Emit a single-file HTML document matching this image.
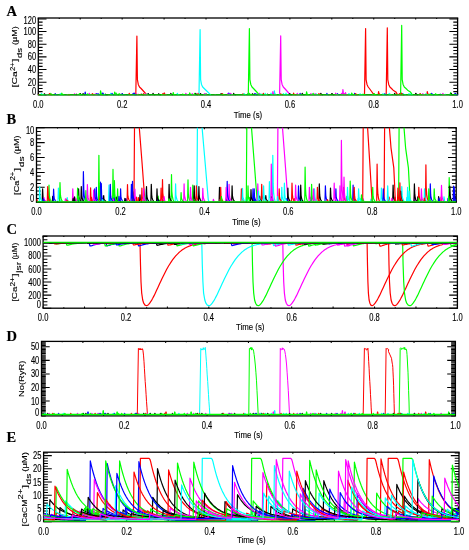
<!DOCTYPE html><html><head><meta charset="utf-8"><style>html,body{margin:0;padding:0;background:#fff;}svg{display:block;filter:blur(0.4px);}text{font-family:"Liberation Sans", sans-serif;fill:#000;stroke:#000;stroke-width:0.15px;}</style></head><body>
<svg width="469" height="550" viewBox="0 0 469 550">
<rect width="469" height="550" fill="#fff"/>
<rect x="38.30" y="18.00" width="419.30" height="76.80" fill="none" stroke="#000" stroke-width="1.3"/>
<path d="M38.30 94.80h8.2M457.60 94.80h-8.2M38.30 91.64h4.3M457.60 91.64h-4.3M38.30 88.48h4.3M457.60 88.48h-4.3M38.30 85.32h4.3M457.60 85.32h-4.3M38.30 82.16h8.2M457.60 82.16h-8.2M38.30 79.00h4.3M457.60 79.00h-4.3M38.30 75.84h4.3M457.60 75.84h-4.3M38.30 72.68h4.3M457.60 72.68h-4.3M38.30 69.52h8.2M457.60 69.52h-8.2M38.30 66.36h4.3M457.60 66.36h-4.3M38.30 63.20h4.3M457.60 63.20h-4.3M38.30 60.03h4.3M457.60 60.03h-4.3M38.30 56.87h8.2M457.60 56.87h-8.2M38.30 53.71h4.3M457.60 53.71h-4.3M38.30 50.55h4.3M457.60 50.55h-4.3M38.30 47.39h4.3M457.60 47.39h-4.3M38.30 44.23h8.2M457.60 44.23h-8.2M38.30 41.07h4.3M457.60 41.07h-4.3M38.30 37.91h4.3M457.60 37.91h-4.3M38.30 34.75h4.3M457.60 34.75h-4.3M38.30 31.59h8.2M457.60 31.59h-8.2M38.30 28.43h4.3M457.60 28.43h-4.3M38.30 25.27h4.3M457.60 25.27h-4.3M38.30 22.11h4.3M457.60 22.11h-4.3M38.30 18.95h8.2M457.60 18.95h-8.2M38.30 94.80v-1.6M38.30 18.00v1.6M59.27 94.80v-0.9M59.27 18.00v0.9M80.23 94.80v-1.6M80.23 18.00v1.6M101.20 94.80v-0.9M101.20 18.00v0.9M122.16 94.80v-1.6M122.16 18.00v1.6M143.12 94.80v-0.9M143.12 18.00v0.9M164.09 94.80v-1.6M164.09 18.00v1.6M185.06 94.80v-0.9M185.06 18.00v0.9M206.02 94.80v-1.6M206.02 18.00v1.6M226.99 94.80v-0.9M226.99 18.00v0.9M247.95 94.80v-1.6M247.95 18.00v1.6M268.92 94.80v-0.9M268.92 18.00v0.9M289.88 94.80v-1.6M289.88 18.00v1.6M310.85 94.80v-0.9M310.85 18.00v0.9M331.81 94.80v-1.6M331.81 18.00v1.6M352.78 94.80v-0.9M352.78 18.00v0.9M373.74 94.80v-1.6M373.74 18.00v1.6M394.71 94.80v-0.9M394.71 18.00v0.9M415.67 94.80v-1.6M415.67 18.00v1.6M436.64 94.80v-0.9M436.64 18.00v0.9M457.60 94.80v-1.6M457.60 18.00v1.6" stroke="#000" stroke-width="1.05" fill="none"/>
<text transform="translate(36.10,94.90) scale(0.72,1)" text-anchor="end" font-size="10.5" >0</text>
<text transform="translate(36.10,85.66) scale(0.72,1)" text-anchor="end" font-size="10.5" >20</text>
<text transform="translate(36.10,73.02) scale(0.72,1)" text-anchor="end" font-size="10.5" >40</text>
<text transform="translate(36.10,60.37) scale(0.72,1)" text-anchor="end" font-size="10.5" >60</text>
<text transform="translate(36.10,47.73) scale(0.72,1)" text-anchor="end" font-size="10.5" >80</text>
<text transform="translate(36.10,35.09) scale(0.72,1)" text-anchor="end" font-size="10.5" >100</text>
<text transform="translate(36.10,24.00) scale(0.72,1)" text-anchor="end" font-size="10.5" >120</text>
<text transform="translate(38.30,107.70) scale(0.72,1)" text-anchor="middle" font-size="10.5" >0.0</text>
<text transform="translate(122.16,107.70) scale(0.72,1)" text-anchor="middle" font-size="10.5" >0.2</text>
<text transform="translate(206.02,107.70) scale(0.72,1)" text-anchor="middle" font-size="10.5" >0.4</text>
<text transform="translate(289.88,107.70) scale(0.72,1)" text-anchor="middle" font-size="10.5" >0.6</text>
<text transform="translate(373.74,107.70) scale(0.72,1)" text-anchor="middle" font-size="10.5" >0.8</text>
<text transform="translate(457.60,107.70) scale(0.72,1)" text-anchor="middle" font-size="10.5" >1.0</text>
<rect x="36.50" y="127.70" width="419.70" height="74.50" fill="none" stroke="#000" stroke-width="1.3"/>
<path d="M36.50 202.20h8.2M456.20 202.20h-8.2M36.50 198.47h4.3M456.20 198.47h-4.3M36.50 194.75h4.3M456.20 194.75h-4.3M36.50 191.02h4.3M456.20 191.02h-4.3M36.50 187.30h8.2M456.20 187.30h-8.2M36.50 183.57h4.3M456.20 183.57h-4.3M36.50 179.85h4.3M456.20 179.85h-4.3M36.50 176.12h4.3M456.20 176.12h-4.3M36.50 172.40h8.2M456.20 172.40h-8.2M36.50 168.68h4.3M456.20 168.68h-4.3M36.50 164.95h4.3M456.20 164.95h-4.3M36.50 161.22h4.3M456.20 161.22h-4.3M36.50 157.50h8.2M456.20 157.50h-8.2M36.50 153.78h4.3M456.20 153.78h-4.3M36.50 150.05h4.3M456.20 150.05h-4.3M36.50 146.32h4.3M456.20 146.32h-4.3M36.50 142.60h8.2M456.20 142.60h-8.2M36.50 138.88h4.3M456.20 138.88h-4.3M36.50 135.15h4.3M456.20 135.15h-4.3M36.50 131.43h4.3M456.20 131.43h-4.3M36.50 127.70h8.2M456.20 127.70h-8.2M36.50 202.20v-1.6M36.50 127.70v1.6M57.48 202.20v-0.9M57.48 127.70v0.9M78.47 202.20v-1.6M78.47 127.70v1.6M99.46 202.20v-0.9M99.46 127.70v0.9M120.44 202.20v-1.6M120.44 127.70v1.6M141.43 202.20v-0.9M141.43 127.70v0.9M162.41 202.20v-1.6M162.41 127.70v1.6M183.40 202.20v-0.9M183.40 127.70v0.9M204.38 202.20v-1.6M204.38 127.70v1.6M225.37 202.20v-0.9M225.37 127.70v0.9M246.35 202.20v-1.6M246.35 127.70v1.6M267.34 202.20v-0.9M267.34 127.70v0.9M288.32 202.20v-1.6M288.32 127.70v1.6M309.31 202.20v-0.9M309.31 127.70v0.9M330.29 202.20v-1.6M330.29 127.70v1.6M351.27 202.20v-0.9M351.27 127.70v0.9M372.26 202.20v-1.6M372.26 127.70v1.6M393.25 202.20v-0.9M393.25 127.70v0.9M414.23 202.20v-1.6M414.23 127.70v1.6M435.22 202.20v-0.9M435.22 127.70v0.9M456.20 202.20v-1.6M456.20 127.70v1.6" stroke="#000" stroke-width="1.05" fill="none"/>
<text transform="translate(34.30,202.30) scale(0.72,1)" text-anchor="end" font-size="10.5" >0</text>
<text transform="translate(34.30,190.80) scale(0.72,1)" text-anchor="end" font-size="10.5" >2</text>
<text transform="translate(34.30,175.90) scale(0.72,1)" text-anchor="end" font-size="10.5" >4</text>
<text transform="translate(34.30,161.00) scale(0.72,1)" text-anchor="end" font-size="10.5" >6</text>
<text transform="translate(34.30,146.10) scale(0.72,1)" text-anchor="end" font-size="10.5" >8</text>
<text transform="translate(34.30,133.70) scale(0.72,1)" text-anchor="end" font-size="10.5" >10</text>
<text transform="translate(36.50,215.10) scale(0.72,1)" text-anchor="middle" font-size="10.5" >0.0</text>
<text transform="translate(120.44,215.10) scale(0.72,1)" text-anchor="middle" font-size="10.5" >0.2</text>
<text transform="translate(204.38,215.10) scale(0.72,1)" text-anchor="middle" font-size="10.5" >0.4</text>
<text transform="translate(288.32,215.10) scale(0.72,1)" text-anchor="middle" font-size="10.5" >0.6</text>
<text transform="translate(372.26,215.10) scale(0.72,1)" text-anchor="middle" font-size="10.5" >0.8</text>
<text transform="translate(456.20,215.10) scale(0.72,1)" text-anchor="middle" font-size="10.5" >1.0</text>
<rect x="43.10" y="236.00" width="414.30" height="72.20" fill="none" stroke="#000" stroke-width="1.3"/>
<path d="M43.10 308.20h8.2M457.40 308.20h-8.2M43.10 304.94h4.3M457.40 304.94h-4.3M43.10 301.67h4.3M457.40 301.67h-4.3M43.10 298.41h4.3M457.40 298.41h-4.3M43.10 295.14h8.2M457.40 295.14h-8.2M43.10 291.88h4.3M457.40 291.88h-4.3M43.10 288.62h4.3M457.40 288.62h-4.3M43.10 285.35h4.3M457.40 285.35h-4.3M43.10 282.09h8.2M457.40 282.09h-8.2M43.10 278.82h4.3M457.40 278.82h-4.3M43.10 275.56h4.3M457.40 275.56h-4.3M43.10 272.30h4.3M457.40 272.30h-4.3M43.10 269.03h8.2M457.40 269.03h-8.2M43.10 265.77h4.3M457.40 265.77h-4.3M43.10 262.50h4.3M457.40 262.50h-4.3M43.10 259.24h4.3M457.40 259.24h-4.3M43.10 255.98h8.2M457.40 255.98h-8.2M43.10 252.71h4.3M457.40 252.71h-4.3M43.10 249.45h4.3M457.40 249.45h-4.3M43.10 246.18h4.3M457.40 246.18h-4.3M43.10 242.92h8.2M457.40 242.92h-8.2M43.10 239.66h4.3M457.40 239.66h-4.3M43.10 236.39h4.3M457.40 236.39h-4.3M43.10 308.20v-1.6M43.10 236.00v1.6M63.81 308.20v-0.9M63.81 236.00v0.9M84.53 308.20v-1.6M84.53 236.00v1.6M105.25 308.20v-0.9M105.25 236.00v0.9M125.96 308.20v-1.6M125.96 236.00v1.6M146.67 308.20v-0.9M146.67 236.00v0.9M167.39 308.20v-1.6M167.39 236.00v1.6M188.10 308.20v-0.9M188.10 236.00v0.9M208.82 308.20v-1.6M208.82 236.00v1.6M229.53 308.20v-0.9M229.53 236.00v0.9M250.25 308.20v-1.6M250.25 236.00v1.6M270.96 308.20v-0.9M270.96 236.00v0.9M291.68 308.20v-1.6M291.68 236.00v1.6M312.39 308.20v-0.9M312.39 236.00v0.9M333.11 308.20v-1.6M333.11 236.00v1.6M353.82 308.20v-0.9M353.82 236.00v0.9M374.54 308.20v-1.6M374.54 236.00v1.6M395.25 308.20v-0.9M395.25 236.00v0.9M415.97 308.20v-1.6M415.97 236.00v1.6M436.69 308.20v-0.9M436.69 236.00v0.9M457.40 308.20v-1.6M457.40 236.00v1.6" stroke="#000" stroke-width="1.05" fill="none"/>
<text transform="translate(40.90,308.30) scale(0.72,1)" text-anchor="end" font-size="10.5" >0</text>
<text transform="translate(40.90,298.64) scale(0.72,1)" text-anchor="end" font-size="10.5" >200</text>
<text transform="translate(40.90,285.59) scale(0.72,1)" text-anchor="end" font-size="10.5" >400</text>
<text transform="translate(40.90,272.53) scale(0.72,1)" text-anchor="end" font-size="10.5" >600</text>
<text transform="translate(40.90,259.48) scale(0.72,1)" text-anchor="end" font-size="10.5" >800</text>
<text transform="translate(40.90,246.42) scale(0.72,1)" text-anchor="end" font-size="10.5" >1000</text>
<text transform="translate(43.10,321.10) scale(0.72,1)" text-anchor="middle" font-size="10.5" >0.0</text>
<text transform="translate(125.96,321.10) scale(0.72,1)" text-anchor="middle" font-size="10.5" >0.2</text>
<text transform="translate(208.82,321.10) scale(0.72,1)" text-anchor="middle" font-size="10.5" >0.4</text>
<text transform="translate(291.68,321.10) scale(0.72,1)" text-anchor="middle" font-size="10.5" >0.6</text>
<text transform="translate(374.54,321.10) scale(0.72,1)" text-anchor="middle" font-size="10.5" >0.8</text>
<text transform="translate(457.40,321.10) scale(0.72,1)" text-anchor="middle" font-size="10.5" >1.0</text>
<rect x="41.50" y="341.40" width="413.90" height="74.50" fill="none" stroke="#000" stroke-width="1.3"/>
<path d="M41.50 415.90h4.3M455.40 415.90h-4.3M41.50 414.55h8.2M455.40 414.55h-8.2M41.50 413.19h4.3M455.40 413.19h-4.3M41.50 411.84h4.3M455.40 411.84h-4.3M41.50 410.48h4.3M455.40 410.48h-4.3M41.50 409.13h4.3M455.40 409.13h-4.3M41.50 407.77h4.3M455.40 407.77h-4.3M41.50 406.42h4.3M455.40 406.42h-4.3M41.50 405.06h4.3M455.40 405.06h-4.3M41.50 403.71h4.3M455.40 403.71h-4.3M41.50 402.35h4.3M455.40 402.35h-4.3M41.50 401.00h8.2M455.40 401.00h-8.2M41.50 399.65h4.3M455.40 399.65h-4.3M41.50 398.29h4.3M455.40 398.29h-4.3M41.50 396.94h4.3M455.40 396.94h-4.3M41.50 395.58h4.3M455.40 395.58h-4.3M41.50 394.23h4.3M455.40 394.23h-4.3M41.50 392.87h4.3M455.40 392.87h-4.3M41.50 391.52h4.3M455.40 391.52h-4.3M41.50 390.16h4.3M455.40 390.16h-4.3M41.50 388.81h4.3M455.40 388.81h-4.3M41.50 387.45h8.2M455.40 387.45h-8.2M41.50 386.10h4.3M455.40 386.10h-4.3M41.50 384.75h4.3M455.40 384.75h-4.3M41.50 383.39h4.3M455.40 383.39h-4.3M41.50 382.04h4.3M455.40 382.04h-4.3M41.50 380.68h4.3M455.40 380.68h-4.3M41.50 379.33h4.3M455.40 379.33h-4.3M41.50 377.97h4.3M455.40 377.97h-4.3M41.50 376.62h4.3M455.40 376.62h-4.3M41.50 375.26h4.3M455.40 375.26h-4.3M41.50 373.91h8.2M455.40 373.91h-8.2M41.50 372.55h4.3M455.40 372.55h-4.3M41.50 371.20h4.3M455.40 371.20h-4.3M41.50 369.85h4.3M455.40 369.85h-4.3M41.50 368.49h4.3M455.40 368.49h-4.3M41.50 367.14h4.3M455.40 367.14h-4.3M41.50 365.78h4.3M455.40 365.78h-4.3M41.50 364.43h4.3M455.40 364.43h-4.3M41.50 363.07h4.3M455.40 363.07h-4.3M41.50 361.72h4.3M455.40 361.72h-4.3M41.50 360.36h8.2M455.40 360.36h-8.2M41.50 359.01h4.3M455.40 359.01h-4.3M41.50 357.65h4.3M455.40 357.65h-4.3M41.50 356.30h4.3M455.40 356.30h-4.3M41.50 354.95h4.3M455.40 354.95h-4.3M41.50 353.59h4.3M455.40 353.59h-4.3M41.50 352.24h4.3M455.40 352.24h-4.3M41.50 350.88h4.3M455.40 350.88h-4.3M41.50 349.53h4.3M455.40 349.53h-4.3M41.50 348.17h4.3M455.40 348.17h-4.3M41.50 346.82h8.2M455.40 346.82h-8.2M41.50 345.46h4.3M455.40 345.46h-4.3M41.50 344.11h4.3M455.40 344.11h-4.3M41.50 342.75h4.3M455.40 342.75h-4.3M41.50 341.40h4.3M455.40 341.40h-4.3M41.50 415.90v-1.6M41.50 341.40v1.6M62.20 415.90v-0.9M62.20 341.40v0.9M82.89 415.90v-1.6M82.89 341.40v1.6M103.59 415.90v-0.9M103.59 341.40v0.9M124.28 415.90v-1.6M124.28 341.40v1.6M144.97 415.90v-0.9M144.97 341.40v0.9M165.67 415.90v-1.6M165.67 341.40v1.6M186.37 415.90v-0.9M186.37 341.40v0.9M207.06 415.90v-1.6M207.06 341.40v1.6M227.75 415.90v-0.9M227.75 341.40v0.9M248.45 415.90v-1.6M248.45 341.40v1.6M269.14 415.90v-0.9M269.14 341.40v0.9M289.84 415.90v-1.6M289.84 341.40v1.6M310.53 415.90v-0.9M310.53 341.40v0.9M331.23 415.90v-1.6M331.23 341.40v1.6M351.92 415.90v-0.9M351.92 341.40v0.9M372.62 415.90v-1.6M372.62 341.40v1.6M393.31 415.90v-0.9M393.31 341.40v0.9M414.01 415.90v-1.6M414.01 341.40v1.6M434.70 415.90v-0.9M434.70 341.40v0.9M455.40 415.90v-1.6M455.40 341.40v1.6" stroke="#000" stroke-width="1.05" fill="none"/>
<text transform="translate(39.30,416.00) scale(0.72,1)" text-anchor="end" font-size="10.5" >0</text>
<text transform="translate(39.30,404.50) scale(0.72,1)" text-anchor="end" font-size="10.5" >10</text>
<text transform="translate(39.30,390.95) scale(0.72,1)" text-anchor="end" font-size="10.5" >20</text>
<text transform="translate(39.30,377.41) scale(0.72,1)" text-anchor="end" font-size="10.5" >30</text>
<text transform="translate(39.30,363.86) scale(0.72,1)" text-anchor="end" font-size="10.5" >40</text>
<text transform="translate(39.30,350.32) scale(0.72,1)" text-anchor="end" font-size="10.5" >50</text>
<text transform="translate(41.50,428.80) scale(0.72,1)" text-anchor="middle" font-size="10.5" >0.0</text>
<text transform="translate(124.28,428.80) scale(0.72,1)" text-anchor="middle" font-size="10.5" >0.2</text>
<text transform="translate(207.06,428.80) scale(0.72,1)" text-anchor="middle" font-size="10.5" >0.4</text>
<text transform="translate(289.84,428.80) scale(0.72,1)" text-anchor="middle" font-size="10.5" >0.6</text>
<text transform="translate(372.62,428.80) scale(0.72,1)" text-anchor="middle" font-size="10.5" >0.8</text>
<text transform="translate(455.40,428.80) scale(0.72,1)" text-anchor="middle" font-size="10.5" >1.0</text>
<rect x="43.60" y="452.20" width="415.40" height="69.40" fill="none" stroke="#000" stroke-width="1.3"/>
<path d="M43.60 521.60h8.2M459.00 521.60h-8.2M43.60 518.96h4.3M459.00 518.96h-4.3M43.60 516.32h4.3M459.00 516.32h-4.3M43.60 513.68h4.3M459.00 513.68h-4.3M43.60 511.04h4.3M459.00 511.04h-4.3M43.60 508.41h8.2M459.00 508.41h-8.2M43.60 505.77h4.3M459.00 505.77h-4.3M43.60 503.13h4.3M459.00 503.13h-4.3M43.60 500.49h4.3M459.00 500.49h-4.3M43.60 497.85h4.3M459.00 497.85h-4.3M43.60 495.21h8.2M459.00 495.21h-8.2M43.60 492.57h4.3M459.00 492.57h-4.3M43.60 489.93h4.3M459.00 489.93h-4.3M43.60 487.30h4.3M459.00 487.30h-4.3M43.60 484.66h4.3M459.00 484.66h-4.3M43.60 482.02h8.2M459.00 482.02h-8.2M43.60 479.38h4.3M459.00 479.38h-4.3M43.60 476.74h4.3M459.00 476.74h-4.3M43.60 474.10h4.3M459.00 474.10h-4.3M43.60 471.46h4.3M459.00 471.46h-4.3M43.60 468.82h8.2M459.00 468.82h-8.2M43.60 466.19h4.3M459.00 466.19h-4.3M43.60 463.55h4.3M459.00 463.55h-4.3M43.60 460.91h4.3M459.00 460.91h-4.3M43.60 458.27h4.3M459.00 458.27h-4.3M43.60 455.63h8.2M459.00 455.63h-8.2M43.60 452.99h4.3M459.00 452.99h-4.3M43.60 521.60v-1.6M43.60 452.20v1.6M64.37 521.60v-0.9M64.37 452.20v0.9M85.14 521.60v-1.6M85.14 452.20v1.6M105.91 521.60v-0.9M105.91 452.20v0.9M126.68 521.60v-1.6M126.68 452.20v1.6M147.45 521.60v-0.9M147.45 452.20v0.9M168.22 521.60v-1.6M168.22 452.20v1.6M188.99 521.60v-0.9M188.99 452.20v0.9M209.76 521.60v-1.6M209.76 452.20v1.6M230.53 521.60v-0.9M230.53 452.20v0.9M251.30 521.60v-1.6M251.30 452.20v1.6M272.07 521.60v-0.9M272.07 452.20v0.9M292.84 521.60v-1.6M292.84 452.20v1.6M313.61 521.60v-0.9M313.61 452.20v0.9M334.38 521.60v-1.6M334.38 452.20v1.6M355.15 521.60v-0.9M355.15 452.20v0.9M375.92 521.60v-1.6M375.92 452.20v1.6M396.69 521.60v-0.9M396.69 452.20v0.9M417.46 521.60v-1.6M417.46 452.20v1.6M438.23 521.60v-0.9M438.23 452.20v0.9M459.00 521.60v-1.6M459.00 452.20v1.6" stroke="#000" stroke-width="1.05" fill="none"/>
<text transform="translate(41.40,521.70) scale(0.72,1)" text-anchor="end" font-size="10.5" >0</text>
<text transform="translate(41.40,511.91) scale(0.72,1)" text-anchor="end" font-size="10.5" >5</text>
<text transform="translate(41.40,498.71) scale(0.72,1)" text-anchor="end" font-size="10.5" >10</text>
<text transform="translate(41.40,485.52) scale(0.72,1)" text-anchor="end" font-size="10.5" >15</text>
<text transform="translate(41.40,472.32) scale(0.72,1)" text-anchor="end" font-size="10.5" >20</text>
<text transform="translate(41.40,459.13) scale(0.72,1)" text-anchor="end" font-size="10.5" >25</text>
<text transform="translate(43.60,534.50) scale(0.72,1)" text-anchor="middle" font-size="10.5" >0.0</text>
<text transform="translate(126.68,534.50) scale(0.72,1)" text-anchor="middle" font-size="10.5" >0.2</text>
<text transform="translate(209.76,534.50) scale(0.72,1)" text-anchor="middle" font-size="10.5" >0.4</text>
<text transform="translate(292.84,534.50) scale(0.72,1)" text-anchor="middle" font-size="10.5" >0.6</text>
<text transform="translate(375.92,534.50) scale(0.72,1)" text-anchor="middle" font-size="10.5" >0.8</text>
<text transform="translate(459.00,534.50) scale(0.72,1)" text-anchor="middle" font-size="10.5" >1.0</text>
<defs>
<clipPath id="cpA"><rect x="38.30" y="18.00" width="419.30" height="77.70"/></clipPath>
<clipPath id="cpB"><rect x="36.50" y="127.70" width="419.70" height="75.40"/></clipPath>
<clipPath id="cpC"><rect x="43.10" y="236.00" width="414.30" height="73.10"/></clipPath>
<clipPath id="cpD"><rect x="41.50" y="341.40" width="413.90" height="75.40"/></clipPath>
<clipPath id="cpE"><rect x="43.60" y="452.20" width="415.40" height="70.30"/></clipPath>
</defs>
<g clip-path="url(#cpA)" fill="none" stroke-width="1.2" stroke-linejoin="round">
<path d="M54.2 94.7L54.5 94.3L55.1 94.7M80.0 94.7L80.4 93.7L80.7 94.3L81.2 94.5L81.9 94.6L82.7 94.7M118.0 94.7L118.3 94.4L118.9 94.7M152.6 94.7L153.0 93.3L153.3 94.2L153.8 94.4L154.5 94.6L155.3 94.7M220.7 94.7L221.1 93.5L221.5 94.3L221.9 94.5L222.6 94.6L223.4 94.7M267.0 94.7L267.4 94.2L267.7 94.6L268.2 94.6L268.9 94.7L269.7 94.7M320.4 94.7L320.8 93.3L321.2 94.2L321.6 94.4L322.3 94.6L323.1 94.7M418.9 94.7L419.2 94.3L419.8 94.7M456.3 94.7L456.6 94.3L457.2 94.7" stroke="#000000"/>
<path d="M38.2 94.7L38.5 94.5L39.1 94.7M91.9 94.7L92.3 93.6L92.7 94.3L93.1 94.5L93.8 94.6L94.6 94.7M135.8 94.7L136.9 36.0L137.4 79.6L138.3 84.4L139.5 87.0L141.1 88.5L143.8 91.5L146.6 94.6L147.2 94.7M242.6 94.7L243.0 93.7L243.4 94.3L243.8 94.5L244.5 94.6L245.3 94.7M295.6 94.7L295.9 94.5L296.5 94.7M344.7 94.7L345.1 93.5L345.5 94.3L345.9 94.5L346.6 94.6L347.4 94.7M386.2 94.7L387.3 27.8L387.8 79.6L388.7 84.4L389.9 87.0L391.5 88.5L393.1 90.2L395.9 91.9L397.4 94.6L398.0 94.7M426.9 94.7L427.3 91.6L427.7 93.5L428.1 94.1L428.8 94.5L429.6 94.7" stroke="#ff0000"/>
<path d="M80.1 94.7L80.4 94.3L81.0 94.7M118.9 94.7L119.3 93.7L119.7 94.3L120.1 94.5L120.8 94.6L121.6 94.7M159.5 94.7L159.9 94.3L160.2 94.6L160.7 94.6L161.4 94.7L162.2 94.7M182.4 94.7L182.8 94.0L183.1 94.5L183.6 94.6L184.3 94.7L185.1 94.7M194.1 94.7L194.5 93.3L194.8 94.2L195.3 94.4L196.0 94.6L196.8 94.7M249.2 94.7L249.6 93.4L249.9 94.2L250.4 94.5L251.1 94.6L251.9 94.7M348.0 94.7L348.3 94.3L348.9 94.7M400.6 94.7L401.7 25.4L402.2 79.6L403.1 84.4L404.3 87.0L406.0 88.5L407.6 90.2L410.4 91.9L412.1 94.6L412.7 94.7M450.2 94.7L450.6 92.7L451.0 94.0L451.4 94.3L452.1 94.6L452.9 94.7" stroke="#00ff00"/>
<path d="M80.4 94.7L80.7 94.6L81.3 94.7M101.8 94.7L102.2 93.1L102.6 94.1L103.0 94.4L103.7 94.6L104.5 94.7M127.3 94.7L127.6 94.5L128.2 94.7M132.7 94.7L133.1 93.3L133.5 94.2L133.9 94.4L134.6 94.6L135.4 94.7M254.2 94.7L254.6 93.7L254.9 94.3L255.4 94.5L256.1 94.6L256.9 94.7M312.2 94.7L312.5 94.4L313.1 94.7M354.2 94.7L354.6 93.3L354.9 94.2L355.4 94.4L356.1 94.6L356.9 94.7M449.1 94.7L449.4 94.5L450.0 94.7" stroke="#0000ff"/>
<path d="M68.6 94.7L68.9 94.4L69.5 94.7M147.6 94.7L148.0 93.7L148.3 94.3L148.8 94.5L149.5 94.6L150.3 94.7M247.6 94.7L247.9 94.4L248.5 94.7M274.0 94.7L274.4 90.8L274.7 93.2L275.2 94.0L275.9 94.5L276.7 94.7M302.1 94.7L302.4 94.4L303.0 94.7M359.3 94.7L359.6 94.5L360.2 94.7M372.2 94.7L372.5 94.5L373.1 94.7M407.9 94.7L408.2 94.4L408.8 94.7M425.5 94.7L425.9 93.7L426.3 94.3L426.7 94.5L427.4 94.6L428.2 94.7" stroke="#00ffff"/>
<path d="M74.2 94.7L74.6 93.7L74.9 94.3L75.4 94.5L76.1 94.6L76.9 94.7M136.2 94.7L136.6 93.7L137.0 94.4L137.4 94.5L138.1 94.6L138.9 94.7M185.4 94.7L185.8 93.3L186.1 94.2L186.6 94.4L187.3 94.6L188.1 94.7M229.8 94.7L230.1 94.5L230.7 94.7M259.6 94.7L259.9 94.6L260.5 94.7M279.6 94.7L280.7 35.9L281.2 79.6L282.1 84.4L283.3 87.0L284.7 88.5L287.4 91.5L290.1 94.6L290.7 94.7M341.1 94.7L341.5 93.4L341.9 94.2L342.3 94.5L343.0 94.6L343.8 94.7M364.4 94.7L364.7 94.5L365.3 94.7M415.6 94.7L416.0 94.2L416.4 94.5L416.8 94.6L417.5 94.7L418.3 94.7" stroke="#ff00ff"/>
<path d="M44.0 94.7L44.4 93.7L44.7 94.3L45.2 94.5L45.9 94.6L46.7 94.7M76.0 94.7L76.3 94.3L76.9 94.7M117.8 94.7L118.1 94.5L118.7 94.7M147.8 94.7L148.2 93.5L148.5 94.3L149.0 94.5L149.7 94.6L150.5 94.7M195.4 94.7L195.8 93.4L196.2 94.2L196.6 94.5L197.3 94.6L198.1 94.7M233.3 94.7L233.7 93.4L234.1 94.2L234.5 94.5L235.2 94.6L236.0 94.7M289.1 94.7L289.5 93.6L289.8 94.3L290.3 94.5L291.0 94.6L291.8 94.7M394.2 94.7L394.6 93.3L394.9 94.2L395.4 94.4L396.1 94.6L396.9 94.7M439.7 94.7L440.0 94.3L440.6 94.7" stroke="#000000"/>
<path d="M50.6 94.7L50.9 94.5L51.5 94.7M92.9 94.7L93.2 94.4L93.8 94.7M134.3 94.7L134.7 93.9L135.1 94.4L135.5 94.5L136.2 94.7L137.0 94.7M139.9 94.7L140.2 94.4L140.8 94.7M163.8 94.7L164.2 92.9L164.5 94.0L165.0 94.4L165.7 94.6L166.5 94.7M262.9 94.7L263.3 93.3L263.6 94.2L264.1 94.4L264.8 94.6L265.6 94.7M318.5 94.7L318.9 93.5L319.3 94.3L319.7 94.5L320.4 94.6L321.2 94.7M378.2 94.7L378.6 91.6L378.9 93.5L379.4 94.1L380.1 94.5L380.9 94.7M419.8 94.7L420.2 93.5L420.6 94.3L421.0 94.5L421.7 94.6L422.5 94.7M442.2 94.7L442.5 94.4L443.1 94.7" stroke="#ff0000"/>
<path d="M79.0 94.7L79.4 93.6L79.7 94.3L80.2 94.5L80.9 94.6L81.7 94.7M87.3 94.7L87.7 93.8L88.0 94.4L88.5 94.5L89.2 94.6L90.0 94.7M114.3 94.7L114.7 92.0L115.1 93.7L115.5 94.2L116.2 94.5L117.0 94.7M172.8 94.7L173.2 92.5L173.5 93.9L174.0 94.3L174.7 94.6L175.5 94.7M248.3 94.7L249.4 28.6L249.9 79.6L250.8 84.4L252.0 87.0L253.5 88.5L256.3 91.5L259.1 94.6L259.7 94.7M351.3 94.7L351.7 93.0L352.1 94.1L352.5 94.4L353.2 94.6L354.0 94.7M422.6 94.7L422.9 94.5L423.5 94.7M435.2 94.7L435.6 93.7L436.0 94.3L436.4 94.5L437.1 94.6L437.9 94.7" stroke="#00ff00"/>
<path d="M84.8 94.7L85.2 92.2L85.5 93.8L86.0 94.2L86.7 94.5L87.5 94.7M120.4 94.7L120.7 94.3L121.3 94.7M127.4 94.7L127.7 94.5L128.3 94.7M133.8 94.7L134.2 93.0L134.6 94.1L135.0 94.4L135.7 94.6L136.5 94.7M255.7 94.7L256.0 94.4L256.6 94.7M326.5 94.7L326.9 93.4L327.3 94.2L327.7 94.5L328.4 94.6L329.2 94.7M431.3 94.7L431.7 93.3L432.1 94.2L432.5 94.4L433.2 94.6L434.0 94.7" stroke="#0000ff"/>
<path d="M59.8 94.7L60.2 93.6L60.5 94.3L61.0 94.5L61.7 94.6L62.5 94.7M111.6 94.7L111.9 94.4L112.5 94.7M199.0 94.7L200.1 29.7L200.6 79.6L201.5 84.4L202.7 87.0L204.2 88.5L207.3 91.5L210.4 94.6L211.0 94.7M264.8 94.7L265.2 93.4L265.5 94.2L266.0 94.5L266.7 94.6L267.5 94.7M283.0 94.7L283.4 93.5L283.7 94.3L284.2 94.5L284.9 94.6L285.7 94.7M315.6 94.7L316.0 93.7L316.4 94.3L316.8 94.5L317.5 94.6L318.3 94.7M362.0 94.7L362.3 94.5L362.9 94.7M382.5 94.7L382.9 93.6L383.2 94.3L383.7 94.5L384.4 94.6L385.2 94.7M408.6 94.7L409.0 93.5L409.4 94.3L409.8 94.5L410.5 94.6L411.3 94.7" stroke="#00ffff"/>
<path d="M45.4 94.7L45.8 94.4L46.1 94.6L46.6 94.6L47.3 94.7L48.1 94.7M88.8 94.7L89.2 93.3L89.5 94.2L90.0 94.4L90.7 94.6L91.5 94.7M165.5 94.7L165.8 94.3L166.4 94.7M214.7 94.7L215.0 94.6L215.6 94.7M259.0 94.7L259.4 93.3L259.7 94.2L260.2 94.4L260.9 94.6L261.7 94.7M310.5 94.7L310.9 93.5L311.3 94.3L311.7 94.5L312.4 94.6L313.2 94.7M342.5 94.7L342.9 89.6L343.3 92.7L343.7 93.8L344.4 94.4L345.2 94.7M422.4 94.7L422.8 93.7L423.2 94.3L423.6 94.5L424.3 94.6L425.1 94.7" stroke="#ff00ff"/>
<path d="M74.5 94.7L74.8 94.5L75.4 94.7M82.7 94.7L83.1 93.5L83.4 94.3L83.9 94.5L84.6 94.6L85.4 94.7M141.3 94.7L141.7 94.2L142.1 94.5L142.5 94.6L143.2 94.7L144.0 94.7M170.4 94.7L170.8 93.3L171.1 94.2L171.6 94.4L172.3 94.6L173.1 94.7M227.7 94.7L228.0 94.4L228.6 94.7M260.9 94.7L261.3 94.3L261.6 94.6L262.1 94.6L262.8 94.7L263.6 94.7M272.5 94.7L272.8 94.3L273.4 94.7M331.6 94.7L332.0 93.6L332.4 94.3L332.8 94.5L333.5 94.6L334.3 94.7M415.4 94.7L415.8 93.3L416.2 94.2L416.6 94.4L417.3 94.6L418.1 94.7" stroke="#000000"/>
<path d="M67.4 94.7L67.8 94.5L68.1 94.7L68.6 94.7L69.3 94.7L70.1 94.7M128.8 94.7L129.2 93.3L129.6 94.2L130.0 94.4L130.7 94.6L131.5 94.7M197.6 94.7L198.0 93.4L198.4 94.2L198.8 94.5L199.5 94.6L200.3 94.7M280.4 94.7L280.8 93.7L281.1 94.3L281.6 94.5L282.3 94.6L283.1 94.7M328.8 94.7L329.1 94.6L329.7 94.7M364.5 94.7L365.6 28.6L366.1 79.6L367.0 84.4L368.2 87.0L369.4 88.5L371.6 91.5L373.8 94.6L374.4 94.7M399.0 94.7L399.4 93.6L399.7 94.3L400.2 94.5L400.9 94.6L401.7 94.7M425.5 94.7L425.8 94.5L426.4 94.7" stroke="#ff0000"/>
<path d="M50.4 94.7L50.8 93.3L51.1 94.2L51.6 94.4L52.3 94.6L53.1 94.7M86.9 94.7L87.2 94.5L87.8 94.7M115.7 94.7L116.1 93.0L116.5 94.1L116.9 94.4L117.6 94.6L118.4 94.7M145.8 94.7L146.1 94.3L146.7 94.7M189.3 94.7L189.7 92.9L190.0 94.0L190.5 94.4L191.2 94.6L192.0 94.7M250.9 94.7L251.2 94.4L251.8 94.7M312.7 94.7L313.1 93.3L313.5 94.2L313.9 94.4L314.6 94.6L315.4 94.7M373.8 94.7L374.2 93.5L374.5 94.3L375.0 94.5L375.7 94.6L376.5 94.7M429.8 94.7L430.2 93.7L430.6 94.3L431.0 94.5L431.7 94.6L432.5 94.7" stroke="#00ff00"/>
<path d="M55.0 94.7L55.4 93.7L55.7 94.4L56.2 94.5L56.9 94.6L57.7 94.7M97.6 94.7L98.0 93.5L98.4 94.3L98.8 94.5L99.5 94.6L100.3 94.7M115.4 94.7L115.7 94.4L116.3 94.7M121.9 94.7L122.3 93.7L122.7 94.3L123.1 94.5L123.8 94.6L124.6 94.7M159.2 94.7L159.5 94.6L160.1 94.7M255.4 94.7L255.8 93.7L256.1 94.3L256.6 94.5L257.3 94.6L258.1 94.7M299.7 94.7L300.1 93.4L300.4 94.2L300.9 94.5L301.6 94.6L302.4 94.7M384.4 94.7L384.8 93.7L385.1 94.3L385.6 94.5L386.3 94.6L387.1 94.7M454.6 94.7L455.0 93.4L455.4 94.3L455.8 94.5L456.5 94.6L457.3 94.7" stroke="#0000ff"/>
<path d="M41.1 94.7L41.5 93.5L41.8 94.3L42.3 94.5L43.0 94.6L43.8 94.7M110.3 94.7L110.7 93.3L111.1 94.2L111.5 94.4L112.2 94.6L113.0 94.7M243.7 94.7L244.1 93.6L244.5 94.3L244.9 94.5L245.6 94.6L246.4 94.7M270.6 94.7L271.0 93.1L271.3 94.1L271.8 94.4L272.5 94.6L273.3 94.7M348.6 94.7L349.0 93.5L349.4 94.3L349.8 94.5L350.5 94.6L351.3 94.7M402.9 94.7L403.3 93.5L403.6 94.3L404.1 94.5L404.8 94.6L405.6 94.7M445.1 94.7L445.4 94.3L446.0 94.7" stroke="#00ffff"/>
<path d="M77.5 94.7L77.8 94.5L78.4 94.7M114.7 94.7L115.0 94.5L115.6 94.7M162.2 94.7L162.5 94.6L163.1 94.7M204.0 94.7L204.4 93.6L204.8 94.3L205.2 94.5L205.9 94.6L206.7 94.7M230.3 94.7L230.7 93.3L231.1 94.2L231.5 94.4L232.2 94.6L233.0 94.7M272.5 94.7L272.9 91.6L273.2 93.5L273.7 94.1L274.4 94.5L275.2 94.7M314.6 94.7L315.0 93.7L315.4 94.3L315.8 94.5L316.5 94.6L317.3 94.7M345.1 94.7L345.5 92.7L345.9 94.0L346.3 94.3L347.0 94.6L347.8 94.7M442.5 94.7L442.9 93.4L443.3 94.2L443.7 94.4L444.4 94.6L445.2 94.7" stroke="#ff00ff"/>
<path d="M75.8 94.7L76.1 94.4L76.7 94.7M105.0 94.7L105.4 94.2L105.8 94.6L106.2 94.6L106.9 94.7L107.7 94.7M126.4 94.7L126.7 94.5L127.3 94.7M158.3 94.7L158.7 93.7L159.0 94.3L159.5 94.5L160.2 94.6L161.0 94.7M200.1 94.7L200.5 93.5L200.9 94.3L201.3 94.5L202.0 94.6L202.8 94.7M252.2 94.7L252.6 93.7L252.9 94.4L253.4 94.5L254.1 94.6L254.9 94.7M301.8 94.7L302.2 93.3L302.6 94.2L303.0 94.4L303.7 94.6L304.5 94.7M401.7 94.7L402.1 93.9L402.4 94.4L402.9 94.5L403.6 94.6L404.4 94.7M450.8 94.7L451.2 93.4L451.6 94.3L452.0 94.5L452.7 94.6L453.5 94.7" stroke="#000000"/>
<path d="M49.1 94.7L49.5 93.5L49.8 94.3L50.3 94.5L51.0 94.6L51.8 94.7M100.4 94.7L100.8 94.0L101.2 94.5L101.6 94.6L102.3 94.7L103.1 94.7M138.0 94.7L138.3 94.4L138.9 94.7M142.6 94.7L142.9 94.5L143.5 94.7M143.2 94.7L143.6 93.6L143.9 94.3L144.4 94.5L145.1 94.6L145.9 94.7M162.4 94.7L162.8 93.6L163.1 94.3L163.6 94.5L164.3 94.6L165.1 94.7M221.9 94.7L222.3 93.5L222.7 94.3L223.1 94.5L223.8 94.6L224.6 94.7M293.2 94.7L293.6 93.2L293.9 94.2L294.4 94.4L295.1 94.6L295.9 94.7M355.3 94.7L355.7 93.5L356.0 94.3L356.5 94.5L357.2 94.6L358.0 94.7M390.3 94.7L390.6 94.4L391.2 94.7M396.2 94.7L396.5 94.4L397.1 94.7M401.0 94.7L401.4 93.2L401.7 94.1L402.2 94.4L402.9 94.6L403.7 94.7" stroke="#ff0000"/>
<path d="M61.4 94.7L61.8 93.1L62.1 94.1L62.6 94.4L63.3 94.6L64.1 94.7M87.5 94.7L87.8 94.5L88.4 94.7M100.2 94.7L100.6 90.8L101.0 93.2L101.4 94.0L102.1 94.5L102.9 94.7M170.2 94.7L170.5 94.5L171.1 94.7M193.9 94.7L194.2 94.5L194.8 94.7M222.7 94.7L223.0 94.3L223.6 94.7M306.2 94.7L306.6 91.8L307.0 93.6L307.4 94.2L308.1 94.5L308.9 94.7M362.6 94.7L363.0 94.2L363.3 94.5L363.8 94.6L364.5 94.7L365.3 94.7M419.7 94.7L420.0 94.4L420.6 94.7M449.8 94.7L450.1 94.3L450.7 94.7" stroke="#00ff00"/>
<path d="M44.9 94.7L45.2 94.5L45.8 94.7M96.0 94.7L96.4 93.7L96.8 94.3L97.2 94.5L97.9 94.6L98.7 94.7M102.6 94.7L103.0 93.2L103.4 94.2L103.8 94.4L104.5 94.6L105.3 94.7M111.6 94.7L112.0 93.3L112.4 94.2L112.8 94.4L113.5 94.6L114.3 94.7M228.4 94.7L228.8 93.0L229.2 94.1L229.6 94.4L230.3 94.6L231.1 94.7M288.1 94.7L288.4 94.5L289.0 94.7M337.0 94.7L337.4 93.7L337.8 94.3L338.2 94.5L338.9 94.6L339.7 94.7M440.2 94.7L440.5 94.4L441.1 94.7M455.2 94.7L455.6 93.5L456.0 94.3L456.4 94.5L457.1 94.6L457.9 94.7" stroke="#0000ff"/>
<path d="M104.0 94.7L104.3 94.6L104.9 94.7M176.9 94.7L177.3 93.3L177.6 94.2L178.1 94.4L178.8 94.6L179.6 94.7M259.7 94.7L260.1 93.9L260.4 94.4L260.9 94.5L261.6 94.6L262.4 94.7M278.9 94.7L279.2 94.3L279.8 94.7M285.6 94.7L286.0 93.2L286.3 94.2L286.8 94.4L287.5 94.6L288.3 94.7M359.7 94.7L360.1 93.7L360.4 94.3L360.9 94.5L361.6 94.6L362.4 94.7M388.8 94.7L389.2 93.4L389.5 94.2L390.0 94.5L390.7 94.6L391.5 94.7M410.1 94.7L410.5 93.9L410.9 94.4L411.3 94.5L412.0 94.6L412.8 94.7" stroke="#00ffff"/>
<path d="M66.8 94.7L67.1 94.5L67.7 94.7M94.9 94.7L95.3 93.8L95.7 94.4L96.1 94.5L96.8 94.6L97.6 94.7M144.9 94.7L145.3 93.7L145.6 94.3L146.1 94.5L146.8 94.6L147.6 94.7M191.8 94.7L192.2 93.5L192.5 94.3L193.0 94.5L193.7 94.6L194.5 94.7M227.4 94.7L227.8 93.5L228.2 94.3L228.6 94.5L229.3 94.6L230.1 94.7M272.5 94.7L272.8 94.5L273.4 94.7M296.8 94.7L297.2 93.3L297.5 94.2L298.0 94.4L298.7 94.6L299.5 94.7M335.3 94.7L335.7 93.2L336.1 94.2L336.5 94.4L337.2 94.6L338.0 94.7M393.0 94.7L393.3 94.5L393.9 94.7" stroke="#ff00ff"/>
<path d="M38.30 94.80H457.60" stroke="#00e000" stroke-width="1.3"/>
</g>
<g clip-path="url(#cpB)" fill="none" stroke-width="1.2" stroke-linejoin="round">
<path d="M52.4 201.1L52.7 196.3L53.3 201.1M78.2 201.1L78.6 188.8L78.9 196.8L79.4 198.7L80.1 200.3L80.9 201.1M116.2 201.1L116.5 197.1L117.1 201.1M150.9 201.1L151.3 184.3L151.7 195.0L152.1 197.9L152.8 200.0L153.6 201.1M219.1 201.1L219.5 187.3L219.8 196.2L220.3 198.4L221.0 200.2L221.8 201.1M265.4 201.1L265.8 195.5L266.2 199.5L266.6 199.9L267.3 200.7L268.1 201.1M318.9 201.1L319.3 183.9L319.7 194.9L320.1 197.8L320.8 200.0L321.6 201.1M417.5 201.1L417.8 196.8L418.4 201.1M454.9 201.1L455.2 196.2L455.8 201.1" stroke="#000000"/>
<path d="M36.4 201.1L36.7 199.0L37.3 201.1M90.2 201.1L90.6 187.8L90.9 196.4L91.4 198.5L92.1 200.2L92.9 201.1M134.0 201.1L134.7 97.9L138.7 97.9L139.3 127.7L142.1 163.5L144.8 200.0L145.4 201.1M241.0 201.1L241.4 188.8L241.8 196.8L242.2 198.7L242.9 200.3L243.7 201.1M294.0 201.1L294.3 198.7L294.9 201.1M343.2 201.1L343.6 187.3L344.0 196.2L344.4 198.4L345.1 200.2L345.9 201.1M384.1 201.1L384.8 97.9L388.8 97.9L389.4 127.7L391.0 147.8L393.8 167.9L395.3 200.0L395.9 201.1M425.5 201.1L425.9 164.9L426.2 187.3L426.7 194.4L427.4 198.8L428.2 201.1" stroke="#ff0000"/>
<path d="M78.3 201.1L78.6 196.2L79.2 201.1M117.2 201.1L117.6 188.8L117.9 196.8L118.4 198.7L119.1 200.3L119.9 201.1M157.8 201.1L158.2 196.2L158.5 199.8L159.0 200.0L159.7 200.7L160.5 201.1M180.7 201.1L181.1 192.5L181.4 198.3L181.9 199.3L182.6 200.5L183.4 201.1M192.4 201.1L192.8 185.1L193.2 195.3L193.6 198.0L194.3 200.1L195.1 201.1M247.6 201.1L248.0 185.8L248.3 195.6L248.8 198.1L249.5 200.1L250.3 201.1M346.5 201.1L346.8 196.4L347.4 201.1M398.6 201.1L399.3 97.9L403.4 97.9L404.0 127.7L405.6 147.8L408.4 167.9L410.1 200.0L410.7 201.1M448.8 201.1L449.2 177.6L449.6 192.4L450.0 196.7L450.7 199.6L451.5 201.1" stroke="#00ff00"/>
<path d="M78.6 201.1L78.9 199.5L79.5 201.1M100.1 201.1L100.5 182.1L100.8 194.2L101.3 197.5L102.0 199.9L102.8 201.1M125.5 201.1L125.8 198.8L126.4 201.1M131.0 201.1L131.4 184.3L131.8 195.0L132.2 197.9L132.9 200.0L133.7 201.1M252.6 201.1L253.0 188.8L253.4 196.8L253.8 198.7L254.5 200.3L255.3 201.1M310.7 201.1L311.0 197.5L311.6 201.1M352.7 201.1L353.1 185.1L353.5 195.3L353.9 198.0L354.6 200.1L355.4 201.1M447.7 201.1L448.0 198.3L448.6 201.1" stroke="#0000ff"/>
<path d="M66.9 201.1L67.2 197.5L67.8 201.1M145.9 201.1L146.3 188.8L146.7 196.8L147.1 198.7L147.8 200.3L148.6 201.1M246.0 201.1L246.3 197.4L246.9 201.1M272.4 201.1L272.8 155.3L273.2 183.4L273.6 192.6L274.3 198.3L275.1 201.1M300.6 201.1L300.9 196.9L301.5 201.1M357.8 201.1L358.1 198.3L358.7 201.1M370.7 201.1L371.0 199.1L371.6 201.1M406.5 201.1L406.8 197.6L407.4 201.1M424.1 201.1L424.5 188.8L424.9 196.8L425.3 198.7L426.0 200.3L426.8 201.1" stroke="#00ffff"/>
<path d="M72.4 201.1L72.8 188.8L73.1 196.8L73.6 198.7L74.3 200.3L75.1 201.1M134.5 201.1L134.9 189.0L135.2 196.9L135.7 198.7L136.4 200.3L137.2 201.1M183.7 201.1L184.1 183.9L184.4 194.9L184.9 197.8L185.6 200.0L186.4 201.1M228.1 201.1L228.4 198.7L229.0 201.1M258.0 201.1L258.3 199.5L258.9 201.1M277.4 201.1L278.1 97.9L281.9 97.9L282.5 127.7L285.2 163.5L287.9 200.0L288.5 201.1M339.6 201.1L340.0 185.8L340.4 195.6L340.8 198.1L341.5 200.1L342.3 201.1M362.9 201.1L363.2 198.8L363.8 201.1M414.2 201.1L414.6 194.8L415.0 199.2L415.4 199.7L416.1 200.6L416.9 201.1" stroke="#ff00ff"/>
<path d="M42.2 201.1L42.6 188.8L43.0 196.8L43.4 198.7L44.1 200.3L44.9 201.1M74.3 201.1L74.6 196.8L75.2 201.1M116.0 201.1L116.3 198.9L116.9 201.1M146.1 201.1L146.5 186.6L146.8 195.9L147.3 198.3L148.0 200.1L148.8 201.1M193.8 201.1L194.2 185.8L194.5 195.6L195.0 198.1L195.7 200.1L196.5 201.1M231.7 201.1L232.1 185.8L232.4 195.6L232.9 198.1L233.6 200.1L234.4 201.1M287.5 201.1L287.9 188.0L288.2 196.5L288.7 198.5L289.4 200.2L290.2 201.1M392.7 201.1L393.1 185.1L393.5 195.3L393.9 198.0L394.6 200.1L395.4 201.1M438.3 201.1L438.6 196.7L439.2 201.1" stroke="#000000"/>
<path d="M48.8 201.1L49.1 198.1L49.7 201.1M91.2 201.1L91.5 197.4L92.1 201.1M132.6 201.1L133.0 191.8L133.3 198.0L133.8 199.2L134.5 200.5L135.3 201.1M138.2 201.1L138.5 197.6L139.1 201.1M162.1 201.1L162.5 179.5L162.8 193.1L163.3 197.0L164.0 199.7L164.8 201.1M261.3 201.1L261.7 184.3L262.1 195.0L262.5 197.9L263.2 200.0L264.0 201.1M317.0 201.1L317.4 187.3L317.8 196.2L318.2 198.4L318.9 200.2L319.7 201.1M376.7 201.1L377.1 164.2L377.5 187.0L377.9 194.2L378.6 198.8L379.4 201.1M418.4 201.1L418.8 187.3L419.2 196.2L419.6 198.4L420.3 200.2L421.1 201.1M440.8 201.1L441.1 197.0L441.7 201.1" stroke="#ff0000"/>
<path d="M77.2 201.1L77.6 188.0L77.9 196.5L78.4 198.5L79.1 200.2L79.9 201.1M85.5 201.1L85.9 190.5L86.2 197.5L86.7 199.0L87.4 200.4L88.2 201.1M112.6 201.1L113.0 169.4L113.3 189.1L113.8 195.2L114.5 199.1L115.3 201.1M171.1 201.1L171.5 174.6L171.8 191.2L172.3 196.1L173.0 199.4L173.8 201.1M246.3 201.1L247.0 97.9L250.9 97.9L251.5 127.7L254.3 163.5L257.1 200.0L257.7 201.1M349.8 201.1L350.2 181.0L350.6 193.7L351.0 197.3L351.7 199.8L352.5 201.1M421.2 201.1L421.5 199.0L422.1 201.1M433.8 201.1L434.2 188.8L434.6 196.8L435.0 198.7L435.7 200.3L436.5 201.1" stroke="#00ff00"/>
<path d="M83.0 201.1L83.4 171.7L83.8 190.0L84.2 195.6L84.9 199.2L85.7 201.1M118.7 201.1L119.0 196.3L119.6 201.1M125.7 201.1L126.0 198.8L126.6 201.1M132.1 201.1L132.5 181.3L132.8 193.9L133.3 197.3L134.0 199.8L134.8 201.1M254.1 201.1L254.4 197.5L255.0 201.1M325.0 201.1L325.4 185.8L325.8 195.6L326.2 198.1L326.9 200.1L327.7 201.1M429.9 201.1L430.3 183.9L430.7 194.9L431.1 197.8L431.8 200.0L432.6 201.1" stroke="#0000ff"/>
<path d="M58.0 201.1L58.4 188.0L58.8 196.5L59.2 198.5L59.9 200.2L60.7 201.1M109.8 201.1L110.1 197.2L110.7 201.1M196.9 201.1L197.6 97.9L201.5 97.9L202.1 127.7L205.2 163.5L208.3 200.0L208.9 201.1M263.2 201.1L263.6 185.8L264.0 195.6L264.4 198.1L265.1 200.1L265.9 201.1M281.4 201.1L281.8 187.3L282.1 196.2L282.6 198.4L283.3 200.2L284.1 201.1M314.1 201.1L314.5 188.8L314.9 196.8L315.3 198.7L316.0 200.3L316.8 201.1M360.5 201.1L360.8 198.6L361.4 201.1M381.0 201.1L381.4 188.0L381.8 196.5L382.2 198.5L382.9 200.2L383.7 201.1M407.2 201.1L407.6 187.3L408.0 196.2L408.4 198.4L409.1 200.2L409.9 201.1" stroke="#00ffff"/>
<path d="M43.6 201.1L44.0 197.7L44.4 200.4L44.8 200.3L45.5 200.8L46.3 201.1M87.0 201.1L87.4 184.6L87.8 195.2L88.2 197.9L88.9 200.0L89.7 201.1M163.8 201.1L164.1 196.6L164.7 201.1M213.1 201.1L213.4 199.4L214.0 201.1M257.4 201.1L257.8 183.9L258.2 194.9L258.6 197.8L259.3 200.0L260.1 201.1M309.0 201.1L309.4 187.3L309.8 196.2L310.2 198.4L310.9 200.2L311.7 201.1M341.0 201.1L341.4 140.4L341.8 177.5L342.2 190.0L342.9 197.4L343.7 201.1M421.0 201.1L421.4 188.8L421.8 196.8L422.2 198.7L422.9 200.3L423.7 201.1" stroke="#ff00ff"/>
<path d="M72.8 201.1L73.1 198.6L73.7 201.1M80.9 201.1L81.3 186.6L81.6 195.9L82.1 198.3L82.8 200.1L83.6 201.1M139.6 201.1L140.0 194.8L140.3 199.2L140.8 199.7L141.5 200.6L142.3 201.1M168.7 201.1L169.1 184.3L169.4 195.0L169.9 197.9L170.6 200.0L171.4 201.1M226.1 201.1L226.4 197.7L227.0 201.1M259.3 201.1L259.7 196.2L260.1 199.8L260.5 200.0L261.2 200.7L262.0 201.1M271.0 201.1L271.3 196.7L271.9 201.1M330.1 201.1L330.5 188.0L330.9 196.5L331.3 198.5L332.0 200.2L332.8 201.1M414.0 201.1L414.4 183.9L414.8 194.9L415.2 197.8L415.9 200.0L416.7 201.1" stroke="#000000"/>
<path d="M65.6 201.1L66.0 199.2L66.3 201.0L66.8 200.5L67.5 200.9L68.3 201.1M127.1 201.1L127.5 184.6L127.8 195.2L128.3 197.9L129.0 200.0L129.8 201.1M196.0 201.1L196.4 185.8L196.8 195.6L197.2 198.1L197.9 200.1L198.7 201.1M278.8 201.1L279.2 188.8L279.5 196.8L280.0 198.7L280.7 200.3L281.5 201.1M327.2 201.1L327.5 199.6L328.1 201.1M362.7 201.1L363.4 97.9L367.0 97.9L367.6 127.7L369.8 163.5L372.0 200.0L372.6 201.1M397.5 201.1L397.9 188.0L398.2 196.5L398.7 198.5L399.4 200.2L400.2 201.1M424.1 201.1L424.4 198.1L425.0 201.1" stroke="#ff0000"/>
<path d="M48.6 201.1L49.0 185.1L49.4 195.3L49.8 198.0L50.5 200.1L51.3 201.1M85.1 201.1L85.4 198.2L86.0 201.1M114.0 201.1L114.4 180.6L114.8 193.6L115.2 197.2L115.9 199.8L116.7 201.1M144.1 201.1L144.4 196.8L145.0 201.1M187.6 201.1L188.0 179.8L188.3 193.3L188.8 197.1L189.5 199.7L190.3 201.1M249.3 201.1L249.6 197.6L250.2 201.1M311.2 201.1L311.6 184.3L312.0 195.0L312.4 197.9L313.1 200.0L313.9 201.1M372.3 201.1L372.7 187.3L373.1 196.2L373.5 198.4L374.2 200.2L375.0 201.1M428.4 201.1L428.8 188.8L429.2 196.8L429.6 198.7L430.3 200.3L431.1 201.1" stroke="#00ff00"/>
<path d="M53.2 201.1L53.6 189.2L54.0 197.0L54.4 198.7L55.1 200.3L55.9 201.1M95.9 201.1L96.3 187.3L96.6 196.2L97.1 198.4L97.8 200.2L98.6 201.1M113.7 201.1L114.0 197.9L114.6 201.1M120.2 201.1L120.6 188.8L120.9 196.8L121.4 198.7L122.1 200.3L122.9 201.1M157.5 201.1L157.8 199.5L158.4 201.1M253.8 201.1L254.2 188.8L254.5 196.8L255.0 198.7L255.7 200.3L256.5 201.1M298.1 201.1L298.5 185.8L298.9 195.6L299.3 198.1L300.0 200.1L300.8 201.1M382.9 201.1L383.3 188.8L383.7 196.8L384.1 198.7L384.8 200.3L385.6 201.1M453.2 201.1L453.6 186.2L454.0 195.8L454.4 198.2L455.1 200.1L455.9 201.1" stroke="#0000ff"/>
<path d="M39.3 201.1L39.7 186.8L40.1 196.0L40.5 198.3L41.2 200.2L42.0 201.1M108.6 201.1L109.0 185.1L109.3 195.3L109.8 198.0L110.5 200.1L111.3 201.1M242.1 201.1L242.5 188.4L242.8 196.7L243.3 198.6L244.0 200.3L244.8 201.1M269.0 201.1L269.4 181.7L269.8 194.0L270.2 197.4L270.9 199.9L271.7 201.1M347.1 201.1L347.5 187.3L347.9 196.2L348.3 198.4L349.0 200.2L349.8 201.1M401.4 201.1L401.8 186.6L402.2 195.9L402.6 198.3L403.3 200.1L404.1 201.1M443.7 201.1L444.0 196.9L444.6 201.1" stroke="#00ffff"/>
<path d="M75.7 201.1L76.0 198.7L76.6 201.1M112.9 201.1L113.2 199.2L113.8 201.1M160.6 201.1L160.9 199.5L161.5 201.1M202.4 201.1L202.8 188.4L203.2 196.7L203.6 198.6L204.3 200.3L205.1 201.1M228.7 201.1L229.1 184.3L229.4 195.0L229.9 197.9L230.6 200.0L231.4 201.1M270.9 201.1L271.3 164.2L271.7 187.0L272.1 194.2L272.8 198.8L273.6 201.1M313.1 201.1L313.5 188.8L313.9 196.8L314.3 198.7L315.0 200.3L315.8 201.1M343.6 201.1L344.0 177.2L344.4 192.2L344.8 196.6L345.5 199.6L346.3 201.1M441.1 201.1L441.5 185.4L441.9 195.5L442.3 198.1L443.0 200.1L443.8 201.1" stroke="#ff00ff"/>
<path d="M74.0 201.1L74.3 197.7L74.9 201.1M103.3 201.1L103.7 195.5L104.0 199.5L104.5 199.9L105.2 200.7L106.0 201.1M124.6 201.1L124.9 198.3L125.5 201.1M156.6 201.1L157.0 188.8L157.3 196.8L157.8 198.7L158.5 200.3L159.3 201.1M198.5 201.1L198.9 186.6L199.2 195.9L199.7 198.3L200.4 200.1L201.2 201.1M250.6 201.1L251.0 189.5L251.3 197.1L251.8 198.8L252.5 200.3L253.3 201.1M300.3 201.1L300.7 185.1L301.1 195.3L301.5 198.0L302.2 200.1L303.0 201.1M400.2 201.1L400.6 191.0L401.0 197.7L401.4 199.1L402.1 200.4L402.9 201.1M449.4 201.1L449.8 186.2L450.2 195.8L450.6 198.2L451.3 200.1L452.1 201.1" stroke="#000000"/>
<path d="M47.3 201.1L47.7 186.6L48.1 195.9L48.5 198.3L49.2 200.1L50.0 201.1M98.7 201.1L99.1 193.3L99.4 198.6L99.9 199.5L100.6 200.5L101.4 201.1M136.3 201.1L136.6 197.2L137.2 201.1M140.9 201.1L141.2 199.1L141.8 201.1M141.5 201.1L141.9 188.0L142.2 196.5L142.7 198.5L143.4 200.2L144.2 201.1M160.7 201.1L161.1 188.0L161.4 196.5L161.9 198.5L162.6 200.2L163.4 201.1M220.3 201.1L220.7 187.3L221.0 196.2L221.5 198.4L222.2 200.2L223.0 201.1M291.6 201.1L292.0 183.2L292.4 194.6L292.8 197.7L293.5 199.9L294.3 201.1M353.8 201.1L354.2 187.3L354.6 196.2L355.0 198.4L355.7 200.2L356.5 201.1M388.8 201.1L389.1 197.2L389.7 201.1M394.8 201.1L395.1 197.4L395.7 201.1M399.5 201.1L399.9 182.8L400.2 194.5L400.7 197.6L401.4 199.9L402.2 201.1" stroke="#ff0000"/>
<path d="M59.6 201.1L60.0 182.5L60.4 194.3L60.8 197.5L61.5 199.9L62.3 201.1M85.7 201.1L86.0 198.9L86.6 201.1M98.5 201.1L98.9 155.3L99.2 183.4L99.7 192.6L100.4 198.3L101.2 201.1M168.5 201.1L168.8 198.9L169.4 201.1M192.2 201.1L192.5 198.1L193.1 201.1M221.1 201.1L221.4 196.7L222.0 201.1M304.7 201.1L305.1 167.2L305.5 188.2L305.9 194.8L306.6 199.0L307.4 201.1M361.1 201.1L361.5 194.8L361.9 199.2L362.3 199.7L363.0 200.6L363.8 201.1M418.2 201.1L418.5 198.1L419.1 201.1M448.4 201.1L448.7 196.3L449.3 201.1" stroke="#00ff00"/>
<path d="M43.2 201.1L43.5 198.8L44.1 201.1M94.3 201.1L94.7 188.9L95.1 196.9L95.5 198.7L96.2 200.3L97.0 201.1M100.9 201.1L101.3 183.6L101.6 194.8L102.1 197.7L102.8 200.0L103.6 201.1M109.9 201.1L110.3 184.3L110.6 195.0L111.1 197.9L111.8 200.0L112.6 201.1M226.8 201.1L227.2 181.3L227.5 193.9L228.0 197.3L228.7 199.8L229.5 201.1M286.5 201.1L286.8 198.7L287.4 201.1M335.5 201.1L335.9 188.8L336.2 196.8L336.7 198.7L337.4 200.3L338.2 201.1M438.7 201.1L439.0 198.0L439.6 201.1M453.8 201.1L454.2 187.3L454.6 196.2L455.0 198.4L455.7 200.2L456.5 201.1" stroke="#0000ff"/>
<path d="M102.3 201.1L102.6 199.7L103.2 201.1M175.2 201.1L175.6 183.9L175.9 194.9L176.4 197.8L177.1 200.0L177.9 201.1M258.1 201.1L258.5 191.0L258.9 197.7L259.3 199.1L260.0 200.4L260.8 201.1M277.3 201.1L277.6 196.6L278.2 201.1M284.0 201.1L284.4 183.2L284.8 194.6L285.2 197.7L285.9 199.9L286.7 201.1M358.2 201.1L358.6 188.8L359.0 196.8L359.4 198.7L360.1 200.3L360.9 201.1M387.3 201.1L387.7 185.8L388.1 195.6L388.5 198.1L389.2 200.1L390.0 201.1M408.7 201.1L409.1 191.0L409.5 197.7L409.9 199.1L410.6 200.4L411.4 201.1" stroke="#00ffff"/>
<path d="M65.1 201.1L65.4 198.9L66.0 201.1M93.2 201.1L93.6 190.0L93.9 197.3L94.4 198.9L95.1 200.3L95.9 201.1M143.2 201.1L143.6 188.8L143.9 196.8L144.4 198.7L145.1 200.3L145.9 201.1M190.1 201.1L190.5 187.3L190.8 196.2L191.3 198.4L192.0 200.2L192.8 201.1M225.8 201.1L226.2 187.3L226.5 196.2L227.0 198.4L227.7 200.2L228.5 201.1M270.9 201.1L271.2 198.1L271.8 201.1M295.2 201.1L295.6 185.1L296.0 195.3L296.4 198.0L297.1 200.1L297.9 201.1M333.8 201.1L334.2 183.2L334.6 194.6L335.0 197.7L335.7 199.9L336.5 201.1M391.5 201.1L391.8 198.4L392.4 201.1" stroke="#ff00ff"/>
<path d="M36.50 201.90H456.20" stroke="#00e000" stroke-width="1.3"/>
</g>
<g clip-path="url(#cpC)" fill="none" stroke-width="1.2" stroke-linejoin="round">
<path d="M156.1 242.9L157.0 245.3L158.0 245.2L159.0 244.9L160.0 244.7L161.0 244.5L162.0 244.3L163.0 244.1L164.0 243.9L165.0 243.7L166.0 243.6L167.0 243.5L168.0 243.3L169.0 243.3L170.0 243.2L171.0 243.1L172.0 243.1L173.0 243.1L174.0 243.0L175.0 243.0L176.0 243.0M223.4 242.9L224.3 243.3L225.3 243.2L226.3 243.2L227.3 243.2L228.3 243.1L229.3 243.1L230.3 243.1L231.3 243.1L232.3 243.0L233.3 243.0L234.3 243.0L235.3 243.0L236.3 243.0L237.3 243.0L238.3 243.0L239.3 242.9L240.3 242.9L241.3 242.9L242.3 242.9L243.3 242.9M322.0 242.9L322.9 244.3L323.9 244.2L324.9 244.1L325.9 244.0L326.9 243.9L327.9 243.7L328.9 243.6L329.9 243.5L330.9 243.4L331.9 243.3L332.9 243.2L333.9 243.2L334.9 243.1L335.9 243.1L336.9 243.0L337.9 243.0L338.9 243.0L339.9 243.0L340.9 243.0L341.9 243.0" stroke="#000000"/>
<path d="M96.2 242.9L97.1 243.6L98.1 243.6L99.1 243.5L100.1 243.5L101.1 243.4L102.1 243.3L103.1 243.3L104.1 243.2L105.1 243.2L106.1 243.1L107.1 243.1L108.1 243.0L109.1 243.0L110.1 243.0L111.1 243.0L112.1 243.0L113.1 243.0L114.1 243.0L115.1 242.9L116.1 242.9M139.6 242.6L140.0 242.6L140.5 264.7L141.0 281.7L141.7 293.1L142.7 300.0L143.7 303.2L145.0 305.1L146.7 305.7L147.7 305.3L148.7 304.4L149.7 303.2L150.7 301.7L151.7 300.1L152.7 298.3L153.7 296.4L154.7 294.4L155.7 292.3L156.7 290.1L157.7 288.0L158.7 285.8L159.7 283.6L160.7 281.5L161.7 279.3L162.7 277.2L163.7 275.2L164.7 273.2L165.7 271.2L166.7 269.3L167.7 267.5L168.7 265.8L169.7 264.2L170.7 262.6L171.7 261.1L172.7 259.7L173.7 258.4L174.7 257.1L175.7 255.9L176.7 254.8L177.7 253.8L178.7 252.8L179.7 251.9L180.7 251.1L181.7 250.3L182.7 249.6L183.7 248.9L184.7 248.3L185.7 247.8L186.7 247.3L187.7 246.8L188.7 246.4L189.7 246.0L190.7 245.6L191.7 245.3L192.7 245.0L193.7 244.8L194.7 244.5L195.7 244.3L196.7 244.1L197.7 244.0L198.7 243.8L199.7 243.7L200.7 243.5L201.7 243.4L202.7 243.3L203.7 243.2L204.7 243.2L205.7 243.1L206.7 243.0L207.7 243.0L208.7 242.9L209.7 242.9L210.7 242.8L211.7 242.8L212.7 242.8L213.7 242.8L214.7 242.7M345.9 242.9L346.8 244.4L347.8 244.3L348.8 244.2L349.8 244.0L350.8 243.9L351.8 243.7L352.8 243.6L353.8 243.5L354.8 243.4L355.8 243.3L356.8 243.2L357.8 243.2L358.8 243.1L359.8 243.1L360.8 243.1L361.8 243.0L362.8 243.0L363.8 243.0L364.8 243.0L365.8 243.0M388.2 242.6L388.6 242.6L389.0 264.7L389.5 281.7L390.2 293.1L391.1 300.0L392.1 303.2L393.3 305.1L394.9 305.7L395.9 305.3L396.9 304.4L397.9 303.2L398.9 301.7L399.9 300.1L400.9 298.3L401.9 296.4L402.9 294.4L403.9 292.3L404.9 290.1L405.9 288.0L406.9 285.8L407.9 283.6L408.9 281.5L409.9 279.3L410.9 277.2L411.9 275.2L412.9 273.2L413.9 271.2L414.9 269.3L415.9 267.5L416.9 265.8L417.9 264.2L418.9 262.6L419.9 261.1L420.9 259.7L421.9 258.4L422.9 257.1L423.9 255.9L424.9 254.8L425.9 253.8L426.9 252.8L427.9 251.9L428.9 251.1L429.9 250.3L430.9 249.6L431.9 248.9L432.9 248.3L433.9 247.8L434.9 247.3L435.9 246.8L436.9 246.4L437.9 246.0L438.9 245.6L439.9 245.3L440.9 245.0L441.9 244.8L442.9 244.5L443.9 244.3L444.9 244.1L445.9 244.0L446.9 243.8L447.9 243.7L448.9 243.5L449.9 243.4L450.9 243.3L451.9 243.2L452.9 243.2L453.9 243.1L454.9 243.0L455.9 243.0L456.9 242.9M427.2 242.9L428.1 246.2L429.1 246.0L430.1 245.7L431.1 245.4L432.1 245.1L433.1 244.8L434.1 244.5L435.1 244.2L436.1 244.0L437.1 243.8L438.1 243.6L439.1 243.5L440.1 243.4L441.1 243.3L442.1 243.2L443.1 243.2L444.1 243.1L445.1 243.1L446.1 243.0L447.1 243.0" stroke="#ff0000"/>
<path d="M197.1 242.9L198.0 243.3L199.0 243.3L200.0 243.2L201.0 243.2L202.0 243.2L203.0 243.1L204.0 243.1L205.0 243.1L206.0 243.0L207.0 243.0L208.0 243.0L209.0 243.0L210.0 243.0L211.0 243.0L212.0 243.0L213.0 242.9L214.0 242.9L215.0 242.9L216.0 242.9L217.0 242.9M251.6 242.9L252.5 243.3L253.5 243.3L254.5 243.2L255.5 243.2L256.5 243.2L257.5 243.1L258.5 243.1L259.5 243.1L260.5 243.0L261.5 243.0L262.5 243.0L263.5 243.0L264.5 243.0L265.5 243.0L266.5 243.0L267.5 242.9L268.5 242.9L269.5 242.9L270.5 242.9L271.5 242.9M402.2 242.6L402.6 242.6L403.1 264.7L403.7 281.7L404.5 293.1L405.6 300.0L406.7 303.2L408.2 305.1L410.1 305.7L411.1 305.3L412.1 304.4L413.1 303.2L414.1 301.7L415.1 300.1L416.1 298.3L417.1 296.4L418.1 294.4L419.1 292.3L420.1 290.1L421.1 288.0L422.1 285.8L423.1 283.6L424.1 281.5L425.1 279.3L426.1 277.2L427.1 275.2L428.1 273.2L429.1 271.2L430.1 269.3L431.1 267.5L432.1 265.8L433.1 264.2L434.1 262.6L435.1 261.1L436.1 259.7L437.1 258.4L438.1 257.1L439.1 255.9L440.1 254.8L441.1 253.8L442.1 252.8L443.1 251.9L444.1 251.1L445.1 250.3L446.1 249.6L447.1 248.9L448.1 248.3L449.1 247.8L450.1 247.3L451.1 246.8L452.1 246.4L453.1 246.0L454.1 245.6L455.1 245.3L456.1 245.0L457.1 244.8M450.2 242.9L451.1 245.6L452.1 245.5L453.1 245.2L454.1 245.0L455.1 244.7L456.1 244.4L457.1 244.2L458.1 244.0L459.1 243.8L460.1 243.7L461.1 243.5L462.1 243.4L463.1 243.3L464.1 243.2L465.1 243.2L466.1 243.1L467.1 243.1L468.1 243.0L469.1 243.0L470.1 243.0" stroke="#00ff00"/>
<path d="M106.0 242.9L106.9 245.8L107.9 245.6L108.9 245.3L109.9 245.1L110.9 244.8L111.9 244.5L112.9 244.3L113.9 244.1L114.9 243.9L115.9 243.7L116.9 243.6L117.9 243.4L118.9 243.3L119.9 243.2L120.9 243.2L121.9 243.1L122.9 243.1L123.9 243.0L124.9 243.0L125.9 243.0M355.3 242.9L356.2 243.6L357.2 243.5L358.2 243.5L359.2 243.4L360.2 243.3L361.2 243.3L362.2 243.2L363.2 243.2L364.2 243.1L365.2 243.1L366.2 243.1L367.2 243.0L368.2 243.0L369.2 243.0L370.2 243.0L371.2 243.0L372.2 243.0L373.2 242.9L374.2 242.9L375.2 242.9" stroke="#0000ff"/>
<path d="M151.2 242.9L152.1 243.4L153.1 243.4L154.1 243.3L155.1 243.3L156.1 243.2L157.1 243.2L158.1 243.1L159.1 243.1L160.1 243.1L161.1 243.1L162.1 243.0L163.1 243.0L164.1 243.0L165.1 243.0L166.1 243.0L167.1 243.0L168.1 242.9L169.1 242.9L170.1 242.9L171.1 242.9M276.1 242.9L277.0 243.3L278.0 243.3L279.0 243.2L280.0 243.2L281.0 243.2L282.0 243.1L283.0 243.1L284.0 243.1L285.0 243.0L286.0 243.0L287.0 243.0L288.0 243.0L289.0 243.0L290.0 243.0L291.0 243.0L292.0 242.9L293.0 242.9L294.0 242.9L295.0 242.9L296.0 242.9" stroke="#00ffff"/>
<path d="M188.5 242.9L189.4 244.5L190.4 244.4L191.4 244.3L192.4 244.1L193.4 244.0L194.4 243.8L195.4 243.7L196.4 243.6L197.4 243.5L198.4 243.4L199.4 243.3L200.4 243.2L201.4 243.2L202.4 243.1L203.4 243.1L204.4 243.0L205.4 243.0L206.4 243.0L207.4 243.0L208.4 243.0M282.4 242.6L282.8 242.6L283.2 264.7L283.7 281.7L284.4 293.1L285.3 300.0L286.3 303.2L287.5 305.1L289.1 305.7L290.1 305.3L291.1 304.4L292.1 303.2L293.1 301.7L294.1 300.1L295.1 298.3L296.1 296.4L297.1 294.4L298.1 292.3L299.1 290.1L300.1 288.0L301.1 285.8L302.1 283.6L303.1 281.5L304.1 279.3L305.1 277.2L306.1 275.2L307.1 273.2L308.1 271.2L309.1 269.3L310.1 267.5L311.1 265.8L312.1 264.2L313.1 262.6L314.1 261.1L315.1 259.7L316.1 258.4L317.1 257.1L318.1 255.9L319.1 254.8L320.1 253.8L321.1 252.8L322.1 251.9L323.1 251.1L324.1 250.3L325.1 249.6L326.1 248.9L327.1 248.3L328.1 247.8L329.1 247.3L330.1 246.8L331.1 246.4L332.1 246.0L333.1 245.6L334.1 245.3L335.1 245.0L336.1 244.8L337.1 244.5L338.1 244.3L339.1 244.1L340.1 244.0L341.1 243.8L342.1 243.7L343.1 243.5L344.1 243.4L345.1 243.3L346.1 243.2L347.1 243.2L348.1 243.1L349.1 243.0L350.1 243.0L351.1 242.9L352.1 242.9L353.1 242.8L354.1 242.8L355.1 242.8L356.1 242.8L357.1 242.7M342.4 242.9L343.3 243.3L344.3 243.3L345.3 243.2L346.3 243.2L347.3 243.2L348.3 243.1L349.3 243.1L350.3 243.1L351.3 243.0L352.3 243.0L353.3 243.0L354.3 243.0L355.3 243.0L356.3 243.0L357.3 243.0L358.3 242.9L359.3 242.9L360.3 242.9L361.3 242.9L362.3 242.9M416.0 242.9L416.9 243.4L417.9 243.3L418.9 243.3L419.9 243.3L420.9 243.2L421.9 243.2L422.9 243.1L423.9 243.1L424.9 243.1L425.9 243.0L426.9 243.0L427.9 243.0L428.9 243.0L429.9 243.0L430.9 243.0L431.9 243.0L432.9 242.9L433.9 242.9L434.9 242.9L435.9 242.9" stroke="#ff00ff"/>
<path d="M48.8 242.9L49.7 243.3L50.7 243.3L51.7 243.3L52.7 243.2L53.7 243.2L54.7 243.1L55.7 243.1L56.7 243.1L57.7 243.1L58.7 243.0L59.7 243.0L60.7 243.0L61.7 243.0L62.7 243.0L63.7 243.0L64.7 242.9L65.7 242.9L66.7 242.9L67.7 242.9L68.7 242.9M151.4 242.9L152.3 243.4L153.3 243.4L154.3 243.3L155.3 243.3L156.3 243.2L157.3 243.2L158.3 243.2L159.3 243.1L160.3 243.1L161.3 243.1L162.3 243.0L163.3 243.0L164.3 243.0L165.3 243.0L166.3 243.0L167.3 243.0L168.3 242.9L169.3 242.9L170.3 242.9L171.3 242.9M235.9 242.9L236.8 243.5L237.8 243.5L238.8 243.4L239.8 243.4L240.8 243.3L241.8 243.3L242.8 243.2L243.8 243.2L244.8 243.1L245.8 243.1L246.8 243.1L247.8 243.0L248.8 243.0L249.8 243.0L250.8 243.0L251.8 243.0L252.8 243.0L253.8 242.9L254.8 242.9L255.8 242.9M394.8 242.9L395.7 244.1L396.7 244.0L397.7 243.9L398.7 243.8L399.7 243.7L400.7 243.6L401.7 243.5L402.7 243.4L403.7 243.3L404.7 243.2L405.7 243.2L406.7 243.1L407.7 243.1L408.7 243.1L409.7 243.0L410.7 243.0L411.7 243.0L412.7 243.0L413.7 243.0L414.7 242.9" stroke="#000000"/>
<path d="M167.2 242.9L168.1 245.2L169.1 245.0L170.1 244.8L171.1 244.6L172.1 244.4L173.1 244.2L174.1 244.0L175.1 243.8L176.1 243.7L177.1 243.5L178.1 243.4L179.1 243.3L180.1 243.2L181.1 243.2L182.1 243.1L183.1 243.1L184.1 243.0L185.1 243.0L186.1 243.0L187.1 243.0M265.1 242.9L266.0 244.2L267.0 244.1L268.0 244.0L269.0 243.9L270.0 243.8L271.0 243.6L272.0 243.5L273.0 243.4L274.0 243.3L275.0 243.3L276.0 243.2L277.0 243.1L278.0 243.1L279.0 243.1L280.0 243.0L281.0 243.0L282.0 243.0L283.0 243.0L284.0 243.0L285.0 243.0M379.0 242.9L379.9 246.2L380.9 246.1L381.9 245.8L382.9 245.4L383.9 245.1L384.9 244.8L385.9 244.5L386.9 244.3L387.9 244.0L388.9 243.8L389.9 243.7L390.9 243.5L391.9 243.4L392.9 243.3L393.9 243.2L394.9 243.2L395.9 243.1L396.9 243.1L397.9 243.0L398.9 243.0" stroke="#ff0000"/>
<path d="M118.3 242.9L119.2 246.0L120.2 245.8L121.2 245.6L122.2 245.3L123.2 245.0L124.2 244.7L125.2 244.4L126.2 244.2L127.2 244.0L128.2 243.8L129.2 243.6L130.2 243.5L131.2 243.4L132.2 243.3L133.2 243.2L134.2 243.1L135.2 243.1L136.2 243.1L137.2 243.0L138.2 243.0M176.1 242.9L177.0 245.8L178.0 245.6L179.0 245.4L180.0 245.1L181.0 244.8L182.0 244.6L183.0 244.3L184.0 244.1L185.0 243.9L186.0 243.7L187.0 243.6L188.0 243.4L189.0 243.3L190.0 243.3L191.0 243.2L192.0 243.1L193.0 243.1L194.0 243.0L195.0 243.0L196.0 243.0M251.7 242.6L252.1 242.6L252.5 264.7L253.0 281.7L253.7 293.1L254.6 300.0L255.6 303.2L256.8 305.1L258.4 305.7L259.4 305.3L260.4 304.4L261.4 303.2L262.4 301.7L263.4 300.1L264.4 298.3L265.4 296.4L266.4 294.4L267.4 292.3L268.4 290.1L269.4 288.0L270.4 285.8L271.4 283.6L272.4 281.5L273.4 279.3L274.4 277.2L275.4 275.2L276.4 273.2L277.4 271.2L278.4 269.3L279.4 267.5L280.4 265.8L281.4 264.2L282.4 262.6L283.4 261.1L284.4 259.7L285.4 258.4L286.4 257.1L287.4 255.9L288.4 254.8L289.4 253.8L290.4 252.8L291.4 251.9L292.4 251.1L293.4 250.3L294.4 249.6L295.4 248.9L296.4 248.3L297.4 247.8L298.4 247.3L299.4 246.8L300.4 246.4L301.4 246.0L302.4 245.6L303.4 245.3L304.4 245.0L305.4 244.8L306.4 244.5L307.4 244.3L308.4 244.1L309.4 244.0L310.4 243.8L311.4 243.7L312.4 243.5L313.4 243.4L314.4 243.3L315.4 243.2L316.4 243.2L317.4 243.1L318.4 243.0L319.4 243.0L320.4 242.9L321.4 242.9L322.4 242.8L323.4 242.8L324.4 242.8L325.4 242.8L326.4 242.7M352.5 242.9L353.4 245.9L354.4 245.7L355.4 245.5L356.4 245.2L357.4 244.9L358.4 244.6L359.4 244.4L360.4 244.1L361.4 243.9L362.4 243.7L363.4 243.6L364.4 243.5L365.4 243.4L366.4 243.3L367.4 243.2L368.4 243.1L369.4 243.1L370.4 243.0L371.4 243.0L372.4 243.0" stroke="#00ff00"/>
<path d="M89.1 242.9L90.0 246.0L91.0 245.8L92.0 245.6L93.0 245.3L94.0 245.0L95.0 244.7L96.0 244.4L97.0 244.2L98.0 244.0L99.0 243.8L100.0 243.6L101.0 243.5L102.0 243.4L103.0 243.3L104.0 243.2L105.0 243.1L106.0 243.1L107.0 243.1L108.0 243.0L109.0 243.0M137.6 242.9L138.5 245.9L139.5 245.8L140.5 245.5L141.5 245.2L142.5 244.9L143.5 244.6L144.5 244.4L145.5 244.1L146.5 243.9L147.5 243.8L148.5 243.6L149.5 243.5L150.5 243.4L151.5 243.3L152.5 243.2L153.5 243.1L154.5 243.1L155.5 243.1L156.5 243.0L157.5 243.0M328.0 242.9L328.9 243.8L329.9 243.8L330.9 243.7L331.9 243.6L332.9 243.5L333.9 243.4L334.9 243.3L335.9 243.3L336.9 243.2L337.9 243.2L338.9 243.1L339.9 243.1L340.9 243.0L341.9 243.0L342.9 243.0L343.9 243.0L344.9 243.0L345.9 243.0L346.9 242.9L347.9 242.9M431.5 242.9L432.4 244.7L433.4 244.6L434.4 244.4L435.4 244.3L436.4 244.1L437.4 243.9L438.4 243.8L439.4 243.6L440.4 243.5L441.4 243.4L442.4 243.3L443.4 243.2L444.4 243.2L445.4 243.1L446.4 243.1L447.4 243.0L448.4 243.0L449.4 243.0L450.4 243.0L451.4 243.0" stroke="#0000ff"/>
<path d="M64.4 242.9L65.3 243.3L66.3 243.3L67.3 243.2L68.3 243.2L69.3 243.2L70.3 243.1L71.3 243.1L72.3 243.1L73.3 243.0L74.3 243.0L75.3 243.0L76.3 243.0L77.3 243.0L78.3 243.0L79.3 243.0L80.3 242.9L81.3 242.9L82.3 242.9L83.3 242.9L84.3 242.9M201.4 242.6L201.8 242.6L202.3 264.7L202.9 281.7L203.6 293.1L204.8 300.0L205.9 303.2L207.3 305.1L209.2 305.7L210.2 305.3L211.2 304.4L212.2 303.2L213.2 301.7L214.2 300.1L215.2 298.3L216.2 296.4L217.2 294.4L218.2 292.3L219.2 290.1L220.2 288.0L221.2 285.8L222.2 283.6L223.2 281.5L224.2 279.3L225.2 277.2L226.2 275.2L227.2 273.2L228.2 271.2L229.2 269.3L230.2 267.5L231.2 265.8L232.2 264.2L233.2 262.6L234.2 261.1L235.2 259.7L236.2 258.4L237.2 257.1L238.2 255.9L239.2 254.8L240.2 253.8L241.2 252.8L242.2 251.9L243.2 251.1L244.2 250.3L245.2 249.6L246.2 248.9L247.2 248.3L248.2 247.8L249.2 247.3L250.2 246.8L251.2 246.4L252.2 246.0L253.2 245.6L254.2 245.3L255.2 245.0L256.2 244.8L257.2 244.5L258.2 244.3L259.2 244.1L260.2 244.0L261.2 243.8L262.2 243.7L263.2 243.5L264.2 243.4L265.2 243.3L266.2 243.2L267.2 243.2L268.2 243.1L269.2 243.0L270.2 243.0L271.2 242.9L272.2 242.9L273.2 242.8L274.2 242.8L275.2 242.8L276.2 242.8L277.2 242.7M267.0 242.9L267.9 243.5L268.9 243.4L269.9 243.4L270.9 243.3L271.9 243.3L272.9 243.2L273.9 243.2L274.9 243.1L275.9 243.1L276.9 243.1L277.9 243.0L278.9 243.0L279.9 243.0L280.9 243.0L281.9 243.0L282.9 243.0L283.9 243.0L284.9 242.9L285.9 242.9L286.9 242.9M317.2 242.9L318.1 243.6L319.1 243.6L320.1 243.5L321.1 243.4L322.1 243.4L323.1 243.3L324.1 243.2L325.1 243.2L326.1 243.1L327.1 243.1L328.1 243.1L329.1 243.0L330.1 243.0L331.1 243.0L332.1 243.0L333.1 243.0L334.1 243.0L335.1 242.9L336.1 242.9L337.1 242.9M383.3 242.9L384.2 243.4L385.2 243.4L386.2 243.3L387.2 243.3L388.2 243.2L389.2 243.2L390.2 243.1L391.2 243.1L392.2 243.1L393.2 243.1L394.2 243.0L395.2 243.0L396.2 243.0L397.2 243.0L398.2 243.0L399.2 243.0L400.2 242.9L401.2 242.9L402.2 242.9L403.2 242.9" stroke="#00ffff"/>
<path d="M93.0 242.9L93.9 244.4L94.9 244.3L95.9 244.2L96.9 244.1L97.9 243.9L98.9 243.8L99.9 243.6L100.9 243.5L101.9 243.4L102.9 243.3L103.9 243.3L104.9 243.2L105.9 243.1L106.9 243.1L107.9 243.1L108.9 243.0L109.9 243.0L110.9 243.0L111.9 243.0L112.9 243.0M261.3 242.9L262.2 245.0L263.2 244.8L264.2 244.7L265.2 244.5L266.2 244.3L267.2 244.1L268.2 243.9L269.2 243.7L270.2 243.6L271.2 243.5L272.2 243.4L273.2 243.3L274.2 243.2L275.2 243.2L276.2 243.1L277.2 243.1L278.2 243.0L279.2 243.0L280.2 243.0L281.2 243.0M343.8 242.9L344.7 246.2L345.7 246.0L346.7 245.7L347.7 245.4L348.7 245.1L349.7 244.8L350.7 244.5L351.7 244.2L352.7 244.0L353.7 243.8L354.7 243.6L355.7 243.5L356.7 243.4L357.7 243.3L358.7 243.2L359.7 243.2L360.7 243.1L361.7 243.1L362.7 243.0L363.7 243.0" stroke="#ff00ff"/>
<path d="M87.0 242.9L87.9 243.4L88.9 243.4L89.9 243.3L90.9 243.3L91.9 243.2L92.9 243.2L93.9 243.2L94.9 243.1L95.9 243.1L96.9 243.1L97.9 243.0L98.9 243.0L99.9 243.0L100.9 243.0L101.9 243.0L102.9 243.0L103.9 242.9L104.9 242.9L105.9 242.9L106.9 242.9M173.7 242.9L174.6 244.4L175.6 244.3L176.6 244.2L177.6 244.0L178.6 243.9L179.6 243.7L180.6 243.6L181.6 243.5L182.6 243.4L183.6 243.3L184.6 243.2L185.6 243.2L186.6 243.1L187.6 243.1L188.6 243.1L189.6 243.0L190.6 243.0L191.6 243.0L192.6 243.0L193.6 243.0M415.8 242.9L416.7 244.4L417.7 244.3L418.7 244.2L419.7 244.1L420.7 243.9L421.7 243.8L422.7 243.6L423.7 243.5L424.7 243.4L425.7 243.3L426.7 243.3L427.7 243.2L428.7 243.1L429.7 243.1L430.7 243.1L431.7 243.0L432.7 243.0L433.7 243.0L434.7 243.0L435.7 243.0" stroke="#000000"/>
<path d="M132.6 242.9L133.5 245.0L134.5 244.9L135.5 244.7L136.5 244.5L137.5 244.3L138.5 244.1L139.5 243.9L140.5 243.8L141.5 243.6L142.5 243.5L143.5 243.4L144.5 243.3L145.5 243.2L146.5 243.2L147.5 243.1L148.5 243.1L149.5 243.0L150.5 243.0L151.5 243.0L152.5 243.0M200.6 242.9L201.5 243.3L202.5 243.3L203.5 243.3L204.5 243.2L205.5 243.2L206.5 243.1L207.5 243.1L208.5 243.1L209.5 243.1L210.5 243.0L211.5 243.0L212.5 243.0L213.5 243.0L214.5 243.0L215.5 243.0L216.5 242.9L217.5 242.9L218.5 242.9L219.5 242.9L220.5 242.9M366.7 242.6L367.1 242.6L367.5 264.7L367.9 281.7L368.4 293.1L369.1 300.0L369.9 303.2L370.9 305.1L372.1 305.7L373.1 305.3L374.1 304.4L375.1 303.2L376.1 301.7L377.1 300.1L378.1 298.3L379.1 296.4L380.1 294.4L381.1 292.3L382.1 290.1L383.1 288.0L384.1 285.8L385.1 283.6L386.1 281.5L387.1 279.3L388.1 277.2L389.1 275.2L390.1 273.2L391.1 271.2L392.1 269.3L393.1 267.5L394.1 265.8L395.1 264.2L396.1 262.6L397.1 261.1L398.1 259.7L399.1 258.4L400.1 257.1L401.1 255.9L402.1 254.8L403.1 253.8L404.1 252.8L405.1 251.9L406.1 251.1L407.1 250.3L408.1 249.6L409.1 248.9L410.1 248.3L411.1 247.8L412.1 247.3L413.1 246.8L414.1 246.4L415.1 246.0L416.1 245.6L417.1 245.3L418.1 245.0L419.1 244.8L420.1 244.5L421.1 244.3L422.1 244.1L423.1 244.0L424.1 243.8L425.1 243.7L426.1 243.5L427.1 243.4L428.1 243.3L429.1 243.2L430.1 243.2L431.1 243.1L432.1 243.0L433.1 243.0L434.1 242.9L435.1 242.9L436.1 242.8L437.1 242.8L438.1 242.8L439.1 242.8L440.1 242.7" stroke="#ff0000"/>
<path d="M55.1 242.9L56.0 243.9L57.0 243.9L58.0 243.8L59.0 243.7L60.0 243.6L61.0 243.5L62.0 243.4L63.0 243.3L64.0 243.3L65.0 243.2L66.0 243.1L67.0 243.1L68.0 243.1L69.0 243.0L70.0 243.0L71.0 243.0L72.0 243.0L73.0 243.0L74.0 243.0L75.0 242.9M192.4 242.9L193.3 245.9L194.3 245.7L195.3 245.5L196.3 245.2L197.3 244.9L198.3 244.6L199.3 244.4L200.3 244.1L201.3 243.9L202.3 243.7L203.3 243.6L204.3 243.5L205.3 243.4L206.3 243.3L207.3 243.2L208.3 243.1L209.3 243.1L210.3 243.0L211.3 243.0L212.3 243.0M314.4 242.9L315.3 245.2L316.3 245.0L317.3 244.8L318.3 244.6L319.3 244.4L320.3 244.2L321.3 244.0L322.3 243.8L323.3 243.7L324.3 243.5L325.3 243.4L326.3 243.3L327.3 243.2L328.3 243.2L329.3 243.1L330.3 243.1L331.3 243.0L332.3 243.0L333.3 243.0L334.3 243.0M374.7 242.9L375.6 243.6L376.6 243.6L377.6 243.5L378.6 243.4L379.6 243.4L380.6 243.3L381.6 243.2L382.6 243.2L383.6 243.1L384.6 243.1L385.6 243.1L386.6 243.0L387.6 243.0L388.6 243.0L389.6 243.0L390.6 243.0L391.6 243.0L392.6 242.9L393.6 242.9L394.6 242.9M430.1 242.9L431.0 243.5L432.0 243.4L433.0 243.4L434.0 243.3L435.0 243.3L436.0 243.2L437.0 243.2L438.0 243.1L439.0 243.1L440.0 243.1L441.0 243.0L442.0 243.0L443.0 243.0L444.0 243.0L445.0 243.0L446.0 243.0L447.0 243.0L448.0 242.9L449.0 242.9L450.0 242.9" stroke="#00ff00"/>
<path d="M301.4 242.9L302.3 243.9L303.3 243.8L304.3 243.7L305.3 243.6L306.3 243.5L307.3 243.4L308.3 243.4L309.3 243.3L310.3 243.2L311.3 243.2L312.3 243.1L313.3 243.1L314.3 243.1L315.3 243.0L316.3 243.0L317.3 243.0L318.3 243.0L319.3 243.0L320.3 243.0L321.3 242.9" stroke="#0000ff"/>
<path d="M114.4 242.9L115.3 244.0L116.3 243.9L117.3 243.8L118.3 243.7L119.3 243.6L120.3 243.5L121.3 243.4L122.3 243.4L123.3 243.3L124.3 243.2L125.3 243.2L126.3 243.1L127.3 243.1L128.3 243.0L129.3 243.0L130.3 243.0L131.3 243.0L132.3 243.0L133.3 243.0L134.3 242.9M272.7 242.9L273.6 245.6L274.6 245.4L275.6 245.2L276.6 244.9L277.6 244.7L278.6 244.4L279.6 244.2L280.6 244.0L281.6 243.8L282.6 243.6L283.6 243.5L284.6 243.4L285.6 243.3L286.6 243.2L287.6 243.2L288.6 243.1L289.6 243.1L290.6 243.0L291.6 243.0L292.6 243.0M349.8 242.9L350.7 243.9L351.7 243.9L352.7 243.8L353.7 243.7L354.7 243.6L355.7 243.5L356.7 243.4L357.7 243.3L358.7 243.3L359.7 243.2L360.7 243.1L361.7 243.1L362.7 243.1L363.7 243.0L364.7 243.0L365.7 243.0L366.7 243.0L367.7 243.0L368.7 243.0L369.7 242.9" stroke="#00ffff"/>
<path d="M232.9 242.9L233.8 244.2L234.8 244.1L235.8 244.0L236.8 243.9L237.8 243.8L238.8 243.7L239.8 243.5L240.8 243.4L241.8 243.4L242.8 243.3L243.8 243.2L244.8 243.2L245.8 243.1L246.8 243.1L247.8 243.0L248.8 243.0L249.8 243.0L250.8 243.0L251.8 243.0L252.8 243.0M274.6 242.9L275.5 246.2L276.5 246.0L277.5 245.7L278.5 245.4L279.5 245.1L280.5 244.8L281.5 244.5L282.5 244.2L283.5 244.0L284.5 243.8L285.5 243.6L286.5 243.5L287.5 243.4L288.5 243.3L289.5 243.2L290.5 243.2L291.5 243.1L292.5 243.1L293.5 243.0L294.5 243.0M346.3 242.9L347.2 246.0L348.2 245.8L349.2 245.6L350.2 245.3L351.2 245.0L352.2 244.7L353.2 244.4L354.2 244.2L355.2 244.0L356.2 243.8L357.2 243.6L358.2 243.5L359.2 243.4L360.2 243.3L361.2 243.2L362.2 243.1L363.2 243.1L364.2 243.1L365.2 243.0L366.2 243.0M442.6 242.9L443.5 244.5L444.5 244.4L445.5 244.3L446.5 244.1L447.5 244.0L448.5 243.8L449.5 243.7L450.5 243.6L451.5 243.5L452.5 243.4L453.5 243.3L454.5 243.2L455.5 243.2L456.5 243.1L457.5 243.1L458.5 243.0L459.5 243.0L460.5 243.0L461.5 243.0L462.5 243.0" stroke="#ff00ff"/>
<path d="M203.1 242.9L204.0 243.6L205.0 243.6L206.0 243.5L207.0 243.4L208.0 243.4L209.0 243.3L210.0 243.2L211.0 243.2L212.0 243.1L213.0 243.1L214.0 243.1L215.0 243.0L216.0 243.0L217.0 243.0L218.0 243.0L219.0 243.0L220.0 243.0L221.0 242.9L222.0 242.9L223.0 242.9M303.6 242.9L304.5 244.3L305.5 244.2L306.5 244.1L307.5 244.0L308.5 243.9L309.5 243.7L310.5 243.6L311.5 243.5L312.5 243.4L313.5 243.3L314.5 243.2L315.5 243.2L316.5 243.1L317.5 243.1L318.5 243.0L319.5 243.0L320.5 243.0L321.5 243.0L322.5 243.0L323.5 243.0M402.2 242.9L403.1 243.5L404.1 243.4L405.1 243.4L406.1 243.3L407.1 243.3L408.1 243.2L409.1 243.2L410.1 243.1L411.1 243.1L412.1 243.1L413.1 243.0L414.1 243.0L415.1 243.0L416.1 243.0L417.1 243.0L418.1 243.0L419.1 243.0L420.1 242.9L421.1 242.9L422.1 242.9" stroke="#000000"/>
<path d="M53.9 242.9L54.8 244.0L55.8 243.9L56.8 243.8L57.8 243.7L58.8 243.6L59.8 243.5L60.8 243.4L61.8 243.3L62.8 243.3L63.8 243.2L64.8 243.2L65.8 243.1L66.8 243.1L67.8 243.0L68.8 243.0L69.8 243.0L70.8 243.0L71.8 243.0L72.8 243.0L73.8 242.9M104.6 242.9L105.5 243.3L106.5 243.3L107.5 243.3L108.5 243.2L109.5 243.2L110.5 243.2L111.5 243.1L112.5 243.1L113.5 243.1L114.5 243.0L115.5 243.0L116.5 243.0L117.5 243.0L118.5 243.0L119.5 243.0L120.5 242.9L121.5 242.9L122.5 242.9L123.5 242.9L124.5 242.9M224.6 242.9L225.5 243.3L226.5 243.2L227.5 243.2L228.5 243.2L229.5 243.1L230.5 243.1L231.5 243.1L232.5 243.1L233.5 243.0L234.5 243.0L235.5 243.0L236.5 243.0L237.5 243.0L238.5 243.0L239.5 243.0L240.5 242.9L241.5 242.9L242.5 242.9L243.5 242.9L244.5 242.9M295.0 242.9L295.9 245.1L296.9 244.9L297.9 244.8L298.9 244.5L299.9 244.3L300.9 244.1L301.9 244.0L302.9 243.8L303.9 243.6L304.9 243.5L305.9 243.4L306.9 243.3L307.9 243.2L308.9 243.2L309.9 243.1L310.9 243.1L311.9 243.0L312.9 243.0L313.9 243.0L314.9 243.0M356.4 242.9L357.3 243.2L358.3 243.2L359.3 243.2L360.3 243.1L361.3 243.1L362.3 243.1L363.3 243.1L364.3 243.0L365.3 243.0L366.3 243.0L367.3 243.0L368.3 243.0L369.3 243.0L370.3 243.0L371.3 242.9L372.3 242.9L373.3 242.9L374.3 242.9L375.3 242.9L376.3 242.9M401.5 242.9L402.4 245.0L403.4 244.9L404.4 244.7L405.4 244.5L406.4 244.3L407.4 244.1L408.4 243.9L409.4 243.8L410.4 243.6L411.4 243.5L412.4 243.4L413.4 243.3L414.4 243.2L415.4 243.2L416.4 243.1L417.4 243.1L418.4 243.0L419.4 243.0L420.4 243.0L421.4 243.0" stroke="#ff0000"/>
<path d="M66.0 242.9L66.9 245.2L67.9 245.1L68.9 244.9L69.9 244.7L70.9 244.4L71.9 244.2L72.9 244.0L73.9 243.8L74.9 243.7L75.9 243.6L76.9 243.4L77.9 243.3L78.9 243.3L79.9 243.2L80.9 243.1L81.9 243.1L82.9 243.0L83.9 243.0L84.9 243.0L85.9 243.0M104.4 242.9L105.3 246.0L106.3 245.8L107.3 245.6L108.3 245.3L109.3 245.0L110.3 244.7L111.3 244.4L112.3 244.2L113.3 244.0L114.3 243.8L115.3 243.6L116.3 243.5L117.3 243.4L118.3 243.3L119.3 243.2L120.3 243.1L121.3 243.1L122.3 243.1L123.3 243.0L124.3 243.0M307.9 242.9L308.8 246.1L309.8 245.9L310.8 245.6L311.8 245.3L312.8 245.0L313.8 244.7L314.8 244.4L315.8 244.2L316.8 244.0L317.8 243.8L318.8 243.6L319.8 243.5L320.8 243.4L321.8 243.3L322.8 243.2L323.8 243.1L324.8 243.1L325.8 243.1L326.8 243.0L327.8 243.0" stroke="#00ff00"/>
<path d="M115.7 242.9L116.6 244.9L117.6 244.8L118.6 244.6L119.6 244.4L120.6 244.2L121.6 244.0L122.6 243.9L123.6 243.7L124.6 243.6L125.6 243.5L126.6 243.4L127.6 243.3L128.6 243.2L129.6 243.1L130.6 243.1L131.6 243.1L132.6 243.0L133.6 243.0L134.6 243.0L135.6 243.0M231.0 242.9L231.9 245.6L232.9 245.4L233.9 245.2L234.9 244.9L235.9 244.7L236.9 244.4L237.9 244.2L238.9 244.0L239.9 243.8L240.9 243.6L241.9 243.5L242.9 243.4L243.9 243.3L244.9 243.2L245.9 243.2L246.9 243.1L247.9 243.1L248.9 243.0L249.9 243.0L250.9 243.0M338.3 242.9L339.2 243.6L340.2 243.6L341.2 243.5L342.2 243.5L343.2 243.4L344.2 243.3L345.2 243.3L346.2 243.2L347.2 243.2L348.2 243.1L349.2 243.1L350.2 243.0L351.2 243.0L352.2 243.0L353.2 243.0L354.2 243.0L355.2 243.0L356.2 243.0L357.2 242.9L358.2 242.9" stroke="#0000ff"/>
<path d="M180.1 242.9L181.0 244.1L182.0 244.0L183.0 243.9L184.0 243.8L185.0 243.7L186.0 243.6L187.0 243.5L188.0 243.4L189.0 243.3L190.0 243.2L191.0 243.2L192.0 243.1L193.0 243.1L194.0 243.1L195.0 243.0L196.0 243.0L197.0 243.0L198.0 243.0L199.0 243.0L200.0 242.9M261.9 242.9L262.8 243.6L263.8 243.6L264.8 243.5L265.8 243.4L266.8 243.4L267.8 243.3L268.8 243.2L269.8 243.2L270.8 243.1L271.8 243.1L272.8 243.1L273.8 243.0L274.8 243.0L275.8 243.0L276.8 243.0L277.8 243.0L278.8 243.0L279.8 242.9L280.8 242.9L281.8 242.9M287.5 242.9L288.4 245.1L289.4 244.9L290.4 244.8L291.4 244.5L292.4 244.3L293.4 244.1L294.4 244.0L295.4 243.8L296.4 243.6L297.4 243.5L298.4 243.4L299.4 243.3L300.4 243.2L301.4 243.2L302.4 243.1L303.4 243.1L304.4 243.0L305.4 243.0L306.4 243.0L307.4 243.0M389.5 242.9L390.4 243.5L391.4 243.5L392.4 243.4L393.4 243.4L394.4 243.3L395.4 243.3L396.4 243.2L397.4 243.2L398.4 243.1L399.4 243.1L400.4 243.1L401.4 243.0L402.4 243.0L403.4 243.0L404.4 243.0L405.4 243.0L406.4 243.0L407.4 242.9L408.4 242.9L409.4 242.9M410.6 242.9L411.5 246.2L412.5 246.0L413.5 245.7L414.5 245.4L415.5 245.1L416.5 244.8L417.5 244.5L418.5 244.2L419.5 244.0L420.5 243.8L421.5 243.6L422.5 243.5L423.5 243.4L424.5 243.3L425.5 243.2L426.5 243.2L427.5 243.1L428.5 243.1L429.5 243.0L430.5 243.0" stroke="#00ffff"/>
<path d="M194.8 242.9L195.7 243.3L196.7 243.3L197.7 243.2L198.7 243.2L199.7 243.2L200.7 243.1L201.7 243.1L202.7 243.1L203.7 243.0L204.7 243.0L205.7 243.0L206.7 243.0L207.7 243.0L208.7 243.0L209.7 243.0L210.7 242.9L211.7 242.9L212.7 242.9L213.7 242.9L214.7 242.9M298.6 242.9L299.5 243.6L300.5 243.5L301.5 243.5L302.5 243.4L303.5 243.3L304.5 243.3L305.5 243.2L306.5 243.2L307.5 243.1L308.5 243.1L309.5 243.1L310.5 243.0L311.5 243.0L312.5 243.0L313.5 243.0L314.5 243.0L315.5 243.0L316.5 242.9L317.5 242.9L318.5 242.9M336.7 242.9L337.6 245.1L338.6 244.9L339.6 244.8L340.6 244.5L341.6 244.3L342.6 244.1L343.6 244.0L344.6 243.8L345.6 243.6L346.6 243.5L347.6 243.4L348.6 243.3L349.6 243.2L350.6 243.2L351.6 243.1L352.6 243.1L353.6 243.0L354.6 243.0L355.6 243.0L356.6 243.0" stroke="#ff00ff"/>
<path d="M43.10 243.25H457.40" stroke="#202020" stroke-width="1.0"/>
<path d="M43.10 242.40H457.40" stroke="#00e000" stroke-width="1.1"/>
</g>
<g clip-path="url(#cpD)" fill="none" stroke-width="1.0" stroke-linejoin="round">
<path d="M82.8 414.5L83.0 413.2L83.4 413.2L83.6 414.5M154.5 414.5L154.7 413.2L155.1 413.2L155.3 414.5M221.8 414.5L222.0 413.2L222.4 413.2L222.6 414.5M267.4 414.5L267.6 413.2L268.0 413.2L268.2 414.5M320.2 414.5L320.4 413.2L320.8 413.2L321.0 414.5" stroke="#000000"/>
<path d="M94.7 414.5L94.9 413.2L95.3 413.2L95.5 414.5M137.1 414.5L137.3 414.1L138.4 348.4L138.9 349.2L139.4 349.8L139.9 348.3L140.4 350.0L140.9 348.6L141.4 349.1L141.9 350.0L142.4 348.7L142.9 350.1L143.5 355.1L144.0 361.7L144.4 368.3L144.8 374.9L145.2 381.5L145.7 388.1L146.1 394.7L146.5 401.3L147.0 407.9L147.4 414.5L147.9 414.5M243.4 414.5L243.6 413.2L244.0 413.2L244.2 414.5M344.2 414.5L344.4 413.2L344.8 413.2L345.0 414.5M385.0 414.5L385.2 414.1L386.1 348.4L386.6 348.9L387.1 349.3L387.6 348.5L388.1 348.9L388.5 349.3L388.5 351.6L390.0 354.9L391.5 358.3L392.2 363.1L392.5 364.3L392.8 367.3L393.0 371.9L393.3 377.9L393.6 385.2L393.8 393.7L394.1 403.5L394.4 414.5L394.9 414.5M425.3 414.5L425.5 411.8L425.9 411.8L426.1 414.5" stroke="#ff0000"/>
<path d="M121.3 414.5L121.5 413.2L121.9 413.2L122.1 414.5M161.3 414.5L161.5 413.2L161.9 413.2L162.1 414.5M183.9 414.5L184.1 413.2L184.5 413.2L184.7 414.5M195.4 414.5L195.6 413.2L196.0 413.2L196.2 414.5M249.9 414.5L250.1 413.2L250.5 413.2L250.7 414.5M399.0 414.5L399.2 414.1L400.2 348.4L400.7 347.8L401.2 348.1L401.7 349.5L402.2 348.5L402.7 348.6L403.2 347.6L403.7 348.0L404.2 349.3L404.7 347.3L405.2 349.9L405.7 349.0L406.3 349.1L406.7 351.1L407.0 354.4L407.3 359.0L407.6 365.0L408.0 372.2L408.3 380.8L408.6 390.7L409.0 402.0L409.3 414.5L409.8 414.5M448.3 414.5L448.5 411.8L448.9 411.8L449.1 414.5" stroke="#00ff00"/>
<path d="M104.4 414.5L104.6 413.2L105.0 413.2L105.2 414.5M134.9 414.5L135.1 413.2L135.5 413.2L135.7 414.5M254.8 414.5L255.0 413.2L255.4 413.2L255.6 414.5M353.5 414.5L353.7 413.2L354.1 413.2L354.3 414.5" stroke="#0000ff"/>
<path d="M149.6 414.5L149.8 413.2L150.2 413.2L150.4 414.5M274.3 414.5L274.5 410.5L274.9 410.5L275.1 414.5M423.9 414.5L424.1 413.2L424.5 413.2L424.7 414.5" stroke="#00ffff"/>
<path d="M77.1 414.5L77.3 413.2L77.7 413.2L77.9 414.5M138.3 414.5L138.5 413.2L138.9 413.2L139.1 414.5M186.9 414.5L187.1 413.2L187.5 413.2L187.7 414.5M279.6 414.5L279.8 414.1L280.3 348.4L280.8 349.8L281.3 349.9L281.8 349.3L282.3 347.8L282.8 349.7L283.3 348.5L284.2 349.1L284.8 351.1L285.4 354.4L286.0 359.0L286.6 365.0L287.1 372.2L287.7 380.8L288.3 390.7L288.9 402.0L289.5 414.5L290.0 414.5M340.6 414.5L340.8 413.2L341.2 413.2L341.4 414.5M414.2 414.5L414.4 413.2L414.8 413.2L415.0 414.5" stroke="#ff00ff"/>
<path d="M47.3 414.5L47.5 413.2L47.9 413.2L48.1 414.5M149.8 414.5L150.0 413.2L150.4 413.2L150.6 414.5M196.8 414.5L197.0 413.2L197.4 413.2L197.6 414.5M234.2 414.5L234.4 413.2L234.8 413.2L235.0 414.5M289.2 414.5L289.4 413.2L289.8 413.2L290.0 414.5M393.0 414.5L393.2 413.2L393.6 413.2L393.8 414.5" stroke="#000000"/>
<path d="M136.5 414.5L136.7 413.2L137.1 413.2L137.3 414.5M165.6 414.5L165.8 411.8L166.2 411.8L166.4 414.5M263.4 414.5L263.6 413.2L264.0 413.2L264.2 414.5M318.3 414.5L318.5 413.2L318.9 413.2L319.1 414.5M377.2 414.5L377.4 411.8L377.8 411.8L378.0 414.5M418.3 414.5L418.5 413.2L418.9 413.2L419.1 414.5" stroke="#ff0000"/>
<path d="M81.8 414.5L82.0 413.2L82.4 413.2L82.6 414.5M90.0 414.5L90.2 413.2L90.6 413.2L90.8 414.5M116.7 414.5L116.9 411.8L117.3 411.8L117.5 414.5M174.4 414.5L174.6 411.8L175.0 411.8L175.2 414.5M248.6 414.5L248.8 414.1L249.4 348.4L249.9 348.5L250.4 349.0L250.9 347.3L251.4 350.1L251.9 347.6L252.4 349.3L253.0 349.1L253.6 351.1L254.1 354.4L254.7 359.0L255.3 365.0L255.9 372.2L256.5 380.8L257.0 390.7L257.6 402.0L258.2 414.5L258.7 414.5M350.7 414.5L350.9 413.2L351.3 413.2L351.5 414.5M433.5 414.5L433.7 413.2L434.1 413.2L434.3 414.5" stroke="#00ff00"/>
<path d="M87.6 414.5L87.8 411.8L88.2 411.8L88.4 414.5M136.0 414.5L136.2 413.2L136.6 413.2L136.8 414.5M326.2 414.5L326.4 413.2L326.8 413.2L327.0 414.5M429.7 414.5L429.9 413.2L430.3 413.2L430.5 414.5" stroke="#0000ff"/>
<path d="M62.9 414.5L63.1 413.2L63.5 413.2L63.7 414.5M199.4 414.5L199.6 414.1L200.8 348.4L201.3 348.9L201.8 350.0L202.3 349.9L202.8 348.9L203.3 347.7L203.8 349.8L204.3 349.5L204.8 348.3L205.3 347.4L205.9 355.1L206.4 361.7L206.8 368.3L207.2 374.9L207.7 381.5L208.1 388.1L208.5 394.7L208.9 401.3L209.4 407.9L209.8 414.5L210.3 414.5M265.3 414.5L265.5 413.2L265.9 413.2L266.1 414.5M283.2 414.5L283.4 413.2L283.8 413.2L284.0 414.5M315.5 414.5L315.7 413.2L316.1 413.2L316.3 414.5M381.4 414.5L381.6 413.2L382.0 413.2L382.2 414.5M407.3 414.5L407.5 413.2L407.9 413.2L408.1 414.5" stroke="#00ffff"/>
<path d="M48.7 414.5L48.9 413.2L49.3 413.2L49.5 414.5M91.5 414.5L91.7 413.2L92.1 413.2L92.3 414.5M259.5 414.5L259.7 413.2L260.1 413.2L260.3 414.5M310.4 414.5L310.6 413.2L311.0 413.2L311.2 414.5M342.0 414.5L342.2 410.5L342.6 410.5L342.8 414.5M420.9 414.5L421.1 413.2L421.5 413.2L421.7 414.5" stroke="#ff00ff"/>
<path d="M85.5 414.5L85.7 413.2L86.1 413.2L86.3 414.5M143.4 414.5L143.6 413.2L144.0 413.2L144.2 414.5M172.1 414.5L172.3 413.2L172.7 413.2L172.9 414.5M261.4 414.5L261.6 413.2L262.0 413.2L262.2 414.5M331.2 414.5L331.4 413.2L331.8 413.2L332.0 414.5M414.0 414.5L414.2 413.2L414.6 413.2L414.8 414.5" stroke="#000000"/>
<path d="M70.4 414.5L70.6 413.2L71.0 413.2L71.2 414.5M131.0 414.5L131.2 413.2L131.6 413.2L131.8 414.5M199.0 414.5L199.2 413.2L199.6 413.2L199.8 414.5M280.6 414.5L280.8 413.2L281.2 413.2L281.4 414.5M363.0 414.5L363.2 414.1L364.4 348.4L364.9 348.3L365.4 349.1L365.9 348.6L366.4 350.0L366.9 350.0L367.4 349.6L367.9 348.2L368.4 355.1L368.7 361.7L369.1 368.3L369.4 374.9L369.8 381.5L370.2 388.1L370.5 394.7L370.9 401.3L371.2 407.9L371.6 414.5L372.1 414.5M397.7 414.5L397.9 413.2L398.3 413.2L398.5 414.5" stroke="#ff0000"/>
<path d="M53.6 414.5L53.8 413.2L54.2 413.2L54.4 414.5M118.1 414.5L118.3 413.2L118.7 413.2L118.9 414.5M190.7 414.5L190.9 411.8L191.3 411.8L191.5 414.5M312.6 414.5L312.8 413.2L313.2 413.2L313.4 414.5M372.9 414.5L373.1 413.2L373.5 413.2L373.7 414.5M428.2 414.5L428.4 413.2L428.8 413.2L429.0 414.5" stroke="#00ff00"/>
<path d="M58.2 414.5L58.4 413.2L58.8 413.2L59.0 414.5M100.3 414.5L100.5 413.2L100.9 413.2L101.1 414.5M124.2 414.5L124.4 413.2L124.8 413.2L125.0 414.5M256.0 414.5L256.2 413.2L256.6 413.2L256.8 414.5M299.7 414.5L299.9 413.2L300.3 413.2L300.5 414.5M383.3 414.5L383.5 413.2L383.9 413.2L384.1 414.5M452.6 414.5L452.8 413.2L453.2 413.2L453.4 414.5" stroke="#0000ff"/>
<path d="M44.5 414.5L44.7 413.2L45.1 413.2L45.3 414.5M112.8 414.5L113.0 413.2L113.4 413.2L113.6 414.5M244.5 414.5L244.7 413.2L245.1 413.2L245.3 414.5M271.0 414.5L271.2 413.2L271.6 413.2L271.8 414.5M348.0 414.5L348.2 413.2L348.6 413.2L348.8 414.5M401.6 414.5L401.8 413.2L402.2 413.2L402.4 414.5" stroke="#00ffff"/>
<path d="M205.3 414.5L205.5 413.2L205.9 413.2L206.1 414.5M231.2 414.5L231.4 413.2L231.8 413.2L232.0 414.5M272.9 414.5L273.1 411.8L273.5 411.8L273.7 414.5M314.5 414.5L314.7 413.2L315.1 413.2L315.3 414.5M344.6 414.5L344.8 411.8L345.2 411.8L345.4 414.5M440.7 414.5L440.9 413.2L441.3 413.2L441.5 414.5" stroke="#ff00ff"/>
<path d="M107.6 414.5L107.8 413.2L108.2 413.2L108.4 414.5M160.1 414.5L160.3 413.2L160.7 413.2L160.9 414.5M201.5 414.5L201.7 413.2L202.1 413.2L202.3 414.5M252.8 414.5L253.0 413.2L253.4 413.2L253.6 414.5M301.8 414.5L302.0 413.2L302.4 413.2L302.6 414.5M400.4 414.5L400.6 413.2L401.0 413.2L401.2 414.5M448.9 414.5L449.1 413.2L449.5 413.2L449.7 414.5" stroke="#000000"/>
<path d="M52.3 414.5L52.5 413.2L52.9 413.2L53.1 414.5M103.0 414.5L103.2 413.2L103.6 413.2L103.8 414.5M145.2 414.5L145.4 413.2L145.8 413.2L146.0 414.5M164.2 414.5L164.4 413.2L164.8 413.2L165.0 414.5M223.0 414.5L223.2 413.2L223.6 413.2L223.8 414.5M293.3 414.5L293.5 413.2L293.9 413.2L294.1 414.5M354.6 414.5L354.8 413.2L355.2 413.2L355.4 414.5M399.7 414.5L399.9 413.2L400.3 413.2L400.5 414.5" stroke="#ff0000"/>
<path d="M64.5 414.5L64.7 413.2L65.1 413.2L65.3 414.5M102.8 414.5L103.0 410.5L103.4 410.5L103.6 414.5M306.2 414.5L306.4 411.8L306.8 411.8L307.0 414.5M361.8 414.5L362.0 413.2L362.4 413.2L362.6 414.5" stroke="#00ff00"/>
<path d="M98.7 414.5L98.9 413.2L99.3 413.2L99.5 414.5M105.2 414.5L105.4 413.2L105.8 413.2L106.0 414.5M114.1 414.5L114.3 413.2L114.7 413.2L114.9 414.5M229.4 414.5L229.6 413.2L230.0 413.2L230.2 414.5M336.6 414.5L336.8 413.2L337.2 413.2L337.4 414.5M453.2 414.5L453.4 413.2L453.8 413.2L454.0 414.5" stroke="#0000ff"/>
<path d="M178.5 414.5L178.7 413.2L179.1 413.2L179.3 414.5M260.2 414.5L260.4 413.2L260.8 413.2L261.0 414.5M285.8 414.5L286.0 413.2L286.4 413.2L286.6 414.5M358.9 414.5L359.1 413.2L359.5 413.2L359.7 414.5M387.6 414.5L387.8 413.2L388.2 413.2L388.4 414.5M408.8 414.5L409.0 413.2L409.4 413.2L409.6 414.5" stroke="#00ffff"/>
<path d="M97.6 414.5L97.8 413.2L98.2 413.2L98.4 414.5M146.9 414.5L147.1 413.2L147.5 413.2L147.7 414.5M193.2 414.5L193.4 413.2L193.8 413.2L194.0 414.5M228.4 414.5L228.6 413.2L229.0 413.2L229.2 414.5M296.8 414.5L297.0 413.2L297.4 413.2L297.6 414.5M334.9 414.5L335.1 413.2L335.5 413.2L335.7 414.5" stroke="#ff00ff"/>
<path d="M41.50 414.55H455.40" stroke="#00ff00" stroke-width="1.6"/>
</g>
<g clip-path="url(#cpE)" fill="none" stroke-width="1.2" stroke-linejoin="round">
<path d="M43.6 517.1L44.6 517.3L45.6 517.5L46.6 517.7L47.6 517.9L48.6 518.0L49.6 518.2L50.6 518.3L51.6 518.5L52.6 518.6L53.6 518.7L54.6 518.8L55.6 518.9L56.6 519.0L57.6 519.0L58.6 519.1L59.4 519.2L60.0 507.5L61.0 508.4L62.0 509.3L63.0 510.1L64.0 510.8L65.0 511.5L66.0 512.2L67.0 512.8L68.0 513.3L69.0 513.8L70.0 514.3L71.0 514.7L72.0 515.1L73.0 515.5L74.0 515.8L75.0 516.1L76.0 516.4L77.0 516.7L78.0 516.9L79.0 517.2L80.0 517.4L81.0 517.6L82.0 517.7L83.0 517.9L84.0 518.1L85.0 518.2L85.6 508.9L86.6 509.8L87.6 510.5L88.6 511.2L89.6 511.9L90.6 512.5L91.6 513.1L92.6 513.6L93.6 514.1L94.6 514.5L95.6 514.9L96.6 515.3L97.6 515.7L98.6 516.0L99.6 516.3L100.6 516.6L101.6 516.8L102.6 517.1L103.6 517.3L104.6 517.5L105.6 517.7L106.6 517.8L107.6 518.0L108.6 518.2L109.6 518.3L110.6 518.4L111.6 518.5L112.6 518.7L113.6 518.8L114.6 518.8L115.6 518.9L116.6 519.0L117.6 519.1L118.6 519.2L119.6 519.2L120.6 519.3L121.6 519.3L122.5 519.4L123.1 509.9L124.1 510.7L125.1 511.4L126.1 512.0L127.1 512.6L128.1 513.2L129.1 513.7L130.1 514.2L131.1 514.6L132.1 515.0L133.1 515.4L134.1 515.7L135.1 516.0L136.1 516.3L137.1 516.6L138.1 516.9L139.1 517.1L140.1 517.3L141.1 517.5L142.1 517.7L143.1 517.9L144.1 518.0L145.1 518.2L146.1 518.3L147.1 518.4L148.1 518.6L149.1 518.7L150.1 518.8L151.1 518.9L152.1 518.9L153.1 519.0L154.1 519.1L155.1 519.2L156.1 519.2L156.9 519.3L157.5 468.6L158.5 472.4L159.5 476.0L160.5 479.3L161.5 482.4L162.5 485.2L163.5 487.8L164.5 490.2L165.5 492.5L166.5 494.5L167.5 496.4L168.5 498.2L169.5 499.9L170.5 501.4L171.5 502.8L172.5 504.1L173.5 505.3L174.5 506.4L175.5 507.4L176.5 508.3L177.5 509.2L178.5 510.0L179.5 510.8L180.5 511.5L181.5 512.1L182.5 512.7L183.5 513.2L184.5 513.8L185.5 514.2L186.5 514.7L187.5 515.1L188.5 515.4L189.5 515.8L190.5 516.1L191.5 516.4L192.5 516.7L193.5 516.9L194.5 517.1L195.5 517.4L196.5 517.5L197.5 517.7L198.5 517.9L199.5 518.1L200.5 518.2L201.5 518.3L202.5 518.5L203.5 518.6L204.5 518.7L205.5 518.8L206.5 518.9L207.5 519.0L208.5 519.0L209.5 519.1L210.5 519.2L211.5 519.2L212.5 519.3L213.5 519.3L214.5 519.4L215.5 519.4L216.5 519.5L217.5 519.5L218.5 519.6L219.5 519.6L220.5 519.6L221.5 519.6L222.5 519.7L223.5 519.7L224.4 519.7L225.0 501.5L226.0 502.9L227.0 504.2L228.0 505.4L229.0 506.5L230.0 507.5L231.0 508.4L232.0 509.3L233.0 510.1L234.0 510.9L235.0 511.5L236.0 512.2L237.0 512.8L238.0 513.3L239.0 513.8L240.0 514.3L241.0 514.7L242.0 515.1L243.0 515.5L244.0 515.8L245.0 516.1L246.0 516.4L247.0 516.7L248.0 516.9L249.0 517.2L250.0 517.4L251.0 517.6L252.0 517.8L253.0 517.9L254.0 518.1L255.0 518.2L256.0 518.4L257.0 518.5L258.0 518.6L259.0 518.7L260.0 518.8L261.0 518.9L262.0 519.0L263.0 519.0L264.0 519.1L265.0 519.2L266.0 519.2L267.0 519.3L268.0 519.4L269.0 519.4L270.0 519.4L270.3 519.5L270.9 506.3L271.9 507.3L272.9 508.3L273.9 509.2L274.9 510.0L275.9 510.7L276.9 511.4L277.9 512.1L278.9 512.7L279.9 513.2L280.9 513.7L281.9 514.2L282.9 514.6L283.9 515.0L284.9 515.4L285.9 515.7L286.9 516.1L287.9 516.4L288.9 516.6L289.9 516.9L290.9 517.1L291.9 517.3L292.9 517.5L293.9 517.7L294.9 517.9L295.9 518.0L296.9 518.2L297.9 518.3L298.9 518.5L299.9 518.6L300.9 518.7L301.9 518.8L302.9 518.9L303.9 519.0L304.9 519.0L305.9 519.1L306.9 519.2L307.9 519.2L308.9 519.3L309.9 519.3L310.9 519.4L311.9 519.4L312.9 519.5L313.9 519.5L314.9 519.6L315.9 519.6L316.9 519.6L317.9 519.6L318.9 519.7L319.9 519.7L320.9 519.7L321.9 519.7L322.9 519.8L323.2 519.8L323.8 480.7L324.8 483.7L325.8 486.4L326.8 488.9L327.8 491.2L328.8 493.4L329.8 495.4L330.8 497.3L331.8 499.0L332.8 500.5L333.8 502.0L334.8 503.4L335.8 504.6L336.8 505.8L337.8 506.8L338.8 507.8L339.8 508.7L340.8 509.6L341.8 510.4L342.8 511.1L343.8 511.8L344.8 512.4L345.8 512.9L346.8 513.5L347.8 514.0L348.8 514.4L349.8 514.8L350.8 515.2L351.8 515.6L352.8 515.9L353.8 516.2L354.8 516.5L355.8 516.8L356.8 517.0L357.8 517.2L358.8 517.4L359.8 517.6L360.8 517.8L361.8 518.0L362.8 518.1L363.8 518.3L364.8 518.4L365.8 518.5L366.8 518.6L367.8 518.7L368.8 518.8L369.8 518.9L370.8 519.0L371.8 519.1L372.8 519.1L373.8 519.2L374.8 519.3L375.8 519.3L376.8 519.4L377.8 519.4L378.8 519.5L379.8 519.5L380.8 519.5L381.8 519.6L382.8 519.6L383.8 519.6L384.8 519.7L385.8 519.7L386.8 519.7L387.8 519.7L388.8 519.7L389.8 519.8L390.8 519.8L391.8 519.8L392.8 519.8L393.8 519.8L394.8 519.8L395.8 519.9L396.8 519.9L397.8 519.9L398.8 519.9L399.8 519.9L400.8 519.9L401.8 519.9L402.8 519.9L403.8 519.9L404.8 519.9L405.8 519.9L406.8 519.9L407.8 519.9L408.8 519.9L409.8 519.9L410.8 519.9L411.8 520.0L412.8 520.0L413.8 520.0L414.8 520.0L415.8 520.0L416.8 520.0L417.8 520.0L418.8 520.0L419.8 520.0L420.7 520.0L421.3 509.0L422.3 509.8L423.3 510.6L424.3 511.3L425.3 512.0L426.3 512.6L427.3 513.1L428.3 513.6L429.3 514.1L430.3 514.6L431.3 515.0L432.3 515.3L433.3 515.7L434.3 516.0L435.3 516.3L436.3 516.6L437.3 516.8L438.3 517.1L439.3 517.3L440.3 517.5L441.3 517.7L442.3 517.9L443.3 518.0L444.3 518.2L445.3 518.3L446.3 518.4L447.3 518.6L448.3 518.7L449.3 518.8L450.3 518.9L451.3 518.9L452.3 519.0L453.3 519.1L454.3 519.2L455.3 519.2L456.3 519.3L457.3 519.3L457.7 519.4L458.3 507.1L459.3 508.1L460.0 508.7" stroke="#000000"/>
<path d="M43.6 516.4L44.6 516.6L45.6 516.8L46.6 517.0L47.6 517.2L48.6 517.4L49.6 517.5L50.6 517.7L51.6 517.8L52.6 518.0L53.6 518.1L54.6 518.2L55.6 518.3L56.6 518.4L57.6 518.5L58.6 518.6L59.6 518.6L60.6 518.7L61.6 518.8L62.6 518.8L63.6 518.9L64.6 518.9L65.6 519.0L66.6 519.0L67.6 519.1L68.6 519.1L69.6 519.1L70.6 519.2L71.6 519.2L72.6 519.2L73.6 519.2L74.6 519.3L75.6 519.3L76.6 519.3L77.6 519.3L78.6 519.3L79.6 519.3L80.6 519.4L81.6 519.4L82.6 519.4L83.6 519.4L84.6 519.4L85.6 519.4L86.6 519.4L87.6 519.4L88.6 519.4L89.6 519.5L90.6 519.5L91.6 519.5L92.6 519.5L93.6 519.5L94.6 519.5L95.6 519.5L96.6 519.5L96.8 519.5L97.4 492.6L98.4 494.6L99.4 496.5L100.4 498.2L101.4 499.8L102.4 501.3L103.4 502.7L104.4 503.9L105.4 505.1L106.4 506.2L107.4 507.2L108.4 508.1L109.4 509.0L110.4 509.8L111.4 510.5L112.4 511.2L113.4 511.8L114.4 512.4L115.4 512.9L116.4 513.4L117.4 513.9L118.4 514.3L119.4 514.7L120.4 515.1L121.4 515.4L122.4 515.7L123.4 516.0L124.4 516.3L125.4 516.5L126.4 516.7L127.4 517.0L128.4 517.1L129.4 517.3L130.4 517.5L131.4 517.6L132.4 517.8L133.4 517.9L134.4 518.0L135.4 518.2L136.4 518.3L137.4 518.4L138.4 518.4L139.4 518.5L139.8 518.6L140.4 458.3L149.1 458.3L149.9 459.3L150.6 461.4L151.6 465.8L152.6 469.8L153.6 473.6L154.6 477.0L155.6 480.2L156.6 483.2L157.6 485.9L158.6 488.4L159.6 490.8L160.6 492.9L161.6 494.9L162.6 496.8L163.6 498.5L164.6 500.1L165.6 501.5L166.6 502.9L167.6 504.1L168.6 505.3L169.6 506.4L170.6 507.4L171.6 508.3L172.6 509.1L173.6 509.9L174.6 510.6L175.6 511.3L176.6 511.9L177.6 512.5L178.6 513.0L179.6 513.5L180.6 514.0L181.6 514.4L182.6 514.8L183.6 515.1L184.6 515.5L185.6 515.8L186.6 516.0L187.6 516.3L188.6 516.6L189.6 516.8L190.6 517.0L191.6 517.2L192.6 517.4L193.6 517.5L194.6 517.7L195.6 517.8L196.6 517.9L197.6 518.1L198.6 518.2L199.6 518.3L200.6 518.4L201.6 518.5L202.6 518.5L203.6 518.6L204.6 518.7L205.6 518.7L206.6 518.8L207.6 518.9L208.6 518.9L209.6 519.0L210.6 519.0L211.6 519.0L212.6 519.1L213.6 519.1L214.6 519.1L215.6 519.2L216.6 519.2L217.6 519.2L218.6 519.3L219.6 519.3L220.6 519.3L221.6 519.3L222.6 519.3L223.6 519.3L224.6 519.4L225.6 519.4L226.6 519.4L227.6 519.4L228.6 519.4L229.6 519.4L230.6 519.4L231.6 519.4L232.6 519.4L233.6 519.5L234.6 519.5L235.6 519.5L236.6 519.5L237.6 519.5L238.6 519.5L239.6 519.5L240.6 519.5L241.6 519.5L242.6 519.5L243.6 519.5L244.6 519.5L245.6 519.5L246.1 519.5L246.7 513.2L247.7 513.6L248.7 514.1L249.7 514.5L250.7 514.9L251.7 515.2L252.7 515.5L253.7 515.8L254.7 516.1L255.7 516.4L256.7 516.6L257.7 516.8L258.7 517.0L259.7 517.2L260.7 517.4L261.7 517.6L262.7 517.7L263.7 517.8L264.7 518.0L265.7 518.1L266.7 518.2L267.7 518.3L268.7 518.4L269.7 518.5L270.7 518.6L271.7 518.6L272.7 518.7L273.7 518.8L274.7 518.8L275.7 518.9L276.7 518.9L277.7 519.0L278.7 519.0L279.7 519.1L280.7 519.1L281.7 519.1L282.7 519.2L283.7 519.2L284.7 519.2L285.7 519.2L286.7 519.3L287.7 519.3L288.7 519.3L289.7 519.3L290.7 519.3L291.7 519.3L292.7 519.4L293.7 519.4L294.7 519.4L295.7 519.4L296.7 519.4L297.7 519.4L298.5 519.4L299.1 514.7L300.1 515.0L301.1 515.4L302.1 515.7L303.1 516.0L304.1 516.3L305.1 516.5L306.1 516.7L307.1 516.9L308.1 517.1L309.1 517.3L310.1 517.5L311.1 517.6L312.1 517.8L313.1 517.9L314.1 518.0L315.1 518.1L316.1 518.3L317.1 518.3L318.1 518.4L319.1 518.5L320.1 518.6L321.1 518.7L322.1 518.7L323.1 518.8L324.1 518.9L325.1 518.9L326.1 519.0L327.1 519.0L328.1 519.0L329.1 519.1L330.1 519.1L331.1 519.1L332.1 519.2L333.1 519.2L334.1 519.2L335.1 519.2L336.1 519.3L337.1 519.3L338.1 519.3L339.1 519.3L340.1 519.3L341.1 519.4L342.1 519.4L343.1 519.4L344.1 519.4L345.1 519.4L346.1 519.4L347.1 519.4L347.3 519.4L347.9 480.2L348.9 483.1L349.9 485.9L350.9 488.4L351.9 490.7L352.9 492.9L353.9 494.9L354.9 496.8L355.9 498.5L356.9 500.1L357.9 501.5L358.9 502.9L359.9 504.1L360.9 505.3L361.9 506.4L362.9 507.3L363.9 508.3L364.9 509.1L365.9 509.9L366.9 510.6L367.9 511.3L368.9 511.9L369.9 512.5L370.9 513.0L371.9 513.5L372.9 514.0L373.9 514.4L374.9 514.8L375.9 515.1L376.9 515.5L377.9 515.8L378.9 516.0L379.9 516.3L380.9 516.6L381.9 516.8L382.9 517.0L383.9 517.2L384.9 517.4L385.9 517.5L386.9 517.7L387.6 517.8L388.2 458.3L397.1 458.3L397.9 459.3L398.6 461.4L399.6 465.8L400.6 469.8L401.6 473.6L402.6 477.0L403.6 480.2L404.6 483.2L405.6 485.9L406.6 488.4L407.6 490.8L408.6 492.9L409.6 494.9L410.6 496.8L411.6 498.5L412.6 500.1L413.6 501.5L414.6 502.9L415.6 504.1L416.6 505.3L417.6 506.4L418.6 507.4L419.6 508.3L420.6 509.1L421.6 509.9L422.6 510.6L423.6 511.3L424.6 511.9L425.6 512.5L426.6 513.0L427.6 513.5L428.6 514.0L428.7 514.0L429.3 459.6L430.3 464.1L431.3 468.3L432.3 472.1L433.3 475.7L434.3 479.0L435.3 482.0L436.3 484.8L437.3 487.4L438.3 489.9L439.3 492.1L440.3 494.2L441.3 496.1L442.3 497.8L443.3 499.5L444.3 501.0L445.3 502.4L446.3 503.7L447.3 504.8L448.3 506.0L449.3 507.0L450.3 507.9L451.3 508.8L452.3 509.6L453.3 510.3L454.3 511.0L455.3 511.7L456.3 512.3L457.3 512.8L458.3 513.3L459.3 513.8L460.0 514.1" stroke="#ff0000"/>
<path d="M43.6 518.3L44.6 518.3L45.6 518.4L46.6 518.4L47.6 518.4L48.6 518.4L49.6 518.4L50.6 518.5L51.6 518.5L52.6 518.5L53.6 518.5L54.6 518.5L55.6 518.5L56.6 518.5L57.6 518.5L58.6 518.6L59.6 518.6L60.6 518.6L61.6 518.6L62.6 518.6L63.6 518.6L64.6 518.6L65.6 518.6L66.6 518.6L67.6 518.6L68.6 518.6L69.6 518.6L70.6 518.6L71.6 518.6L72.6 518.6L73.6 518.6L74.6 518.6L75.6 518.6L76.6 518.6L77.6 518.6L78.6 518.6L79.6 518.6L80.6 518.6L81.6 518.6L82.6 518.6L83.6 518.6L84.6 518.6L85.0 518.6L85.6 507.2L86.6 508.1L87.6 508.9L88.6 509.6L89.6 510.3L90.6 510.9L91.6 511.5L92.6 512.0L93.6 512.5L94.6 513.0L95.6 513.4L96.6 513.8L97.6 514.2L98.6 514.5L99.6 514.8L100.6 515.1L101.6 515.4L102.6 515.6L103.6 515.9L104.6 516.1L105.6 516.3L106.6 516.4L107.6 516.6L108.6 516.8L109.6 516.9L110.6 517.0L111.6 517.2L112.6 517.3L113.6 517.4L114.6 517.5L115.6 517.6L116.6 517.6L117.6 517.7L118.6 517.8L119.6 517.9L120.6 517.9L121.6 518.0L122.6 518.0L123.6 518.1L124.2 513.2L125.2 513.6L126.2 514.0L127.2 514.3L128.2 514.6L129.2 514.9L130.2 515.2L131.2 515.5L132.2 515.7L133.2 515.9L134.2 516.1L135.2 516.3L136.2 516.5L137.2 516.7L138.2 516.8L139.2 517.0L140.2 517.1L141.2 517.2L142.2 517.3L143.2 517.4L144.2 517.5L145.2 517.6L146.2 517.7L147.2 517.7L148.2 517.8L149.2 517.9L150.2 517.9L151.2 518.0L152.2 518.0L153.2 518.1L154.2 518.1L155.2 518.2L156.2 518.2L157.2 518.2L158.2 518.3L159.2 518.3L160.2 518.3L161.2 518.4L162.2 518.4L163.2 518.4L163.8 518.4L164.4 516.3L165.4 516.5L166.4 516.6L167.4 516.8L168.4 516.9L169.4 517.1L170.4 517.2L171.4 517.3L172.4 517.4L173.4 517.5L174.4 517.6L175.4 517.7L176.4 517.7L177.4 517.8L178.4 517.9L179.4 517.9L180.4 518.0L181.4 518.0L182.4 518.1L183.4 518.1L184.4 518.2L185.4 518.2L186.4 518.2L186.4 518.2L187.0 516.1L188.0 516.3L189.0 516.5L190.0 516.7L191.0 516.8L192.0 516.9L193.0 517.1L194.0 517.2L195.0 517.3L196.0 517.4L197.0 517.5L198.0 517.6L198.6 500.8L199.6 502.1L200.6 503.3L201.6 504.5L202.6 505.6L203.6 506.5L204.6 507.5L205.6 508.3L206.6 509.1L207.6 509.8L208.6 510.5L209.6 511.1L210.6 511.6L211.6 512.2L212.6 512.7L213.6 513.1L214.6 513.5L215.6 513.9L216.6 514.3L217.6 514.6L218.6 514.9L219.6 515.2L220.6 515.5L221.6 515.7L222.6 515.9L223.6 516.1L224.6 516.3L225.6 516.5L226.6 516.7L227.6 516.8L228.6 516.9L229.6 517.1L230.6 517.2L231.6 517.3L232.6 517.4L233.6 517.5L234.6 517.6L235.6 517.7L236.6 517.7L237.6 517.8L238.6 517.9L239.6 517.9L240.6 518.0L241.6 518.0L242.6 518.1L243.6 518.1L244.6 518.2L245.6 518.2L246.6 518.2L247.6 518.3L248.6 518.3L249.6 518.3L250.6 518.4L251.6 518.4L252.6 518.4L252.6 518.4L253.2 500.8L254.2 502.1L255.2 503.3L256.2 504.5L257.2 505.6L258.2 506.5L259.2 507.5L260.2 508.3L261.2 509.1L262.2 509.8L263.2 510.5L264.2 511.1L265.2 511.6L266.2 512.2L267.2 512.7L268.2 513.1L269.2 513.5L270.2 513.9L271.2 514.3L272.2 514.6L273.2 514.9L274.2 515.2L275.2 515.5L276.2 515.7L277.2 515.9L278.2 516.1L279.2 516.3L280.2 516.5L281.2 516.7L282.2 516.8L283.2 516.9L284.2 517.1L285.2 517.2L286.2 517.3L287.2 517.4L288.2 517.5L289.2 517.6L290.2 517.7L291.2 517.7L292.2 517.8L293.2 517.9L294.2 517.9L295.2 518.0L296.2 518.0L297.2 518.1L298.2 518.1L299.2 518.2L300.2 518.2L301.2 518.2L302.2 518.3L303.2 518.3L304.2 518.3L305.2 518.4L306.2 518.4L307.2 518.4L308.2 518.4L309.2 518.4L310.2 518.5L311.2 518.5L312.2 518.5L313.2 518.5L314.2 518.5L315.2 518.5L316.2 518.5L317.2 518.5L318.2 518.6L319.2 518.6L320.2 518.6L321.2 518.6L322.2 518.6L323.2 518.6L324.2 518.6L325.2 518.6L326.2 518.6L327.2 518.6L328.2 518.6L329.2 518.6L330.2 518.6L331.2 518.6L332.2 518.6L333.2 518.6L334.2 518.6L335.2 518.6L336.2 518.6L337.2 518.6L338.2 518.6L339.2 518.6L340.2 518.6L341.2 518.6L342.2 518.6L343.2 518.6L344.2 518.6L345.2 518.6L346.2 518.6L347.2 518.7L348.2 518.7L349.2 518.7L350.2 518.7L350.5 518.7L351.1 507.7L352.1 508.5L353.1 509.3L354.1 510.0L355.1 510.7L356.1 511.3L357.1 511.8L358.1 512.3L359.1 512.8L360.1 513.2L361.1 513.7L362.1 514.0L363.1 514.4L364.1 514.7L365.1 515.0L366.1 515.3L367.1 515.5L368.1 515.8L369.1 516.0L370.1 516.2L371.1 516.4L372.1 516.5L373.1 516.7L374.1 516.8L375.1 517.0L376.1 517.1L377.1 517.2L378.1 517.3L379.1 517.4L380.1 517.5L381.1 517.6L382.1 517.7L383.1 517.8L384.1 517.8L385.1 517.9L386.1 518.0L387.1 518.0L388.1 518.1L389.1 518.1L390.1 518.1L391.1 518.2L392.1 518.2L393.1 518.3L394.1 518.3L395.1 518.3L396.1 518.3L397.1 518.4L398.1 518.4L399.1 518.4L400.1 518.4L401.1 518.4L402.1 518.5L402.4 518.5L403.0 458.3L411.7 458.3L412.5 459.3L413.2 461.4L414.2 465.7L415.2 469.7L416.2 473.4L417.2 476.8L418.2 479.9L419.2 482.9L420.2 485.5L421.2 488.0L422.2 490.3L423.2 492.5L424.2 494.4L425.2 496.3L426.2 497.9L427.2 499.5L428.2 500.9L429.2 502.3L430.2 503.5L431.2 504.6L432.2 505.7L433.2 506.7L434.2 507.6L435.2 508.4L436.2 509.2L437.2 509.9L438.2 510.5L439.2 511.2L440.2 511.7L441.2 512.2L442.2 512.7L443.2 513.2L444.2 513.6L445.2 514.0L446.2 514.3L447.2 514.6L448.2 514.9L449.2 515.2L450.2 515.5L451.2 515.7L451.8 515.9L452.4 465.1L453.4 469.2L454.4 472.9L455.4 476.3L456.4 479.5L457.4 482.4L458.4 485.2L459.4 487.7L460.0 489.2" stroke="#00ff00"/>
<path d="M43.6 516.3L44.6 516.7L45.6 517.0L46.6 517.3L47.6 517.5L48.6 517.8L49.6 518.0L50.6 518.2L51.6 518.4L52.6 518.6L53.6 518.7L54.6 518.9L55.6 519.0L56.6 519.2L57.6 519.3L58.6 519.4L59.6 519.5L60.6 519.6L61.6 519.7L62.6 519.8L63.6 519.8L64.6 519.9L65.6 520.0L66.6 520.0L67.6 520.1L68.6 520.1L69.6 520.2L70.6 520.2L71.6 520.3L72.6 520.3L73.6 520.3L74.6 520.4L75.6 520.4L76.6 520.4L77.6 520.5L78.6 520.5L79.6 520.5L80.6 520.5L81.6 520.5L82.6 520.6L83.6 520.6L84.6 520.6L85.3 520.6L85.9 517.0L86.9 517.3L87.9 517.6L88.9 517.8L89.9 518.0L90.9 518.2L91.9 518.4L92.9 518.6L93.9 518.8L94.9 518.9L95.9 519.0L96.9 519.2L97.9 519.3L98.9 519.4L99.9 519.5L100.9 519.6L101.9 519.7L102.9 519.8L103.9 519.8L104.9 519.9L105.9 520.0L106.6 520.0L107.2 463.5L108.2 467.8L109.2 471.8L110.2 475.5L111.2 478.9L112.2 482.0L113.2 485.0L114.2 487.6L115.2 490.1L116.2 492.4L117.2 494.6L118.2 496.5L119.2 498.4L120.2 500.0L121.2 501.6L122.2 503.0L123.2 504.4L124.2 505.6L125.2 506.7L126.2 507.8L127.2 508.8L128.2 509.7L129.2 510.5L130.2 511.3L131.2 512.0L131.7 512.3L132.3 510.2L133.3 511.0L134.3 511.7L135.3 512.4L136.3 513.0L137.2 513.6L137.8 511.0L138.8 511.8L139.8 512.5L140.8 513.1L141.8 513.7L142.8 514.2L143.8 514.7L144.8 515.1L145.8 515.6L146.8 516.0L147.8 516.3L148.8 516.6L149.8 517.0L150.8 517.2L151.8 517.5L152.8 517.8L153.8 518.0L154.8 518.2L155.8 518.4L156.8 518.6L157.8 518.7L158.8 518.9L159.8 519.0L160.8 519.2L161.8 519.3L162.8 519.4L163.8 519.5L164.8 519.6L165.8 519.7L166.8 519.8L167.8 519.8L168.8 519.9L169.8 520.0L170.8 520.0L171.8 520.1L172.8 520.1L173.8 520.2L174.8 520.2L175.8 520.3L176.8 520.3L177.8 520.3L178.8 520.4L179.8 520.4L180.8 520.4L181.8 520.5L182.8 520.5L183.8 520.5L184.8 520.5L185.8 520.5L186.8 520.6L187.8 520.6L188.8 520.6L189.8 520.6L190.8 520.6L191.8 520.6L192.8 520.6L193.8 520.6L194.8 520.7L195.8 520.7L196.8 520.7L197.8 520.7L198.8 520.7L199.8 520.7L200.8 520.7L201.8 520.7L202.8 520.7L203.8 520.7L204.8 520.7L205.8 520.7L206.8 520.7L207.8 520.7L208.8 520.7L209.8 520.7L210.8 520.7L211.8 520.7L212.8 520.7L213.8 520.7L214.8 520.7L215.8 520.7L216.8 520.7L217.8 520.7L218.8 520.7L219.8 520.7L220.8 520.7L221.8 520.7L222.8 520.8L223.8 520.8L224.8 520.8L225.8 520.8L226.8 520.8L227.8 520.8L228.8 520.8L229.8 520.8L230.8 520.8L231.8 520.8L232.8 520.8L233.8 520.8L234.8 520.8L235.8 520.8L236.8 520.8L237.8 520.8L238.8 520.8L239.8 520.8L240.8 520.8L241.8 520.8L242.8 520.8L243.8 520.8L244.8 520.8L245.8 520.8L246.8 520.8L247.8 520.8L248.8 520.8L249.8 520.8L250.8 520.8L251.8 520.8L252.8 520.8L253.8 520.8L254.8 520.8L255.8 520.8L256.8 520.8L257.6 520.8L258.2 512.6L259.2 513.2L260.2 513.8L261.2 514.3L262.2 514.8L263.2 515.3L264.2 515.7L265.2 516.1L266.2 516.4L267.2 516.7L268.2 517.0L269.2 517.3L270.2 517.6L271.2 517.8L272.2 518.0L273.2 518.2L274.2 518.4L275.2 518.6L276.2 518.8L277.2 518.9L278.2 519.1L279.2 519.2L280.2 519.3L281.2 519.4L282.2 519.5L283.2 519.6L284.2 519.7L285.2 519.8L286.2 519.9L287.2 519.9L288.2 520.0L289.2 520.0L290.2 520.1L291.2 520.1L292.2 520.2L293.2 520.2L294.2 520.3L295.2 520.3L296.2 520.3L297.2 520.4L298.2 520.4L299.2 520.4L300.2 520.5L301.2 520.5L302.2 520.5L303.2 520.5L304.2 520.5L305.2 520.6L306.2 520.6L307.2 520.6L308.2 520.6L309.2 520.6L310.2 520.6L311.2 520.6L312.2 520.6L313.2 520.7L314.2 520.7L314.9 520.7L315.5 511.1L316.5 511.9L317.5 512.5L318.5 513.2L319.5 513.7L320.5 514.3L321.5 514.7L322.5 515.2L323.5 515.6L324.5 516.0L325.5 516.4L326.5 516.7L327.5 517.0L328.5 517.3L329.5 517.5L330.5 517.8L331.5 518.0L332.5 518.2L333.5 518.4L334.5 518.6L335.5 518.7L336.5 518.9L337.5 519.0L338.5 519.2L339.5 519.3L340.5 519.4L341.5 519.5L342.5 519.6L343.5 519.7L344.5 519.8L345.5 519.8L346.5 519.9L347.5 520.0L348.5 520.0L349.5 520.1L350.5 520.1L351.5 520.2L352.5 520.2L353.5 520.3L354.5 520.3L355.5 520.3L356.5 520.4L356.7 520.4L357.3 493.9L358.3 495.9L359.3 497.8L360.3 499.5L361.3 501.1L362.3 502.6L363.3 503.9L364.3 505.2L365.3 506.4L366.3 507.5L367.3 508.5L368.3 509.4L369.3 510.2L370.3 511.0L371.3 511.8L372.3 512.4L373.3 513.1L374.3 513.6L375.3 514.2L376.3 514.7L377.3 515.1L378.3 515.6L379.3 515.9L380.3 516.3L381.3 516.6L382.3 517.0L383.3 517.2L384.3 517.5L385.3 517.7L386.3 518.0L387.3 518.2L388.3 518.4L389.3 518.6L390.3 518.7L391.3 518.9L392.3 519.0L393.3 519.1L394.3 519.3L395.3 519.4L396.3 519.5L397.3 519.6L398.3 519.7L399.3 519.8L400.3 519.8L401.3 519.9L402.3 520.0L403.3 520.0L404.3 520.1L405.3 520.1L406.3 520.2L407.3 520.2L408.3 520.3L409.3 520.3L410.3 520.3L411.3 520.4L412.3 520.4L413.3 520.4L414.3 520.5L415.3 520.5L416.3 520.5L417.3 520.5L418.3 520.5L419.3 520.6L420.3 520.6L421.3 520.6L422.3 520.6L423.3 520.6L424.3 520.6L425.3 520.6L426.3 520.6L427.3 520.6L428.3 520.7L429.3 520.7L430.3 520.7L431.3 520.7L432.3 520.7L433.3 520.7L434.3 520.7L435.3 520.7L436.3 520.7L437.3 520.7L438.3 520.7L439.3 520.7L440.3 520.7L441.3 520.7L442.3 520.7L443.3 520.7L444.3 520.7L445.3 520.7L446.3 520.7L447.3 520.7L448.3 520.7L449.3 520.7L450.3 520.7L450.5 520.7L451.1 513.4L452.1 514.0L453.1 514.5L454.1 515.0L455.1 515.4L456.1 515.8L457.1 516.2L458.1 516.5L459.1 516.8L460.0 517.1" stroke="#0000ff"/>
<path d="M43.6 518.7L44.6 518.8L45.6 518.9L46.6 518.9L47.6 519.0L48.6 519.1L49.6 519.1L50.6 519.2L51.6 519.3L52.6 519.3L53.6 519.4L54.6 519.4L55.6 519.4L56.6 519.5L57.6 519.5L58.6 519.5L59.6 519.6L60.6 519.6L61.6 519.6L62.6 519.6L63.6 519.7L64.6 519.7L65.6 519.7L66.6 519.7L67.6 519.7L68.6 519.7L69.6 519.8L70.6 519.8L71.6 519.8L72.6 519.8L73.6 519.8L73.6 519.8L74.2 511.0L75.2 511.7L76.2 512.3L77.2 512.9L78.2 513.4L79.2 513.9L80.2 514.3L81.2 514.8L82.2 515.1L83.2 515.5L84.2 515.8L85.2 516.1L86.2 516.4L87.2 516.7L88.2 516.9L89.2 517.2L90.2 517.4L91.2 517.6L92.2 517.7L93.2 517.9L94.2 518.0L95.2 518.2L96.2 518.3L97.2 518.4L98.2 518.6L99.2 518.7L100.2 518.7L101.2 518.8L102.2 518.9L103.2 519.0L104.2 519.1L105.2 519.1L106.2 519.2L107.2 519.2L108.2 519.3L109.2 519.3L110.2 519.4L111.2 519.4L112.2 519.5L113.2 519.5L114.2 519.5L115.2 519.6L116.2 519.6L117.2 519.6L118.2 519.6L119.2 519.7L120.2 519.7L121.2 519.7L122.2 519.7L123.2 519.7L124.2 519.7L125.2 519.8L126.2 519.8L127.2 519.8L128.2 519.8L129.2 519.8L130.2 519.8L131.2 519.8L132.2 519.8L133.2 519.8L134.2 519.8L135.2 519.8L136.2 519.8L137.2 519.9L138.2 519.9L139.2 519.9L140.2 519.9L141.2 519.9L142.2 519.9L143.2 519.9L144.2 519.9L145.2 519.9L146.2 519.9L147.2 519.9L148.2 519.9L149.2 519.9L150.2 519.9L151.2 519.9L152.0 519.9L152.6 497.9L153.6 499.5L154.6 501.0L155.6 502.5L156.6 503.8L157.6 505.0L158.6 506.1L159.6 507.1L160.6 508.1L161.6 509.0L162.6 509.8L163.6 510.6L164.6 511.3L165.6 511.9L166.6 512.5L167.6 513.1L168.6 513.6L169.6 514.1L170.6 514.5L171.6 514.9L172.6 515.3L173.6 515.6L174.6 516.0L175.6 516.3L176.6 516.5L177.6 516.8L178.6 517.0L179.6 517.2L180.6 517.4L181.6 517.6L182.6 517.8L183.6 518.0L184.6 518.1L185.6 518.2L186.6 518.4L187.6 518.5L188.6 518.6L189.6 518.7L190.6 518.8L191.6 518.9L192.6 518.9L193.6 519.0L194.6 519.1L195.6 519.2L196.6 519.2L197.6 519.3L198.6 519.3L199.6 519.4L200.6 519.4L201.6 519.4L202.6 519.5L203.6 519.5L204.6 519.5L205.6 519.6L206.6 519.6L207.6 519.6L208.6 519.6L209.6 519.7L210.6 519.7L211.6 519.7L212.6 519.7L213.6 519.7L214.6 519.7L215.6 519.8L216.6 519.8L217.6 519.8L218.6 519.8L219.6 519.8L220.6 519.8L221.6 519.8L222.6 519.8L223.6 519.8L224.6 519.8L225.6 519.8L226.6 519.9L227.6 519.9L228.6 519.9L229.6 519.9L230.6 519.9L231.6 519.9L232.6 519.9L233.6 519.9L234.6 519.9L235.6 519.9L236.6 519.9L237.6 519.9L238.6 519.9L239.6 519.9L240.6 519.9L241.6 519.9L242.6 519.9L243.6 519.9L244.6 519.9L245.6 519.9L246.6 519.9L247.6 519.9L248.6 519.9L249.6 519.9L250.6 519.9L250.9 519.9L251.5 510.6L252.5 511.3L253.5 512.0L254.5 512.6L255.5 513.1L256.5 513.6L257.5 514.1L258.5 514.6L259.5 515.0L260.5 515.3L261.5 515.7L262.5 516.0L263.5 516.3L264.5 516.6L265.5 516.8L266.5 517.0L267.5 517.3L268.5 517.5L269.5 517.6L270.5 517.8L271.5 518.0L272.5 518.1L273.5 518.3L274.5 518.4L275.5 518.5L276.5 518.6L277.2 518.7L277.8 500.5L278.8 501.9L279.8 503.3L280.8 504.5L281.8 505.7L282.8 506.8L283.8 507.8L284.8 508.7L285.8 509.5L286.8 510.3L287.8 511.0L288.8 511.7L289.8 512.3L290.8 512.9L291.8 513.4L292.8 513.9L293.8 514.4L294.8 514.8L295.8 515.2L296.8 515.5L297.8 515.8L298.8 516.2L299.8 516.4L300.8 516.7L301.8 516.9L302.8 517.2L303.8 517.4L304.8 517.6L305.0 517.6L305.6 509.3L306.6 510.1L307.6 510.8L308.6 511.5L309.6 512.1L310.6 512.7L311.6 513.3L312.6 513.8L313.6 514.2L314.6 514.6L315.6 515.0L316.6 515.4L317.6 515.7L318.6 516.1L319.6 516.4L320.6 516.6L321.6 516.9L322.6 517.1L323.6 517.3L324.6 517.5L325.6 517.7L326.6 517.9L327.6 518.0L328.6 518.2L329.6 518.3L330.6 518.4L331.6 518.5L332.6 518.6L333.6 518.7L334.6 518.8L335.6 518.9L336.6 519.0L337.6 519.0L338.6 519.1L339.6 519.2L340.6 519.2L341.6 519.3L342.6 519.3L343.6 519.4L344.6 519.4L345.6 519.5L346.6 519.5L347.6 519.5L348.6 519.5L349.6 519.6L350.6 519.6L351.6 519.6L352.6 519.6L353.6 519.7L354.6 519.7L355.6 519.7L356.6 519.7L357.6 519.7L358.6 519.7L359.6 519.8L360.6 519.8L361.6 519.8L361.6 519.8L362.2 513.4L363.2 513.9L364.2 514.4L365.2 514.8L366.2 515.2L367.2 515.5L368.2 515.8L369.2 516.2L370.2 516.4L371.2 516.7L372.2 516.9L373.2 517.2L374.2 517.4L374.4 517.4L375.0 515.3L376.0 515.6L377.0 516.0L378.0 516.3L379.0 516.5L380.0 516.8L381.0 517.0L382.0 517.2L383.0 517.4L384.0 517.6L385.0 517.8L386.0 518.0L387.0 518.1L388.0 518.2L389.0 518.4L390.0 518.5L391.0 518.6L392.0 518.7L393.0 518.8L394.0 518.9L395.0 518.9L396.0 519.0L397.0 519.1L398.0 519.2L399.0 519.2L400.0 519.3L401.0 519.3L402.0 519.4L403.0 519.4L404.0 519.4L405.0 519.5L406.0 519.5L407.0 519.5L408.0 519.6L409.0 519.6L409.8 519.6L410.4 511.3L411.4 511.9L412.4 512.5L413.4 513.1L414.4 513.6L415.4 514.1L416.4 514.5L417.4 514.9L418.4 515.3L419.4 515.6L420.4 516.0L421.4 516.3L422.4 516.5L423.4 516.8L424.4 517.0L425.4 517.2L426.4 517.4L427.3 517.6L427.9 513.7L428.9 514.2L429.9 514.6L430.9 515.0L431.9 515.4L432.9 515.7L433.9 516.0L434.9 516.3L435.9 516.6L436.9 516.8L437.9 517.1L438.9 517.3L439.9 517.5L440.9 517.7L441.9 517.8L442.9 518.0L443.9 518.1L444.9 518.3L445.9 518.4L446.9 518.5L447.9 518.6L448.9 518.7L449.9 518.8L450.9 518.9L451.9 519.0L452.9 519.0L453.9 519.1L454.9 519.2L455.9 519.2L456.9 519.3L457.9 519.3L458.9 519.4L459.9 519.4L460.0 519.4" stroke="#00ffff"/>
<path d="M43.6 514.9L44.6 515.1L45.6 515.3L46.6 515.4L47.6 515.6L48.6 515.7L49.6 515.8L50.6 516.0L51.6 516.1L52.6 516.2L53.6 516.3L54.6 516.3L55.6 516.4L56.6 516.5L57.6 516.6L58.6 516.6L59.6 516.7L60.6 516.7L61.6 516.8L62.6 516.8L63.6 516.9L64.6 516.9L65.6 516.9L66.6 517.0L67.6 517.0L68.6 517.0L69.6 517.1L70.6 517.1L71.6 517.1L72.6 517.1L73.6 517.2L74.6 517.2L75.6 517.2L76.6 517.2L77.6 517.2L78.6 517.2L79.2 517.2L79.8 511.0L80.8 511.5L81.8 512.0L82.8 512.4L83.8 512.7L84.8 513.1L85.8 513.4L86.8 513.7L87.8 514.0L88.8 514.3L89.8 514.5L90.8 514.7L91.8 514.9L92.8 515.1L93.8 515.3L94.8 515.4L95.8 515.6L96.8 515.7L97.8 515.8L98.8 516.0L99.8 516.1L100.8 516.2L101.8 516.3L102.8 516.3L103.8 516.4L104.8 516.5L105.8 516.6L106.8 516.6L107.8 516.7L108.8 516.7L109.8 516.8L110.8 516.8L111.8 516.9L112.8 516.9L113.8 516.9L114.8 517.0L115.8 517.0L116.8 517.0L117.8 517.1L118.8 517.1L119.8 517.1L120.8 517.1L121.8 517.2L122.8 517.2L123.8 517.2L124.8 517.2L125.8 517.2L126.8 517.2L127.8 517.2L128.8 517.3L129.8 517.3L130.8 517.3L131.8 517.3L132.8 517.3L133.8 517.3L134.8 517.3L135.8 517.3L136.8 517.3L137.8 517.3L138.8 517.3L139.8 517.3L140.7 517.3L141.3 508.4L142.3 509.1L143.3 509.7L144.3 510.3L145.3 510.8L146.3 511.3L147.3 511.8L148.3 512.2L149.3 512.6L150.3 512.9L151.3 513.3L152.3 513.6L153.3 513.9L154.3 514.1L155.3 514.4L156.3 514.6L157.3 514.8L158.3 515.0L159.3 515.2L160.3 515.4L161.3 515.5L162.3 515.7L163.3 515.8L164.3 515.9L165.3 516.0L166.3 516.1L167.3 516.2L168.3 516.3L169.3 516.4L170.3 516.5L171.3 516.5L172.3 516.6L173.3 516.7L174.3 516.7L175.3 516.8L176.3 516.8L177.3 516.9L178.3 516.9L179.3 516.9L180.3 517.0L181.3 517.0L182.3 517.0L183.3 517.1L184.3 517.1L185.3 517.1L186.3 517.1L187.3 517.1L188.3 517.2L189.3 517.2L189.4 517.2L190.0 478.1L191.0 481.0L192.0 483.7L193.0 486.3L194.0 488.6L195.0 490.8L196.0 492.8L197.0 494.6L198.0 496.3L199.0 497.9L200.0 499.4L201.0 500.7L202.0 502.0L203.0 503.1L204.0 504.2L205.0 505.2L206.0 506.1L207.0 507.0L208.0 507.8L209.0 508.5L210.0 509.1L211.0 509.8L212.0 510.3L213.0 510.9L214.0 511.4L215.0 511.8L216.0 512.2L217.0 512.6L218.0 513.0L219.0 513.3L220.0 513.6L221.0 513.9L222.0 514.2L223.0 514.4L224.0 514.6L225.0 514.8L226.0 515.0L227.0 515.2L228.0 515.4L229.0 515.5L230.0 515.7L231.0 515.8L232.0 515.9L233.0 516.0L233.3 516.1L233.9 513.9L234.9 514.2L235.9 514.4L236.9 514.7L237.9 514.9L238.9 515.1L239.9 515.2L240.9 515.4L241.9 515.5L242.9 515.7L243.9 515.8L244.9 515.9L245.9 516.0L246.9 516.1L247.9 516.2L248.9 516.3L249.9 516.4L250.9 516.5L251.9 516.5L252.9 516.6L253.9 516.7L254.9 516.7L255.9 516.8L256.9 516.8L257.9 516.9L258.9 516.9L259.9 516.9L260.9 517.0L261.9 517.0L262.8 517.0L263.4 514.9L264.4 515.1L265.4 515.3L266.4 515.4L267.4 515.6L268.4 515.7L269.4 515.8L270.4 516.0L271.4 516.1L272.4 516.2L273.4 516.3L274.4 516.3L275.4 516.4L276.4 516.5L277.4 516.6L278.4 516.6L279.4 516.7L280.4 516.7L281.4 516.8L282.2 516.8L282.8 458.3L290.8 458.3L291.6 459.3L292.3 461.4L293.3 465.6L294.3 469.5L295.3 473.1L296.3 476.5L297.3 479.5L298.3 482.4L299.3 485.0L300.3 487.4L301.3 489.7L302.3 491.8L303.3 493.7L304.3 495.5L305.3 497.1L306.3 498.6L307.3 500.1L308.3 501.4L309.3 502.6L310.3 503.7L311.3 504.7L312.3 505.7L313.3 506.5L314.3 507.4L315.3 508.1L316.3 508.8L317.3 509.5L318.3 510.1L319.3 510.6L320.3 511.1L321.3 511.6L322.3 512.0L323.3 512.4L324.3 512.8L325.3 513.1L326.3 513.5L327.3 513.8L328.3 514.0L329.3 514.3L330.3 514.5L331.3 514.7L332.3 514.9L333.3 515.1L334.3 515.3L335.3 515.4L336.3 515.6L337.3 515.7L338.3 515.9L339.3 516.0L340.3 516.1L341.3 516.2L342.3 516.3L343.3 516.4L343.7 516.4L344.3 500.5L345.3 501.8L346.3 502.9L347.3 504.0L348.3 505.0L349.3 506.0L350.3 506.8L351.3 507.6L352.3 508.3L353.3 509.0L354.3 509.7L355.3 510.2L356.3 510.8L357.3 511.3L358.3 511.7L359.3 512.2L360.3 512.6L361.3 512.9L362.3 513.3L363.3 513.6L364.3 513.8L365.3 514.1L366.3 514.4L366.7 514.5L367.3 512.3L368.3 512.7L369.3 513.1L370.3 513.4L371.3 513.7L372.3 514.0L373.3 514.2L374.3 514.5L375.3 514.7L376.3 514.9L377.3 515.1L378.3 515.3L379.3 515.4L380.3 515.6L381.3 515.7L382.3 515.8L383.3 515.9L384.3 516.1L385.3 516.2L386.3 516.2L387.3 516.3L388.3 516.4L389.3 516.5L390.3 516.6L391.3 516.6L392.3 516.7L393.3 516.7L394.3 516.8L395.3 516.8L396.3 516.9L397.3 516.9L398.3 516.9L399.3 517.0L400.3 517.0L401.3 517.0L402.3 517.1L403.3 517.1L404.3 517.1L405.3 517.1L406.3 517.2L407.3 517.2L408.3 517.2L409.3 517.2L410.3 517.2L411.3 517.2L412.3 517.2L413.3 517.3L414.3 517.3L415.3 517.3L416.3 517.3L417.3 517.3L417.5 517.3L418.1 498.6L419.1 500.1L420.1 501.4L421.1 502.6L422.1 503.7L423.1 504.7L424.1 505.7L425.1 506.5L426.1 507.4L427.1 508.1L428.1 508.8L429.1 509.5L430.1 510.1L431.1 510.6L432.1 511.1L433.1 511.6L434.1 512.0L435.1 512.4L436.1 512.8L437.1 513.1L438.1 513.5L439.1 513.8L440.1 514.0L441.1 514.3L442.1 514.5L443.1 514.7L444.1 514.9L445.1 515.1L446.1 515.3L447.1 515.4L448.1 515.6L449.1 515.7L450.1 515.9L451.1 516.0L452.1 516.1L453.1 516.2L454.1 516.3L455.1 516.4L456.1 516.4L457.1 516.5L458.1 516.6L459.1 516.6L460.0 516.7" stroke="#ff00ff"/>
<path d="M43.6 515.4L44.6 515.6L45.6 515.8L46.6 516.0L47.6 516.1L48.6 516.2L49.3 516.3L49.9 499.7L50.9 501.1L51.9 502.3L52.9 503.5L53.9 504.6L54.9 505.6L55.9 506.5L56.9 507.4L57.9 508.2L58.9 508.9L59.9 509.6L60.9 510.2L61.9 510.8L62.9 511.3L63.9 511.8L64.9 512.3L65.9 512.7L66.9 513.1L67.9 513.5L68.9 513.8L69.9 514.1L70.9 514.4L71.9 514.7L72.9 514.9L73.9 515.1L74.9 515.4L75.9 515.5L76.9 515.7L77.9 515.9L78.9 516.0L79.9 516.2L80.9 516.3L81.0 516.3L81.6 509.1L82.6 509.8L83.6 510.4L84.6 510.9L85.6 511.5L86.6 512.0L87.6 512.4L88.6 512.8L89.6 513.2L90.6 513.6L91.6 513.9L92.6 514.2L93.6 514.5L94.6 514.7L95.6 515.0L96.6 515.2L97.6 515.4L98.6 515.6L99.6 515.8L100.6 515.9L101.6 516.1L102.6 516.2L103.6 516.4L104.6 516.5L105.6 516.6L106.6 516.7L107.6 516.8L108.6 516.9L109.6 516.9L110.6 517.0L111.6 517.1L112.6 517.2L113.6 517.2L114.6 517.3L115.6 517.3L116.6 517.4L117.6 517.4L118.6 517.4L119.6 517.5L120.6 517.5L121.6 517.6L122.3 517.6L122.9 515.1L123.9 515.3L124.9 515.5L125.9 515.7L126.9 515.9L127.9 516.0L128.9 516.2L129.9 516.3L130.9 516.4L131.9 516.5L132.9 516.6L133.9 516.7L134.9 516.8L135.9 516.9L136.9 517.0L137.9 517.1L138.9 517.1L139.9 517.2L140.9 517.2L141.9 517.3L142.9 517.3L143.9 517.4L144.9 517.4L145.9 517.5L146.9 517.5L147.9 517.5L148.9 517.6L149.9 517.6L150.9 517.6L151.9 517.6L152.2 517.6L152.8 497.3L153.8 498.9L154.8 500.3L155.8 501.6L156.8 502.9L157.8 504.0L158.8 505.0L159.8 506.0L160.8 506.9L161.8 507.7L162.8 508.5L163.8 509.2L164.8 509.9L165.8 510.5L166.8 511.0L167.8 511.6L168.8 512.0L169.8 512.5L170.8 512.9L171.8 513.3L172.8 513.6L173.8 513.9L174.8 514.2L175.8 514.5L176.8 514.8L177.8 515.0L178.8 515.2L179.8 515.4L180.8 515.6L181.8 515.8L182.8 516.0L183.8 516.1L184.8 516.2L185.8 516.4L186.8 516.5L187.8 516.6L188.8 516.7L189.8 516.8L190.8 516.9L191.8 517.0L192.8 517.0L193.8 517.1L194.8 517.2L195.8 517.2L196.8 517.3L197.8 517.3L198.8 517.4L199.4 517.4L200.0 511.0L201.0 511.6L202.0 512.0L203.0 512.5L204.0 512.9L205.0 513.3L206.0 513.6L207.0 513.9L208.0 514.2L209.0 514.5L210.0 514.8L211.0 515.0L212.0 515.2L213.0 515.4L214.0 515.6L215.0 515.8L216.0 516.0L217.0 516.1L218.0 516.2L219.0 516.4L220.0 516.5L221.0 516.6L222.0 516.7L223.0 516.8L224.0 516.9L225.0 517.0L226.0 517.0L227.0 517.1L228.0 517.2L229.0 517.2L230.0 517.3L231.0 517.3L232.0 517.4L233.0 517.4L234.0 517.5L235.0 517.5L236.0 517.5L236.9 517.6L237.5 494.7L238.5 496.4L239.5 498.0L240.5 499.5L241.5 500.9L242.5 502.2L243.5 503.4L244.5 504.5L245.5 505.5L246.5 506.4L247.5 507.3L248.5 508.1L249.5 508.8L250.5 509.5L251.5 510.1L252.5 510.7L253.5 511.3L254.5 511.8L255.5 512.2L256.5 512.7L257.5 513.1L258.5 513.4L259.5 513.8L260.5 514.1L261.5 514.4L262.5 514.6L263.5 514.9L264.5 515.1L265.5 515.3L266.5 515.5L267.5 515.7L268.5 515.9L269.5 516.0L270.5 516.2L271.5 516.3L272.5 516.4L273.5 516.5L274.5 516.6L275.5 516.7L276.5 516.8L277.5 516.9L278.5 517.0L279.5 517.1L280.5 517.1L281.5 517.2L282.5 517.2L283.5 517.3L284.5 517.3L285.5 517.4L286.5 517.4L287.5 517.5L288.5 517.5L289.5 517.5L290.5 517.6L291.5 517.6L292.1 517.6L292.7 508.9L293.7 509.6L294.7 510.2L295.7 510.8L296.7 511.4L297.7 511.8L298.7 512.3L299.7 512.7L300.7 513.1L301.7 513.5L302.7 513.8L303.7 514.1L304.7 514.4L305.7 514.7L306.7 514.9L307.7 515.1L308.7 515.4L309.7 515.6L310.7 515.7L311.7 515.9L312.7 516.1L313.7 516.2L314.7 516.3L315.7 516.4L316.7 516.6L317.7 516.7L318.7 516.8L319.7 516.8L320.7 516.9L321.7 517.0L322.7 517.1L323.7 517.1L324.7 517.2L325.7 517.3L326.7 517.3L327.7 517.4L328.7 517.4L329.7 517.4L330.7 517.5L331.7 517.5L332.7 517.5L333.7 517.6L334.7 517.6L335.7 517.6L336.7 517.6L337.7 517.7L338.7 517.7L339.7 517.7L340.7 517.7L341.7 517.7L342.7 517.8L343.7 517.8L344.7 517.8L345.7 517.8L346.7 517.8L347.7 517.8L348.7 517.8L349.7 517.8L350.7 517.8L351.7 517.8L352.7 517.9L353.7 517.9L354.7 517.9L355.7 517.9L356.7 517.9L357.7 517.9L358.7 517.9L359.7 517.9L360.7 517.9L361.7 517.9L362.7 517.9L363.7 517.9L364.7 517.9L365.7 517.9L366.7 517.9L367.7 517.9L368.7 517.9L369.7 517.9L370.7 517.9L371.7 517.9L372.7 517.9L373.7 517.9L374.7 517.9L375.7 517.9L376.7 517.9L377.7 517.9L378.7 517.9L379.7 517.9L380.7 517.9L381.7 517.9L382.7 517.9L383.7 517.9L384.7 517.9L385.7 517.9L386.7 517.9L387.7 517.9L388.7 517.9L389.7 517.9L390.7 517.9L391.7 517.9L392.7 517.9L393.7 517.9L394.7 517.9L395.7 517.9L396.2 517.9L396.8 484.4L397.8 486.9L398.8 489.2L399.8 491.4L400.8 493.4L401.8 495.2L402.8 496.9L403.8 498.5L404.8 500.0L405.8 501.3L406.8 502.6L407.8 503.7L408.8 504.8L409.8 505.8L410.8 506.7L411.8 507.5L412.8 508.3L413.8 509.1L414.8 509.7L415.8 510.3L416.8 510.9L417.8 511.4L418.8 511.9L419.8 512.4L420.8 512.8L421.8 513.2L422.8 513.5L423.8 513.9L424.8 514.2L425.8 514.5L426.8 514.7L427.8 515.0L428.8 515.2L429.8 515.4L430.8 515.6L431.8 515.8L432.8 515.9L433.8 516.1L434.8 516.2L435.8 516.3L436.8 516.5L437.8 516.6L438.8 516.7L439.8 516.8L440.8 516.9L441.3 516.9L441.9 508.7L442.9 509.4L443.9 510.0L444.9 510.6L445.9 511.2L446.9 511.7L447.9 512.2L448.9 512.6L449.9 513.0L450.9 513.4L451.9 513.7L452.9 514.0L453.9 514.3L454.9 514.6L455.9 514.8L456.9 515.1L457.9 515.3L458.9 515.5L459.9 515.7L460.0 515.7" stroke="#000000"/>
<path d="M43.6 517.8L44.6 517.9L45.6 517.9L46.6 518.0L47.6 518.0L48.6 518.1L49.6 518.1L50.6 518.2L51.6 518.2L52.6 518.2L53.6 518.3L54.6 518.3L55.6 518.3L55.8 518.3L56.4 512.7L57.4 513.2L58.4 513.6L59.4 514.0L60.4 514.3L61.4 514.6L62.4 514.9L63.4 515.2L64.4 515.5L65.4 515.7L66.4 515.9L67.4 516.1L68.4 516.3L69.4 516.5L70.4 516.6L71.4 516.8L72.4 516.9L73.4 517.1L74.4 517.2L75.4 517.3L76.4 517.4L77.4 517.5L78.4 517.6L79.4 517.6L80.4 517.7L81.4 517.8L82.4 517.8L83.4 517.9L84.4 518.0L85.4 518.0L86.4 518.1L87.4 518.1L88.4 518.1L89.4 518.2L90.4 518.2L91.4 518.2L92.4 518.3L93.4 518.3L94.4 518.3L95.4 518.3L96.4 518.4L97.4 518.4L97.7 518.4L98.3 510.8L99.3 511.4L100.3 512.0L101.3 512.5L102.3 512.9L103.3 513.4L104.3 513.8L105.3 514.1L106.3 514.5L107.3 514.8L108.3 515.1L109.3 515.3L110.3 515.6L111.3 515.8L112.3 516.0L113.3 516.2L114.3 516.4L115.3 516.6L116.3 516.7L117.3 516.9L118.3 517.0L119.3 517.1L120.3 517.2L121.3 517.3L122.3 517.4L123.3 517.5L124.3 517.6L125.3 517.7L126.3 517.7L127.3 517.8L128.3 517.9L129.3 517.9L130.3 518.0L131.3 518.0L132.3 518.1L133.3 518.1L134.3 518.1L135.3 518.2L136.3 518.2L137.3 518.2L138.3 518.3L138.8 518.3L139.4 516.2L140.4 516.4L141.4 516.5L142.4 516.7L143.4 516.8L144.2 516.9L144.8 511.3L145.8 511.8L146.8 512.4L147.8 512.8L148.8 513.3L149.8 513.7L150.8 514.0L151.8 514.4L152.8 514.7L153.8 515.0L154.8 515.3L155.8 515.5L156.8 515.7L157.8 516.0L158.8 516.2L159.8 516.3L160.8 516.5L161.8 516.7L162.8 516.8L163.8 517.0L164.8 517.1L165.8 517.2L166.8 517.3L167.8 517.4L168.0 517.4L168.6 469.9L169.6 473.5L170.6 476.9L171.6 480.1L172.6 483.0L173.6 485.6L174.6 488.1L175.6 490.4L176.6 492.5L177.6 494.5L178.6 496.3L179.6 498.0L180.6 499.5L181.6 501.0L182.6 502.3L183.6 503.5L184.6 504.7L185.6 505.7L186.6 506.7L187.6 507.6L188.6 508.4L189.6 509.2L190.6 509.9L191.6 510.5L192.6 511.1L193.6 511.7L194.6 512.2L195.6 512.7L196.6 513.1L197.6 513.6L198.6 513.9L199.6 514.3L200.6 514.6L201.6 514.9L202.6 515.2L203.6 515.5L204.6 515.7L205.6 515.9L206.6 516.1L207.6 516.3L208.6 516.5L209.6 516.6L210.6 516.8L211.6 516.9L212.6 517.0L213.6 517.2L214.6 517.3L215.6 517.4L216.6 517.5L217.6 517.6L218.6 517.6L219.6 517.7L220.6 517.8L221.6 517.8L222.6 517.9L223.6 518.0L224.6 518.0L225.6 518.0L226.6 518.1L227.6 518.1L228.6 518.2L229.6 518.2L230.6 518.2L231.6 518.3L232.6 518.3L233.6 518.3L234.6 518.3L235.6 518.4L236.6 518.4L237.6 518.4L238.6 518.4L239.6 518.4L240.6 518.4L241.6 518.5L242.6 518.5L243.6 518.5L244.6 518.5L245.6 518.5L246.6 518.5L247.6 518.5L248.6 518.5L249.6 518.5L250.6 518.5L251.6 518.5L252.6 518.5L253.6 518.6L254.6 518.6L255.6 518.6L256.6 518.6L257.6 518.6L258.6 518.6L259.6 518.6L260.6 518.6L261.6 518.6L262.6 518.6L263.6 518.6L264.6 518.6L265.6 518.6L266.2 518.6L266.8 482.8L267.8 485.5L268.8 488.0L269.8 490.3L270.8 492.4L271.8 494.4L272.8 496.2L273.8 497.9L274.8 499.5L275.8 500.9L276.8 502.2L277.8 503.5L278.8 504.6L279.8 505.6L280.8 506.6L281.8 507.5L282.8 508.4L283.8 509.1L284.8 509.8L285.8 510.5L286.8 511.1L287.8 511.7L288.8 512.2L289.8 512.7L290.8 513.1L291.8 513.5L292.8 513.9L293.8 514.3L294.8 514.6L295.8 514.9L296.8 515.2L297.8 515.4L298.8 515.7L299.8 515.9L300.8 516.1L301.8 516.3L302.8 516.5L303.8 516.6L304.8 516.8L305.8 516.9L306.8 517.0L307.8 517.2L308.8 517.3L309.8 517.4L310.8 517.5L311.8 517.6L312.8 517.6L313.8 517.7L314.8 517.8L315.8 517.8L316.8 517.9L317.8 517.9L318.8 518.0L319.8 518.0L320.8 518.1L321.3 518.1L321.9 508.4L322.9 509.2L323.9 509.9L324.9 510.5L325.9 511.1L326.9 511.7L327.9 512.2L328.9 512.7L329.9 513.2L330.9 513.6L331.9 513.9L332.9 514.3L333.9 514.6L334.9 514.9L335.9 515.2L336.9 515.5L337.9 515.7L338.9 515.9L339.9 516.1L340.9 516.3L341.9 516.5L342.9 516.6L343.9 516.8L344.9 516.9L345.9 517.1L346.9 517.2L347.9 517.3L348.9 517.4L349.9 517.5L350.9 517.6L351.9 517.6L352.9 517.7L353.9 517.8L354.9 517.8L355.9 517.9L356.9 518.0L357.9 518.0L358.9 518.0L359.9 518.1L360.9 518.1L361.9 518.2L362.9 518.2L363.9 518.2L364.9 518.3L365.9 518.3L366.9 518.3L367.9 518.3L368.9 518.4L369.9 518.4L370.9 518.4L371.9 518.4L372.9 518.4L373.9 518.4L374.9 518.5L375.9 518.5L376.9 518.5L377.9 518.5L378.9 518.5L379.9 518.5L380.4 518.5L381.0 458.8L382.0 463.3L383.0 467.5L384.0 471.3L385.0 474.9L386.0 478.1L387.0 481.2L388.0 484.0L389.0 486.6L390.0 489.0L391.0 491.2L392.0 493.3L393.0 495.2L394.0 497.0L395.0 498.6L396.0 500.1L397.0 501.5L398.0 502.8L399.0 504.0L400.0 505.1L401.0 506.1L402.0 507.0L403.0 507.9L404.0 508.7L405.0 509.4L406.0 510.1L407.0 510.8L408.0 511.4L409.0 511.9L410.0 512.4L411.0 512.9L412.0 513.3L413.0 513.7L414.0 514.1L415.0 514.4L416.0 514.7L417.0 515.0L418.0 515.3L419.0 515.5L420.0 515.8L421.0 516.0L421.7 516.1L422.3 511.0L423.3 511.6L424.3 512.1L425.3 512.6L426.3 513.1L427.3 513.5L428.3 513.9L429.3 514.2L430.3 514.6L431.3 514.9L432.3 515.1L433.3 515.4L434.3 515.7L435.3 515.9L436.3 516.1L437.3 516.3L438.3 516.4L439.3 516.6L440.3 516.8L441.3 516.9L442.3 517.0L443.3 517.1L443.8 517.2L444.4 509.6L445.4 510.3L446.4 510.9L447.4 511.5L448.4 512.0L449.4 512.5L450.4 513.0L451.4 513.4L452.4 513.8L453.4 514.2L454.4 514.5L455.4 514.8L456.4 515.1L457.4 515.4L458.4 515.6L459.4 515.8L460.0 516.0" stroke="#ff0000"/>
<path d="M43.6 514.0L44.6 514.4L45.6 514.7L46.6 515.0L47.6 515.3L48.6 515.5L49.6 515.8L50.6 516.0L51.6 516.2L52.6 516.4L53.6 516.5L54.6 516.7L55.6 516.8L56.6 517.0L57.6 517.1L58.6 517.2L59.6 517.3L60.6 517.4L61.6 517.5L62.6 517.6L63.6 517.7L64.6 517.7L65.6 517.8L66.6 517.9L67.6 517.9L68.6 518.0L69.6 518.0L70.6 518.1L71.6 518.1L72.6 518.2L73.6 518.2L74.6 518.2L75.6 518.3L76.6 518.3L77.6 518.3L78.6 518.3L79.6 518.4L80.6 518.4L81.6 518.4L82.6 518.4L83.6 518.4L84.0 518.4L84.6 508.4L85.6 509.2L86.6 509.9L87.6 510.5L88.6 511.2L89.6 511.7L90.6 512.2L91.6 512.7L92.2 513.0L92.8 510.9L93.8 511.5L94.8 512.0L95.8 512.5L96.8 513.0L97.8 513.4L98.8 513.8L99.8 514.1L100.8 514.5L101.8 514.8L102.8 515.1L103.8 515.3L104.8 515.6L105.8 515.8L106.8 516.0L107.8 516.2L108.8 516.4L109.8 516.6L110.8 516.7L111.8 516.9L112.8 517.0L113.8 517.1L114.8 517.2L115.8 517.3L116.8 517.4L117.8 517.5L118.8 517.6L119.0 517.6L119.6 460.9L120.6 465.2L121.6 469.3L122.6 473.0L123.6 476.4L124.6 479.6L125.6 482.5L126.6 485.2L127.6 487.7L128.6 490.1L129.6 492.2L130.6 494.2L131.6 496.0L132.6 497.7L133.6 499.3L134.6 500.7L135.6 502.1L136.6 503.3L137.6 504.5L138.6 505.5L139.6 506.5L140.6 507.4L141.6 508.3L142.6 509.1L143.6 509.8L144.6 510.4L145.6 511.1L146.6 511.6L147.6 512.2L148.6 512.6L149.6 513.1L150.6 513.5L151.6 513.9L152.6 514.2L153.6 514.6L154.6 514.9L155.6 515.2L156.6 515.4L157.6 515.7L158.6 515.9L159.6 516.1L160.6 516.3L161.6 516.5L162.6 516.6L163.6 516.8L164.6 516.9L165.6 517.0L166.6 517.2L167.6 517.3L168.6 517.4L169.6 517.5L170.6 517.6L171.6 517.6L172.6 517.7L173.6 517.8L174.6 517.8L175.6 517.9L176.6 518.0L176.9 518.0L177.5 463.0L178.5 467.2L179.5 471.1L180.5 474.6L181.5 477.9L182.5 481.0L183.5 483.8L184.5 486.4L185.5 488.9L186.5 491.1L187.5 493.2L188.5 495.1L189.5 496.9L190.5 498.5L191.5 500.0L192.5 501.4L193.5 502.7L194.5 503.9L195.5 505.0L196.5 506.0L197.5 507.0L198.5 507.8L199.5 508.7L200.5 509.4L201.5 510.1L202.5 510.7L203.5 511.3L204.5 511.9L205.5 512.4L206.5 512.9L207.5 513.3L208.5 513.7L209.5 514.1L210.5 514.4L211.5 514.7L212.5 515.0L213.5 515.3L214.5 515.5L215.5 515.8L216.5 516.0L217.5 516.2L218.5 516.4L219.5 516.5L220.5 516.7L221.5 516.8L222.5 517.0L223.5 517.1L224.5 517.2L225.5 517.3L226.5 517.4L227.5 517.5L228.5 517.6L229.5 517.7L230.5 517.7L231.5 517.8L232.5 517.9L233.5 517.9L234.5 518.0L235.5 518.0L236.5 518.1L237.5 518.1L238.5 518.2L239.5 518.2L240.5 518.2L241.5 518.3L242.5 518.3L243.5 518.3L244.5 518.3L245.5 518.4L246.5 518.4L247.5 518.4L248.5 518.4L249.5 518.4L250.5 518.4L251.1 518.5L251.7 458.3L260.4 458.3L261.2 459.3L261.9 461.4L262.9 465.7L263.9 469.7L264.9 473.4L265.9 476.8L266.9 479.9L267.9 482.8L268.9 485.5L269.9 488.0L270.9 490.3L271.9 492.4L272.9 494.4L273.9 496.2L274.9 497.9L275.9 499.5L276.9 500.9L277.9 502.2L278.9 503.5L279.9 504.6L280.9 505.7L281.9 506.6L282.9 507.5L283.9 508.4L284.9 509.1L285.9 509.9L286.9 510.5L287.9 511.1L288.9 511.7L289.9 512.2L290.9 512.7L291.9 513.1L292.9 513.6L293.9 513.9L294.9 514.3L295.9 514.6L296.9 514.9L297.9 515.2L298.9 515.5L299.9 515.7L300.9 515.9L301.9 516.1L302.9 516.3L303.9 516.5L304.9 516.6L305.9 516.8L306.9 516.9L307.9 517.1L308.9 517.2L309.9 517.3L310.9 517.4L311.9 517.5L312.9 517.6L313.9 517.6L314.9 517.7L315.9 517.8L316.9 517.9L317.9 517.9L318.9 518.0L319.9 518.0L320.9 518.1L321.9 518.1L322.9 518.1L323.9 518.2L324.9 518.2L325.9 518.2L326.9 518.3L327.9 518.3L328.9 518.3L329.9 518.3L330.9 518.4L331.9 518.4L332.9 518.4L333.9 518.4L334.9 518.4L335.9 518.5L336.9 518.5L337.9 518.5L338.9 518.5L339.9 518.5L340.9 518.5L341.9 518.5L342.9 518.5L343.9 518.5L344.9 518.5L345.9 518.5L346.9 518.6L347.9 518.6L348.9 518.6L349.9 518.6L350.9 518.6L351.9 518.6L352.9 518.6L353.8 518.6L354.4 462.2L355.4 466.5L356.4 470.4L357.4 474.0L358.4 477.4L359.4 480.5L360.4 483.3L361.4 486.0L362.4 488.4L363.4 490.7L364.4 492.8L365.4 494.7L366.4 496.5L367.4 498.2L368.4 499.7L369.4 501.2L370.4 502.5L371.4 503.7L372.4 504.8L373.4 505.8L374.4 506.8L375.4 507.7L376.4 508.5L377.4 509.3L378.4 510.0L379.4 510.6L380.4 511.2L381.4 511.8L382.4 512.3L383.4 512.8L384.4 513.2L385.4 513.6L386.4 514.0L387.4 514.3L388.4 514.7L389.4 515.0L390.4 515.2L391.4 515.5L392.4 515.7L393.4 516.0L394.4 516.2L395.4 516.3L396.4 516.5L397.4 516.7L398.4 516.8L399.4 517.0L400.4 517.1L401.4 517.2L402.4 517.3L403.4 517.4L404.4 517.5L405.4 517.6L406.4 517.7L407.4 517.7L408.4 517.8L409.4 517.9L410.4 517.9L411.4 518.0L412.4 518.0L413.4 518.1L414.4 518.1L415.4 518.2L416.4 518.2L417.4 518.2L418.4 518.3L419.4 518.3L420.4 518.3L421.4 518.3L422.4 518.4L423.4 518.4L424.4 518.4L425.0 515.5L426.0 515.7L427.0 515.9L428.0 516.1L429.0 516.3L430.0 516.5L431.0 516.7L432.0 516.8L433.0 516.9L434.0 517.1L435.0 517.2L436.0 517.3L436.9 517.4L437.5 511.0L438.5 511.6L439.5 512.1L440.5 512.6L441.5 513.1L442.5 513.5L443.5 513.9L444.5 514.2L445.5 514.6L446.5 514.9L447.5 515.2L448.5 515.4L449.5 515.7L450.5 515.9L451.5 516.1L452.5 516.3L453.5 516.5L454.5 516.6L455.5 516.8L456.5 516.9L457.5 517.0L458.5 517.2L459.5 517.3L460.0 517.3" stroke="#00ff00"/>
<path d="M43.6 515.1L44.6 515.4L45.6 515.7L46.6 515.9L47.6 516.2L48.6 516.4L49.6 516.6L50.6 516.7L51.6 516.9L52.6 517.1L53.6 517.2L54.6 517.4L55.6 517.5L56.6 517.6L57.6 517.7L58.6 517.8L59.6 517.9L60.6 518.0L61.6 518.1L62.6 518.1L63.6 518.2L64.6 518.3L65.6 518.3L66.6 518.4L67.6 518.4L68.6 518.5L69.6 518.5L70.6 518.5L71.6 518.6L72.6 518.6L73.6 518.6L74.6 518.7L75.6 518.7L76.6 518.7L77.6 518.7L78.6 518.8L79.6 518.8L80.6 518.8L81.6 518.8L82.6 518.8L83.6 518.8L84.6 518.9L85.6 518.9L86.6 518.9L87.6 518.9L88.6 518.9L89.6 518.9L89.7 518.9L90.3 460.9L91.3 465.3L92.3 469.3L93.3 473.0L94.3 476.5L95.3 479.7L96.3 482.7L97.3 485.4L98.3 487.9L99.3 490.2L100.3 492.4L101.3 494.4L102.3 496.3L103.3 498.0L104.3 499.6L105.3 501.0L106.3 502.4L107.3 503.6L108.3 504.8L109.3 505.8L110.3 506.8L111.3 507.7L112.3 508.6L113.3 509.4L114.3 510.1L115.3 510.8L116.3 511.4L117.3 512.0L118.3 512.5L119.3 513.0L120.3 513.4L121.3 513.9L122.3 514.2L123.3 514.6L124.3 514.9L125.0 515.1L125.6 507.6L126.6 508.5L127.6 509.3L128.6 510.0L129.6 510.7L130.6 511.3L131.6 511.9L131.9 512.1L132.5 509.9L133.5 510.6L134.5 511.3L135.5 511.8L136.5 512.4L137.5 512.9L138.3 513.3L138.9 461.7L139.9 466.0L140.9 470.0L141.9 473.7L142.9 477.1L143.9 480.2L144.9 483.1L145.9 485.8L146.9 488.3L147.9 490.6L148.9 492.8L149.9 494.7L150.9 496.6L151.9 498.3L152.9 499.8L153.9 501.3L154.9 502.6L155.9 503.8L156.9 505.0L157.9 506.0L158.9 507.0L159.9 507.9L160.9 508.7L161.9 509.5L162.9 510.2L163.9 510.9L164.9 511.5L165.9 512.1L166.9 512.6L167.9 513.1L168.9 513.5L169.9 513.9L170.9 514.3L171.9 514.7L172.9 515.0L173.9 515.3L174.9 515.6L175.9 515.8L176.9 516.1L177.9 516.3L178.9 516.5L179.9 516.7L180.9 516.9L181.9 517.0L182.9 517.2L183.9 517.3L184.9 517.4L185.9 517.6L186.9 517.7L187.9 517.8L188.9 517.9L189.9 517.9L190.9 518.0L191.9 518.1L192.9 518.2L193.9 518.2L194.9 518.3L195.9 518.3L196.9 518.4L197.9 518.4L198.9 518.5L199.9 518.5L200.9 518.6L201.9 518.6L202.9 518.6L203.9 518.7L204.9 518.7L205.9 518.7L206.9 518.7L207.9 518.8L208.9 518.8L209.9 518.8L210.9 518.8L211.9 518.8L212.9 518.8L213.9 518.9L214.9 518.9L215.9 518.9L216.9 518.9L217.9 518.9L218.9 518.9L219.9 518.9L220.9 518.9L221.9 518.9L222.9 518.9L223.9 518.9L224.9 518.9L225.9 518.9L226.9 519.0L227.9 519.0L228.9 519.0L229.9 519.0L230.9 519.0L231.9 519.0L232.9 519.0L233.9 519.0L234.9 519.0L235.9 519.0L236.9 519.0L237.9 519.0L238.9 519.0L239.9 519.0L240.9 519.0L241.9 519.0L242.9 519.0L243.9 519.0L244.9 519.0L245.9 519.0L246.9 519.0L247.9 519.0L248.9 519.0L249.9 519.0L250.9 519.0L251.9 519.0L252.9 519.0L253.9 519.0L254.9 519.0L255.9 519.0L256.9 519.0L257.9 519.0L258.9 519.0L258.9 519.0L259.5 510.9L260.5 511.5L261.5 512.1L262.5 512.6L263.5 513.1L264.5 513.5L265.5 513.9L266.5 514.3L267.5 514.7L268.5 515.0L269.5 515.3L270.5 515.6L271.5 515.8L272.5 516.1L273.5 516.3L274.5 516.5L275.5 516.7L276.5 516.9L277.5 517.0L278.5 517.2L279.5 517.3L280.5 517.4L281.5 517.6L282.5 517.7L283.5 517.8L284.5 517.9L285.5 517.9L286.5 518.0L287.5 518.1L288.5 518.2L289.5 518.2L290.5 518.3L291.5 518.3L292.5 518.4L293.5 518.4L294.5 518.5L295.5 518.5L296.5 518.6L297.5 518.6L298.5 518.6L299.5 518.7L300.5 518.7L301.5 518.7L302.5 518.7L303.5 518.8L304.5 518.8L305.5 518.8L306.5 518.8L307.5 518.8L308.5 518.8L309.5 518.9L310.5 518.9L311.5 518.9L312.5 518.9L313.5 518.9L314.5 518.9L315.5 518.9L316.5 518.9L317.5 518.9L318.5 518.9L319.5 518.9L320.5 518.9L321.5 518.9L322.5 519.0L323.5 519.0L324.5 519.0L325.5 519.0L326.5 519.0L327.5 519.0L328.5 519.0L329.2 519.0L329.8 489.1L330.8 491.4L331.8 493.5L332.8 495.4L333.8 497.2L334.8 498.8L335.8 500.3L336.8 501.7L337.8 503.0L338.8 504.2L339.8 505.3L340.8 506.4L341.8 507.3L342.8 508.2L343.8 509.0L344.8 509.8L345.8 510.5L346.8 511.1L347.8 511.7L348.8 512.2L349.8 512.8L350.8 513.2L351.8 513.7L352.8 514.1L353.8 514.4L354.8 514.8L355.8 515.1L356.8 515.4L357.8 515.7L358.8 515.9L359.8 516.1L360.8 516.4L361.8 516.6L362.8 516.7L363.8 516.9L364.8 517.1L365.8 517.2L366.8 517.4L367.8 517.5L368.8 517.6L369.8 517.7L370.8 517.8L371.8 517.9L372.8 518.0L373.8 518.1L374.8 518.1L375.8 518.2L376.8 518.3L377.8 518.3L378.8 518.4L379.8 518.4L380.8 518.5L381.8 518.5L382.8 518.5L383.8 518.6L384.8 518.6L385.8 518.6L386.8 518.7L387.8 518.7L388.8 518.7L389.8 518.7L390.8 518.8L391.8 518.8L392.8 518.8L393.8 518.8L394.8 518.8L395.8 518.8L396.8 518.9L397.8 518.9L398.8 518.9L399.8 518.9L400.8 518.9L401.8 518.9L402.8 518.9L403.8 518.9L404.8 518.9L405.8 518.9L406.8 518.9L407.8 518.9L408.8 519.0L409.8 519.0L410.8 519.0L411.8 519.0L412.8 519.0L413.8 519.0L414.8 519.0L415.8 519.0L416.8 519.0L417.8 519.0L418.8 519.0L419.8 519.0L420.8 519.0L421.8 519.0L422.8 519.0L423.8 519.0L424.8 519.0L425.8 519.0L426.8 519.0L427.8 519.0L428.8 519.0L429.8 519.0L430.8 519.0L431.8 519.0L432.8 519.0L433.1 519.0L433.7 475.9L434.7 479.2L435.7 482.2L436.7 484.9L437.7 487.5L438.7 489.9L439.7 492.1L440.7 494.1L441.7 496.0L442.7 497.7L443.7 499.3L444.7 500.8L445.7 502.1L446.7 503.4L447.7 504.6L448.7 505.7L449.7 506.7L450.7 507.6L451.7 508.5L452.7 509.3L453.7 510.0L454.7 510.7L455.7 511.3L456.7 511.9L457.7 512.4L458.7 512.9L459.7 513.4L460.0 513.5" stroke="#0000ff"/>
<path d="M43.6 518.2L44.6 518.2L45.6 518.2L46.6 518.2L47.6 518.3L48.6 518.3L49.6 518.3L50.6 518.3L51.6 518.3L52.6 518.3L53.6 518.4L54.6 518.4L55.6 518.4L56.6 518.4L57.6 518.4L58.6 518.4L59.6 518.4L60.6 518.4L61.6 518.4L62.6 518.4L63.6 518.4L64.6 518.4L65.0 518.4L65.6 500.8L66.6 502.1L67.6 503.3L68.6 504.5L69.6 505.5L70.6 506.5L71.6 507.4L72.6 508.2L73.6 509.0L74.6 509.7L75.6 510.4L76.6 511.0L77.6 511.6L78.6 512.1L79.6 512.6L80.6 513.0L81.6 513.4L82.6 513.8L83.6 514.2L84.6 514.5L85.6 514.8L86.6 515.1L87.6 515.3L88.6 515.6L89.6 515.8L90.6 516.0L91.6 516.2L92.6 516.4L93.6 516.5L94.6 516.7L95.6 516.8L96.6 516.9L97.6 517.0L98.6 517.2L99.6 517.3L100.6 517.4L101.6 517.4L102.6 517.5L103.6 517.6L104.6 517.7L105.6 517.7L106.6 517.8L107.6 517.8L108.6 517.9L109.6 517.9L110.6 518.0L111.6 518.0L112.6 518.1L113.6 518.1L114.6 518.1L115.6 518.1L116.2 518.2L116.8 510.0L117.8 510.7L118.8 511.3L119.8 511.8L120.8 512.3L121.8 512.8L122.8 513.2L123.8 513.6L124.8 514.0L125.8 514.3L126.8 514.6L127.8 514.9L128.8 515.2L129.8 515.4L130.8 515.7L131.8 515.9L132.8 516.1L133.8 516.3L134.8 516.4L135.8 516.6L136.8 516.7L137.8 516.9L138.8 517.0L139.8 517.1L140.8 517.2L141.8 517.3L142.8 517.4L143.8 517.5L144.8 517.6L145.8 517.6L146.8 517.7L147.8 517.8L148.8 517.8L149.8 517.9L150.8 517.9L151.8 518.0L152.8 518.0L153.8 518.0L154.8 518.1L155.8 518.1L156.8 518.1L157.8 518.2L158.8 518.2L159.8 518.2L160.8 518.2L161.8 518.3L162.8 518.3L163.8 518.3L164.8 518.3L165.8 518.3L166.8 518.3L167.8 518.3L168.8 518.4L169.8 518.4L170.8 518.4L171.8 518.4L172.8 518.4L173.8 518.4L174.8 518.4L175.8 518.4L176.8 518.4L177.8 518.4L178.8 518.4L179.8 518.4L180.8 518.4L181.8 518.5L182.8 518.5L183.8 518.5L184.8 518.5L185.8 518.5L186.8 518.5L187.8 518.5L188.8 518.5L189.8 518.5L190.8 518.5L191.8 518.5L192.8 518.5L193.8 518.5L194.8 518.5L195.8 518.5L196.8 518.5L197.8 518.5L198.8 518.5L199.8 518.5L200.8 518.5L201.7 518.5L202.3 458.3L211.4 458.3L212.2 459.3L212.9 461.4L213.9 465.7L214.9 469.7L215.9 473.4L216.9 476.8L217.9 479.9L218.9 482.8L219.9 485.5L220.9 488.0L221.9 490.3L222.9 492.4L223.9 494.3L224.9 496.2L225.9 497.8L226.9 499.4L227.9 500.8L228.9 502.2L229.9 503.4L230.9 504.5L231.9 505.6L232.9 506.5L233.9 507.4L234.9 508.3L235.9 509.0L236.9 509.8L237.9 510.4L238.9 511.0L239.9 511.6L240.9 512.1L241.9 512.6L242.9 513.0L243.9 513.4L244.9 513.8L245.9 514.2L246.9 514.5L247.9 514.8L248.9 515.1L249.9 515.3L250.9 515.6L251.9 515.8L252.9 516.0L253.9 516.2L254.9 516.4L255.9 516.5L256.9 516.7L257.9 516.8L258.9 516.9L259.9 517.1L260.9 517.2L261.9 517.3L262.9 517.4L263.9 517.4L264.9 517.5L265.9 517.6L266.9 517.7L267.9 517.7L268.1 517.7L268.7 496.0L269.7 497.7L270.7 499.3L271.7 500.7L272.7 502.0L273.7 503.3L274.7 504.4L275.7 505.5L276.7 506.5L277.7 507.4L278.7 508.2L279.7 509.0L280.7 509.7L281.7 510.4L282.7 511.0L283.7 511.5L284.7 512.1L285.7 512.5L286.1 512.7L286.7 510.6L287.7 511.2L288.7 511.8L289.7 512.3L290.7 512.7L291.7 513.2L292.7 513.6L293.7 513.9L294.7 514.3L295.7 514.6L296.7 514.9L297.7 515.2L298.7 515.4L299.7 515.6L300.7 515.9L301.7 516.1L302.7 516.2L303.7 516.4L304.7 516.6L305.7 516.7L306.7 516.9L307.7 517.0L308.7 517.1L309.7 517.2L310.7 517.3L311.7 517.4L312.7 517.5L313.7 517.5L314.7 517.6L315.7 517.7L316.7 517.7L317.7 517.8L318.5 517.8L319.1 493.1L320.1 495.0L321.1 496.8L322.1 498.4L323.1 499.9L324.1 501.3L325.1 502.6L326.1 503.8L327.1 504.9L328.1 505.9L329.1 506.9L330.1 507.7L331.1 508.6L332.1 509.3L333.1 510.0L334.1 510.6L335.1 511.2L336.1 511.8L337.1 512.3L338.1 512.7L339.1 513.2L340.1 513.6L341.1 514.0L342.1 514.3L343.1 514.6L344.1 514.9L345.1 515.2L346.1 515.4L347.1 515.7L348.1 515.9L349.1 516.1L350.1 516.3L351.1 516.4L352.1 516.6L353.1 516.7L354.1 516.9L355.1 517.0L356.1 517.1L357.1 517.2L358.1 517.3L359.1 517.4L360.1 517.5L361.1 517.6L362.1 517.6L363.1 517.7L364.1 517.7L364.3 517.8L364.9 514.2L365.9 514.5L366.9 514.8L367.9 515.1L368.9 515.3L369.9 515.6L370.9 515.8L371.9 516.0L372.9 516.2L373.9 516.4L374.9 516.5L375.9 516.7L376.9 516.8L377.9 516.9L378.9 517.1L379.9 517.2L380.9 517.3L381.9 517.4L382.9 517.4L383.9 517.5L384.7 517.6L385.3 497.9L386.3 499.4L387.3 500.8L388.3 502.2L389.3 503.4L390.3 504.5L391.3 505.6L392.3 506.6L393.3 507.4L394.3 508.3L395.3 509.0L396.3 509.8L397.3 510.4L398.3 511.0L399.3 511.6L400.3 512.1L401.3 512.6L402.3 513.0L403.3 513.4L404.3 513.8L405.3 514.2L406.3 514.5L407.3 514.8L408.3 515.1L409.3 515.3L410.3 515.6L410.6 515.7L411.2 511.0L412.2 511.6L413.2 512.1L414.2 512.6L415.2 513.0L416.2 513.5L417.2 513.8L418.2 514.2L419.2 514.5L420.2 514.8L421.2 515.1L422.2 515.3L423.2 515.6L424.2 515.8L425.2 516.0L426.2 516.2L427.2 516.4L428.2 516.5L429.2 516.7L430.2 516.8L431.2 516.9L432.2 517.1L433.2 517.2L434.2 517.3L435.2 517.4L436.2 517.4L437.2 517.5L438.2 517.6L439.2 517.7L440.2 517.7L441.2 517.8L442.2 517.8L443.2 517.9L444.2 517.9L445.2 518.0L446.2 518.0L447.2 518.1L448.2 518.1L449.2 518.1L450.2 518.2L451.2 518.2L452.2 518.2L453.2 518.2L454.2 518.2L455.2 518.3L456.2 518.3L457.2 518.3L458.2 518.3L459.2 518.3L460.0 518.3" stroke="#00ffff"/>
<path d="M43.6 515.1L44.6 515.3L45.6 515.5L46.6 515.7L47.6 515.9L48.6 516.1L49.6 516.3L50.6 516.4L50.7 516.4L51.3 514.3L52.3 514.6L53.3 514.9L54.3 515.1L55.3 515.4L56.3 515.6L57.3 515.8L58.3 516.0L59.3 516.1L60.3 516.3L61.3 516.4L62.3 516.6L63.3 516.7L64.3 516.8L65.3 516.9L66.3 517.0L67.3 517.1L68.3 517.2L69.3 517.3L70.3 517.3L71.3 517.4L72.3 517.5L73.3 517.5L74.3 517.6L75.3 517.6L76.3 517.7L77.3 517.7L78.3 517.7L79.3 517.8L80.3 517.8L81.3 517.8L82.3 517.9L83.3 517.9L84.3 517.9L85.3 517.9L86.3 518.0L87.3 518.0L88.3 518.0L89.3 518.0L90.3 518.0L91.3 518.0L92.3 518.0L93.3 518.1L93.7 518.1L94.3 479.4L95.3 482.3L96.3 485.0L97.3 487.5L98.3 489.8L99.3 491.9L100.3 493.9L101.3 495.7L102.3 497.4L103.3 499.0L104.3 500.4L105.3 501.8L106.3 503.0L107.3 504.1L108.3 505.2L109.3 506.2L110.3 507.1L111.3 507.9L112.3 508.7L113.3 509.4L114.3 510.1L115.3 510.7L116.3 511.2L117.3 511.8L118.3 512.3L119.3 512.7L120.3 513.1L121.3 513.5L122.3 513.9L123.3 514.2L124.3 514.5L125.3 514.8L126.3 515.0L127.3 515.3L128.3 515.5L129.3 515.7L130.3 515.9L131.3 516.1L132.3 516.2L133.3 516.4L134.3 516.5L135.3 516.6L136.3 516.7L137.3 516.9L138.3 517.0L139.3 517.1L140.3 517.1L141.3 517.2L142.3 517.3L143.3 517.4L144.3 517.4L145.3 517.5L146.3 517.5L147.3 517.6L148.3 517.6L149.3 517.7L150.3 517.7L151.3 517.8L152.3 517.8L153.3 517.8L154.3 517.8L155.3 517.9L156.3 517.9L157.3 517.9L158.3 517.9L159.3 518.0L160.3 518.0L161.3 518.0L162.3 518.0L163.3 518.0L164.3 518.0L165.3 518.1L166.3 518.1L167.3 518.1L168.3 518.1L169.3 518.1L169.6 518.1L170.2 508.3L171.2 509.0L172.2 509.7L173.2 510.4L174.2 511.0L175.2 511.5L176.2 512.0L177.2 512.5L178.2 512.9L179.2 513.3L180.2 513.7L181.2 514.0L182.2 514.3L183.2 514.6L184.2 514.9L185.2 515.1L186.2 515.4L187.2 515.6L188.2 515.8L189.2 516.0L190.2 516.1L191.2 516.3L192.2 516.4L193.2 516.6L194.2 516.7L195.2 516.8L196.2 516.9L197.2 517.0L198.2 517.1L199.2 517.2L200.2 517.3L201.2 517.3L202.2 517.4L203.2 517.5L204.2 517.5L205.2 517.6L206.2 517.6L207.2 517.7L208.2 517.7L209.2 517.7L210.2 517.8L211.2 517.8L212.2 517.8L213.2 517.9L214.2 517.9L215.2 517.9L216.2 517.9L217.2 518.0L218.2 518.0L218.4 518.0L219.0 515.9L220.0 516.0L221.0 516.2L222.0 516.4L223.0 516.5L224.0 516.6L225.0 516.7L226.0 516.9L227.0 517.0L228.0 517.0L229.0 517.1L230.0 517.2L231.0 517.3L232.0 517.4L233.0 517.4L234.0 517.5L235.0 517.5L236.0 517.6L237.0 517.6L238.0 517.7L239.0 517.7L240.0 517.8L241.0 517.8L242.0 517.8L243.0 517.8L244.0 517.9L245.0 517.9L246.0 517.9L247.0 517.9L248.0 518.0L249.0 518.0L250.0 518.0L251.0 518.0L252.0 518.0L253.0 518.0L254.0 518.1L255.0 518.1L256.0 518.1L257.0 518.1L258.0 518.1L259.0 518.1L260.0 518.1L261.0 518.1L262.0 518.1L262.3 518.1L262.9 472.5L263.9 476.0L264.9 479.1L265.9 482.1L266.9 484.8L267.9 487.3L268.9 489.6L269.9 491.8L270.9 493.8L271.9 495.6L272.9 497.3L273.9 498.9L274.9 500.3L275.9 501.7L276.9 502.9L277.9 504.1L278.9 505.1L279.9 506.1L280.9 507.0L281.9 507.9L282.9 508.6L283.9 509.4L284.9 510.0L285.9 510.6L286.9 511.2L287.9 511.7L288.9 512.2L289.9 512.7L290.9 513.1L291.9 513.5L292.9 513.8L293.9 514.2L294.9 514.5L295.9 514.7L296.9 515.0L297.9 515.2L298.9 515.5L299.9 515.7L300.9 515.9L301.9 516.0L302.9 516.2L303.9 516.4L304.9 516.5L305.9 516.6L306.9 516.7L307.9 516.8L308.9 517.0L309.9 517.0L310.9 517.1L311.9 517.2L312.9 517.3L313.4 517.3L314.0 508.4L315.0 509.1L316.0 509.8L317.0 510.5L318.0 511.0L319.0 511.6L320.0 512.1L321.0 512.5L322.0 513.0L323.0 513.4L324.0 513.7L325.0 514.1L326.0 514.4L327.0 514.7L328.0 514.9L329.0 515.2L330.0 515.4L331.0 515.6L332.0 515.8L333.0 516.0L334.0 516.2L335.0 516.3L336.0 516.5L337.0 516.6L338.0 516.7L339.0 516.8L340.0 516.9L341.0 517.0L342.0 517.1L343.0 517.2L344.0 517.3L345.0 517.3L345.1 517.3L345.7 459.6L346.7 464.0L347.7 468.1L348.7 471.8L349.7 475.3L350.7 478.5L351.7 481.5L352.7 484.3L353.7 486.8L354.7 489.2L355.7 491.4L356.7 493.4L357.7 495.3L358.7 497.0L359.7 498.6L360.7 500.0L361.7 501.4L362.7 502.7L363.7 503.8L364.7 504.9L365.7 505.9L366.7 506.8L367.7 507.7L368.7 508.5L369.7 509.2L370.7 509.9L371.7 510.5L372.7 511.1L373.7 511.6L374.7 512.1L375.7 512.6L376.7 513.0L377.7 513.4L378.7 513.8L379.7 514.1L380.7 514.4L381.7 514.7L382.7 515.0L383.7 515.2L384.7 515.4L385.7 515.6L386.7 515.8L387.7 516.0L388.7 516.2L389.7 516.3L390.7 516.5L391.7 516.6L392.7 516.7L393.7 516.8L394.7 516.9L395.7 517.0L396.7 517.1L397.7 517.2L398.7 517.3L399.7 517.3L400.7 517.4L401.7 517.5L402.7 517.5L403.7 517.6L404.7 517.6L405.7 517.7L406.7 517.7L407.7 517.7L408.7 517.8L409.7 517.8L410.7 517.8L411.7 517.9L412.7 517.9L413.7 517.9L414.7 517.9L415.7 518.0L416.7 518.0L417.7 518.0L418.7 518.0L419.7 518.0L420.7 518.0L421.7 518.1L422.7 518.1L423.7 518.1L424.3 518.1L424.9 511.0L425.9 511.6L426.9 512.1L427.9 512.5L428.9 513.0L429.9 513.4L430.9 513.7L431.9 514.1L432.9 514.4L433.9 514.7L434.9 514.9L435.9 515.2L436.9 515.4L437.9 515.6L438.9 515.8L439.9 516.0L440.9 516.2L441.9 516.3L442.9 516.5L443.9 516.6L444.9 516.7L445.9 516.8L446.9 516.9L447.9 517.0L448.9 517.1L449.9 517.2L450.9 517.3L451.9 517.3L452.9 517.4L453.9 517.5L454.9 517.5L455.9 517.6L456.9 517.6L457.9 517.7L458.9 517.7L459.9 517.7L460.0 517.7" stroke="#ff00ff"/>
<path d="M43.6 519.6L44.6 519.6L45.6 519.6L46.6 519.6L47.6 519.7L48.6 519.7L49.6 519.7L50.6 519.7L51.6 519.7L52.6 519.7L53.6 519.7L54.6 519.7L55.6 519.7L56.6 519.7L57.6 519.7L58.6 519.7L59.6 519.7L60.6 519.7L61.6 519.7L62.6 519.7L63.6 519.7L64.6 519.7L65.6 519.7L66.6 519.7L67.6 519.7L68.6 519.8L69.6 519.8L70.6 519.8L71.6 519.8L72.6 519.8L73.6 519.8L74.6 519.8L75.6 519.8L76.6 519.8L77.6 519.8L78.6 519.8L79.5 519.8L80.1 514.1L81.1 514.6L82.1 514.9L83.1 515.3L84.1 515.6L85.1 516.0L86.1 516.2L87.1 516.5L87.6 516.6L88.2 497.3L89.2 499.0L90.2 500.6L91.2 502.0L92.2 503.3L93.2 504.6L94.2 505.7L95.2 506.8L96.2 507.8L97.2 508.7L98.2 509.5L99.2 510.3L100.2 511.0L101.2 511.6L102.2 512.3L103.2 512.8L104.2 513.3L105.2 513.8L106.2 514.3L107.2 514.7L108.2 515.1L109.2 515.4L110.2 515.7L111.2 516.1L112.2 516.3L113.2 516.6L114.2 516.8L115.2 517.1L116.2 517.3L117.2 517.4L118.2 517.6L119.2 517.8L120.2 517.9L121.2 518.1L122.2 518.2L123.2 518.3L124.2 518.4L125.2 518.5L126.2 518.6L127.2 518.7L128.2 518.8L129.2 518.9L130.2 518.9L131.2 519.0L132.2 519.1L133.2 519.1L134.2 519.2L135.2 519.2L136.2 519.2L137.2 519.3L138.2 519.3L139.2 519.4L140.2 519.4L141.2 519.4L142.2 519.4L143.2 519.5L144.2 519.5L145.2 519.5L145.7 519.5L146.3 516.3L147.3 516.6L148.3 516.8L149.3 517.0L150.3 517.2L151.3 517.4L152.3 517.6L153.3 517.8L154.3 517.9L155.3 518.1L156.3 518.2L157.3 518.3L158.3 518.4L159.3 518.5L160.3 518.6L161.3 518.7L162.3 518.8L163.3 518.9L164.3 518.9L165.3 519.0L166.3 519.1L167.3 519.1L168.3 519.2L169.3 519.2L170.3 519.2L171.3 519.3L172.3 519.3L173.3 519.4L174.3 519.4L174.5 519.4L175.1 480.2L176.1 483.1L177.1 485.9L178.1 488.4L179.1 490.8L180.1 493.0L181.1 495.0L182.1 496.9L183.1 498.6L184.1 500.2L185.1 501.6L186.1 503.0L187.1 504.3L188.1 505.4L189.1 506.5L190.1 507.5L191.1 508.4L192.1 509.3L193.1 510.1L194.1 510.8L195.1 511.5L196.1 512.1L197.1 512.7L198.1 513.2L199.1 513.7L200.1 514.2L201.1 514.6L202.1 515.0L203.1 515.3L204.1 515.7L205.1 516.0L206.1 516.3L207.1 516.5L208.1 516.8L209.1 517.0L210.1 517.2L211.1 517.4L212.1 517.6L213.1 517.7L214.1 517.9L215.1 518.0L216.1 518.2L217.1 518.3L218.1 518.4L219.1 518.5L220.1 518.6L221.1 518.7L222.1 518.8L223.1 518.8L224.1 518.9L225.1 519.0L226.1 519.0L227.1 519.1L228.1 519.1L229.1 519.2L230.1 519.2L231.1 519.3L231.2 519.3L231.8 511.7L232.8 512.3L233.8 512.9L234.8 513.4L235.8 513.9L236.8 514.3L237.8 514.7L238.8 515.1L239.8 515.5L240.8 515.8L241.8 516.1L242.8 516.4L243.8 516.6L244.8 516.9L245.8 517.1L246.8 517.3L247.8 517.5L248.8 517.6L249.8 517.8L250.8 518.0L251.8 518.1L252.8 518.2L253.8 518.3L254.8 518.4L255.8 518.5L256.8 518.6L257.8 518.7L258.8 518.8L259.8 518.9L260.8 518.9L261.8 519.0L262.8 519.1L263.8 519.1L264.2 519.1L264.8 517.0L265.8 517.2L266.8 517.4L267.8 517.6L268.8 517.8L269.8 517.9L270.8 518.1L271.8 518.2L272.8 518.3L273.8 518.4L274.8 518.5L275.7 518.6L276.3 508.6L277.3 509.5L278.3 510.3L279.3 511.0L280.3 511.6L281.3 512.2L282.3 512.8L283.3 513.3L284.3 513.8L285.3 514.3L286.3 514.7L287.3 515.1L288.3 515.4L289.3 515.7L290.3 516.0L291.3 516.3L292.3 516.6L293.3 516.8L294.3 517.0L295.3 517.3L296.3 517.4L297.3 517.6L298.3 517.8L299.3 517.9L300.3 518.1L301.3 518.2L302.3 518.3L303.3 518.4L304.3 518.5L305.3 518.6L306.3 518.7L307.3 518.8L308.3 518.9L309.3 518.9L310.3 519.0L311.3 519.1L312.3 519.1L313.3 519.2L314.3 519.2L315.3 519.2L316.3 519.3L317.3 519.3L318.3 519.4L319.3 519.4L320.3 519.4L321.3 519.4L322.3 519.5L323.3 519.5L324.3 519.5L325.3 519.5L326.3 519.6L327.3 519.6L328.3 519.6L329.3 519.6L330.3 519.6L331.3 519.6L332.3 519.6L333.3 519.6L334.3 519.7L334.3 519.7L334.9 506.3L335.9 507.3L336.9 508.2L337.9 509.1L338.9 509.9L339.9 510.7L340.9 511.3L341.9 512.0L342.9 512.6L343.9 513.1L344.9 513.6L345.9 514.1L346.9 514.5L347.9 514.9L348.9 515.3L349.9 515.6L350.9 515.9L351.9 516.2L352.9 516.5L353.9 516.7L354.9 516.9L355.9 517.2L356.9 517.4L357.9 517.5L358.9 517.7L359.9 517.9L360.9 518.0L361.9 518.1L362.9 518.3L363.9 518.4L364.9 518.5L365.9 518.6L366.9 518.7L367.9 518.8L368.9 518.8L369.9 518.9L370.9 519.0L371.9 519.0L372.9 519.1L373.9 519.1L374.9 519.2L375.9 519.2L376.9 519.3L377.9 519.3L378.9 519.3L379.9 519.4L380.9 519.4L381.9 519.4L382.9 519.5L383.9 519.5L384.9 519.5L385.9 519.5L386.9 519.5L387.9 519.6L388.9 519.6L389.9 519.6L390.9 519.6L391.9 519.6L392.9 519.6L393.9 519.6L394.9 519.7L395.9 519.7L396.9 519.7L397.9 519.7L398.9 519.7L399.9 519.7L400.9 519.7L401.9 519.7L402.9 519.7L403.9 519.7L404.9 519.7L405.9 519.7L406.9 519.7L407.9 519.7L408.9 519.7L409.9 519.7L410.9 519.7L411.9 519.7L412.9 519.7L413.9 519.7L414.9 519.7L415.9 519.8L416.9 519.8L417.3 519.8L417.9 479.4L418.9 482.4L419.9 485.2L420.9 487.8L421.9 490.2L422.9 492.4L423.9 494.5L424.9 496.4L425.9 498.2L426.9 499.8L427.9 501.3L428.9 502.7L429.9 504.0L430.9 505.1L431.9 506.2L432.9 507.3L433.9 508.2L434.9 509.1L435.9 509.9L436.9 510.6L437.9 511.3L438.9 511.9L439.9 512.5L440.9 513.1L441.9 513.6L442.9 514.0L443.9 514.5L444.9 514.9L445.9 515.2L446.9 515.6L447.9 515.9L448.9 516.2L449.9 516.5L450.9 516.7L451.9 516.9L452.9 517.2L453.9 517.3L454.9 517.5L455.9 517.7L456.9 517.9L457.9 518.0L458.9 518.1L459.9 518.3L460.0 518.3" stroke="#000000"/>
<path d="M43.6 515.3L44.6 515.5L45.6 515.7L46.6 515.9L47.6 516.0L48.6 516.2L49.6 516.3L50.6 516.4L51.6 516.5L52.6 516.6L53.6 516.7L54.6 516.8L55.6 516.9L56.6 516.9L57.6 517.0L58.6 517.1L59.6 517.1L60.6 517.2L61.6 517.2L62.6 517.3L63.6 517.3L64.6 517.4L65.6 517.4L66.6 517.4L67.6 517.5L68.6 517.5L69.6 517.5L70.6 517.5L71.6 517.6L72.5 517.6L73.1 508.9L74.1 509.6L75.1 510.2L76.1 510.8L77.1 511.3L78.1 511.8L79.1 512.3L80.1 512.7L81.1 513.1L82.1 513.4L83.1 513.8L84.1 514.1L85.1 514.4L86.1 514.6L87.1 514.9L88.1 515.1L89.1 515.3L90.1 515.5L91.1 515.7L92.1 515.8L93.1 516.0L94.1 516.1L95.1 516.2L96.1 516.4L97.1 516.5L98.1 516.6L99.1 516.7L100.1 516.8L101.1 516.8L102.1 516.9L103.1 517.0L104.1 517.0L105.1 517.1L106.1 517.2L107.1 517.2L108.1 517.3L109.1 517.3L110.1 517.3L111.1 517.4L112.1 517.4L113.1 517.4L114.1 517.5L115.1 517.5L116.1 517.5L117.1 517.6L118.1 517.6L119.1 517.6L120.1 517.6L121.1 517.6L122.1 517.6L123.1 517.7L124.1 517.7L125.1 517.7L126.1 517.7L127.1 517.7L128.1 517.7L129.1 517.7L130.1 517.7L131.1 517.7L132.1 517.8L133.1 517.8L133.4 517.8L134.0 472.0L135.0 475.4L136.0 478.6L137.0 481.6L138.0 484.3L139.0 486.8L140.0 489.1L141.0 491.3L142.0 493.3L143.0 495.1L144.0 496.8L145.0 498.4L146.0 499.9L147.0 501.2L148.0 502.5L149.0 503.6L150.0 504.7L151.0 505.7L152.0 506.6L153.0 507.4L154.0 508.2L155.0 509.0L156.0 509.6L157.0 510.2L158.0 510.8L159.0 511.3L160.0 511.8L161.0 512.3L162.0 512.7L163.0 513.1L164.0 513.4L165.0 513.8L166.0 514.1L167.0 514.4L168.0 514.6L169.0 514.9L170.0 515.1L171.0 515.3L172.0 515.5L173.0 515.7L174.0 515.8L175.0 516.0L176.0 516.1L177.0 516.2L178.0 516.4L179.0 516.5L180.0 516.6L181.0 516.7L182.0 516.8L183.0 516.8L184.0 516.9L185.0 517.0L186.0 517.1L187.0 517.1L188.0 517.2L189.0 517.2L190.0 517.3L191.0 517.3L192.0 517.3L193.0 517.4L194.0 517.4L195.0 517.4L196.0 517.5L197.0 517.5L198.0 517.5L199.0 517.6L200.0 517.6L201.0 517.6L201.6 517.6L202.2 500.0L203.2 501.3L204.2 502.5L205.2 503.7L206.2 504.8L207.2 505.7L208.2 506.7L209.2 507.5L210.2 508.3L211.2 509.0L212.2 509.7L213.2 510.3L214.2 510.8L215.2 511.4L216.2 511.9L217.2 512.3L218.2 512.7L219.2 513.1L220.2 513.5L221.2 513.8L222.2 514.1L223.2 514.4L224.2 514.6L225.2 514.9L226.2 515.1L227.2 515.3L228.2 515.5L229.2 515.7L230.2 515.8L231.2 516.0L232.2 516.1L233.2 516.3L234.2 516.4L235.2 516.5L236.2 516.6L237.2 516.7L238.2 516.8L239.2 516.8L240.2 516.9L241.2 517.0L242.2 517.1L243.2 517.1L244.2 517.2L245.2 517.2L246.2 517.3L247.2 517.3L248.2 517.3L249.2 517.4L250.2 517.4L251.2 517.5L252.2 517.5L253.2 517.5L254.2 517.5L255.2 517.6L256.2 517.6L257.2 517.6L258.2 517.6L259.2 517.6L260.2 517.6L261.2 517.7L262.2 517.7L263.2 517.7L264.2 517.7L265.2 517.7L266.2 517.7L267.2 517.7L268.2 517.7L269.2 517.7L270.2 517.8L271.2 517.8L272.2 517.8L273.2 517.8L274.2 517.8L275.2 517.8L276.2 517.8L277.2 517.8L278.2 517.8L279.2 517.8L280.2 517.8L281.2 517.8L282.2 517.8L283.2 517.8L283.5 517.8L284.1 510.5L285.1 511.1L286.1 511.6L287.1 512.0L288.1 512.5L289.1 512.9L290.1 513.3L291.1 513.6L292.1 513.9L293.1 514.2L294.1 514.5L295.1 514.7L296.1 515.0L297.1 515.2L298.1 515.4L299.1 515.6L300.1 515.7L301.1 515.9L302.1 516.0L303.1 516.2L304.1 516.3L305.1 516.4L306.1 516.5L307.1 516.6L308.1 516.7L309.1 516.8L310.1 516.9L311.1 517.0L312.1 517.0L313.1 517.1L314.1 517.1L315.1 517.2L316.1 517.2L317.1 517.3L318.1 517.3L319.1 517.4L320.1 517.4L321.1 517.4L322.1 517.5L323.1 517.5L324.1 517.5L325.1 517.5L326.1 517.6L327.1 517.6L328.1 517.6L329.1 517.6L330.1 517.6L331.1 517.7L331.4 517.7L332.0 515.5L333.0 515.7L334.0 515.9L335.0 516.0L336.0 516.2L337.0 516.3L338.0 516.4L339.0 516.5L340.0 516.6L341.0 516.7L342.0 516.8L343.0 516.9L344.0 516.9L345.0 517.0L346.0 517.1L347.0 517.1L348.0 517.2L349.0 517.2L350.0 517.3L351.0 517.3L352.0 517.4L353.0 517.4L354.0 517.4L355.0 517.5L356.0 517.5L357.0 517.5L358.0 517.5L359.0 517.6L360.0 517.6L361.0 517.6L362.0 517.6L363.0 517.6L364.0 517.7L365.0 517.7L366.0 517.7L366.5 517.7L367.1 458.3L374.4 458.3L375.2 459.3L375.9 461.4L376.9 465.7L377.9 469.6L378.9 473.2L379.9 476.6L380.9 479.7L381.9 482.5L382.9 485.2L383.9 487.6L384.9 489.9L385.9 492.0L386.9 494.0L387.9 495.8L388.9 497.4L389.9 498.9L390.9 500.4L391.9 501.7L392.9 502.9L393.9 504.0L394.9 505.1L395.9 506.0L396.9 506.9L397.9 507.7L398.9 508.5L399.9 509.2L400.9 509.8L401.0 509.9L401.6 507.8L402.6 508.5L403.6 509.2L404.6 509.9L405.6 510.5L406.6 511.0L407.6 511.6L408.6 512.0L409.6 512.5L410.6 512.9L411.6 513.2L412.6 513.6L413.6 513.9L414.6 514.2L415.6 514.5L416.6 514.7L417.6 515.0L418.6 515.2L419.6 515.4L420.6 515.6L421.6 515.7L422.6 515.9L423.6 516.0L424.6 516.2L425.6 516.3L426.6 516.4L427.2 516.5L427.8 512.7L428.8 513.1L429.8 513.5L430.8 513.8L431.8 514.1L432.8 514.4L433.8 514.6L434.8 514.9L435.8 515.1L436.8 515.3L437.8 515.5L438.8 515.7L439.8 515.8L440.8 516.0L441.8 516.1L442.8 516.3L443.8 516.4L444.8 516.5L445.8 516.6L446.8 516.7L447.8 516.8L448.8 516.8L449.8 516.9L450.8 517.0L451.8 517.1L452.8 517.1L453.8 517.2L454.8 517.2L455.8 517.3L456.8 517.3L457.8 517.3L458.8 517.4L459.8 517.4L460.0 517.4" stroke="#ff0000"/>
<path d="M43.6 513.7L44.6 514.1L45.6 514.4L46.6 514.7L47.6 514.9L48.6 515.2L49.6 515.4L50.6 515.7L51.6 515.9L52.6 516.0L53.6 516.2L54.6 516.4L55.6 516.5L55.7 516.5L56.3 487.0L57.3 489.4L58.3 491.6L59.3 493.6L60.3 495.4L61.3 497.2L62.3 498.7L63.3 500.2L64.3 501.6L65.3 502.8L66.3 504.0L67.3 505.1L68.3 506.1L69.3 507.0L70.3 507.9L71.3 508.6L72.3 509.4L73.3 510.0L74.3 510.7L75.3 511.2L76.3 511.8L77.3 512.3L78.3 512.7L79.3 513.2L80.3 513.5L81.3 513.9L82.3 514.2L83.3 514.5L84.3 514.8L85.3 515.1L86.3 515.3L87.3 515.6L88.3 515.8L89.3 516.0L90.3 516.1L91.3 516.3L91.7 516.4L92.3 513.2L93.3 513.6L94.3 513.9L95.3 514.3L96.3 514.6L97.3 514.9L98.3 515.1L99.3 515.4L100.3 515.6L101.3 515.8L102.3 516.0L103.3 516.2L104.3 516.3L105.3 516.5L106.3 516.6L107.3 516.7L108.3 516.9L109.3 517.0L110.3 517.1L111.3 517.2L112.3 517.3L113.3 517.3L114.3 517.4L115.3 517.5L116.3 517.6L117.3 517.6L118.3 517.7L119.3 517.7L120.3 517.8L120.4 517.8L121.0 513.7L122.0 514.0L123.0 514.4L124.0 514.7L125.0 514.9L126.0 515.2L127.0 515.4L128.0 515.6L129.0 515.8L130.0 516.0L131.0 516.2L132.0 516.4L133.0 516.5L134.0 516.7L135.0 516.8L136.0 516.9L137.0 517.0L138.0 517.1L139.0 517.2L140.0 517.3L141.0 517.4L142.0 517.4L143.0 517.5L144.0 517.6L145.0 517.6L146.0 517.7L147.0 517.7L148.0 517.8L149.0 517.8L150.0 517.9L150.1 517.9L150.7 508.9L151.7 509.7L152.7 510.3L153.7 510.9L154.7 511.5L155.7 512.0L156.7 512.5L157.7 512.9L158.7 513.3L159.7 513.7L160.7 514.0L161.7 514.4L162.7 514.7L163.7 514.9L164.7 515.2L165.7 515.4L166.7 515.7L167.7 515.9L168.7 516.0L169.7 516.2L170.7 516.4L171.7 516.5L172.7 516.7L173.7 516.8L174.7 516.9L175.7 517.0L176.7 517.1L177.7 517.2L178.7 517.3L179.7 517.4L180.7 517.4L181.7 517.5L182.7 517.6L183.7 517.6L184.7 517.7L185.7 517.7L186.7 517.8L187.7 517.8L188.7 517.9L189.7 517.9L190.7 517.9L191.7 518.0L192.7 518.0L193.2 518.0L193.8 462.2L194.8 466.4L195.8 470.3L196.8 474.0L197.8 477.3L198.8 480.4L199.8 483.2L200.8 485.9L201.8 488.3L202.8 490.6L203.8 492.7L204.8 494.6L205.8 496.4L206.8 498.0L207.8 499.5L208.8 501.0L209.8 502.3L210.8 503.5L211.8 504.6L212.8 505.6L213.8 506.6L214.8 507.5L215.8 508.3L216.8 509.0L217.8 509.7L218.8 510.4L219.8 511.0L220.8 511.5L221.8 512.0L222.8 512.5L223.8 513.0L224.8 513.4L225.8 513.7L226.8 514.1L227.8 514.4L228.8 514.7L229.8 515.0L230.8 515.2L231.8 515.5L232.8 515.7L233.8 515.9L234.8 516.1L235.8 516.2L236.8 516.4L237.8 516.5L238.8 516.7L239.8 516.8L240.8 516.9L241.8 517.0L242.8 517.1L243.8 517.2L244.8 517.3L245.8 517.4L246.8 517.4L247.8 517.5L248.8 517.6L249.8 517.6L250.8 517.7L251.8 517.7L252.8 517.8L253.8 517.8L254.3 517.8L254.9 511.4L255.9 512.0L256.9 512.4L257.9 512.9L258.9 513.3L259.9 513.7L260.9 514.0L261.9 514.3L262.9 514.6L263.9 514.9L264.9 515.2L265.9 515.4L266.9 515.6L267.9 515.8L268.9 516.0L269.9 516.2L270.9 516.4L271.9 516.5L272.9 516.7L273.9 516.8L274.9 516.9L275.9 517.0L276.9 517.1L277.9 517.2L278.9 517.3L279.9 517.4L280.9 517.4L281.9 517.5L282.9 517.6L283.9 517.6L284.9 517.7L285.9 517.7L286.9 517.8L287.9 517.8L288.9 517.9L289.9 517.9L290.9 517.9L291.9 518.0L292.9 518.0L293.9 518.0L294.9 518.0L295.9 518.1L296.9 518.1L297.9 518.1L298.9 518.1L299.9 518.1L300.9 518.2L301.9 518.2L302.9 518.2L303.9 518.2L304.9 518.2L305.9 518.2L306.9 518.2L307.9 518.2L308.9 518.2L309.9 518.2L310.9 518.3L311.9 518.3L312.9 518.3L313.9 518.3L314.9 518.3L315.6 518.3L316.2 469.9L317.2 473.5L318.2 476.9L319.2 480.0L320.2 482.9L321.2 485.6L322.2 488.0L323.2 490.3L324.2 492.4L325.2 494.4L326.2 496.2L327.2 497.8L328.2 499.4L329.2 500.8L330.2 502.1L331.2 503.3L332.2 504.5L333.2 505.5L334.2 506.5L335.2 507.4L336.2 508.2L337.2 508.9L338.2 509.7L339.2 510.3L340.2 510.9L341.2 511.5L342.2 512.0L343.2 512.5L344.2 512.9L345.2 513.3L346.2 513.7L347.2 514.0L348.2 514.4L349.2 514.7L350.2 514.9L351.2 515.2L352.2 515.4L353.2 515.7L354.2 515.9L355.2 516.0L356.2 516.2L357.2 516.4L358.2 516.5L359.2 516.7L360.2 516.8L361.2 516.9L362.2 517.0L363.2 517.1L364.2 517.2L365.2 517.3L366.2 517.4L367.2 517.4L368.2 517.5L369.2 517.6L370.2 517.6L371.2 517.7L372.2 517.7L373.2 517.8L374.2 517.8L375.2 517.9L376.1 517.9L376.7 493.1L377.7 495.0L378.7 496.8L379.7 498.4L380.7 499.9L381.7 501.3L382.7 502.5L383.7 503.7L384.7 504.8L385.7 505.8L386.7 506.8L387.7 507.7L388.7 508.5L389.7 509.2L390.7 509.9L391.7 510.5L392.7 511.1L393.7 511.7L394.7 512.2L395.7 512.6L396.7 513.1L397.7 513.4L398.7 513.8L399.7 514.2L400.7 514.5L401.7 514.8L402.7 515.0L403.7 515.3L404.7 515.5L405.7 515.7L406.7 515.9L407.7 516.1L408.7 516.3L409.7 516.4L410.7 516.6L411.7 516.7L412.7 516.8L413.7 516.9L414.7 517.0L415.7 517.1L416.7 517.2L417.7 517.3L418.7 517.4L419.7 517.5L420.7 517.5L421.7 517.6L422.7 517.6L423.7 517.7L424.7 517.7L425.7 517.8L426.7 517.8L427.7 517.9L428.7 517.9L429.7 517.9L430.7 518.0L431.6 518.0L432.2 496.0L433.2 497.7L434.2 499.2L435.2 500.7L436.2 502.0L437.2 503.2L438.2 504.4L439.2 505.4L440.2 506.4L441.2 507.3L442.2 508.1L443.2 508.9L444.2 509.6L445.2 510.3L446.2 510.9L447.2 511.4L448.2 511.9L449.2 512.4L450.2 512.9L451.2 513.3L452.2 513.7L453.2 514.0L454.2 514.3L455.2 514.6L456.2 514.9L457.2 515.2L458.2 515.4L459.2 515.6L460.0 515.8" stroke="#00ff00"/>
<path d="M43.6 513.5L44.6 513.9L45.6 514.2L46.6 514.5L47.6 514.8L48.6 515.1L49.6 515.3L50.6 515.5L51.6 515.8L52.6 516.0L53.6 516.1L54.6 516.3L55.6 516.5L56.6 516.6L57.6 516.7L58.6 516.9L59.6 517.0L60.2 517.0L60.8 514.9L61.8 515.2L62.8 515.4L63.8 515.6L64.8 515.8L65.8 516.0L66.8 516.2L67.8 516.4L68.8 516.5L69.8 516.7L70.8 516.8L71.8 516.9L72.8 517.0L73.8 517.1L74.8 517.2L75.8 517.3L76.8 517.4L77.8 517.4L78.8 517.5L79.8 517.6L80.8 517.6L81.8 517.7L82.8 517.7L83.8 517.8L84.8 517.8L85.8 517.9L86.8 517.9L87.8 517.9L88.8 518.0L89.8 518.0L90.8 518.0L91.8 518.1L92.8 518.1L93.8 518.1L94.8 518.1L95.8 518.1L96.8 518.2L97.8 518.2L98.8 518.2L99.8 518.2L100.8 518.2L101.8 518.2L102.5 518.2L103.1 508.4L104.1 509.2L105.1 509.8L106.1 510.5L107.1 511.1L108.1 511.6L109.1 512.1L110.1 512.6L111.1 513.0L112.1 513.4L113.1 513.8L114.1 514.1L115.1 514.5L116.1 514.8L117.1 515.0L118.1 515.3L119.1 515.5L120.0 515.7L120.6 512.2L121.6 512.7L122.6 513.1L123.6 513.5L124.6 513.9L125.6 514.2L126.5 514.5L127.1 507.6L128.1 508.4L129.1 509.2L130.1 509.9L131.1 510.5L132.1 511.1L133.1 511.6L134.1 512.1L135.1 512.6L136.1 513.0L137.1 513.4L138.1 513.8L139.1 514.2L140.1 514.5L141.1 514.8L142.1 515.0L143.1 515.3L144.1 515.5L145.1 515.7L146.1 515.9L147.1 516.1L148.1 516.3L149.1 516.4L150.1 516.6L151.1 516.7L152.1 516.8L153.1 516.9L154.1 517.1L155.1 517.2L156.1 517.2L157.1 517.3L158.1 517.4L159.1 517.5L160.1 517.5L161.1 517.6L162.1 517.7L163.1 517.7L163.4 517.7L164.0 515.6L165.0 515.8L166.0 516.0L167.0 516.2L168.0 516.4L169.0 516.5L170.0 516.6L171.0 516.8L172.0 516.9L173.0 517.0L174.0 517.1L175.0 517.2L176.0 517.3L177.0 517.4L178.0 517.4L179.0 517.5L180.0 517.6L181.0 517.6L182.0 517.7L183.0 517.7L184.0 517.8L185.0 517.8L186.0 517.9L187.0 517.9L188.0 517.9L189.0 518.0L190.0 518.0L191.0 518.0L192.0 518.1L193.0 518.1L194.0 518.1L195.0 518.1L196.0 518.1L197.0 518.2L198.0 518.2L199.0 518.2L200.0 518.2L201.0 518.2L202.0 518.2L203.0 518.2L204.0 518.2L205.0 518.2L206.0 518.3L207.0 518.3L208.0 518.3L209.0 518.3L210.0 518.3L211.0 518.3L212.0 518.3L213.0 518.3L214.0 518.3L215.0 518.3L216.0 518.3L217.0 518.3L218.0 518.3L219.0 518.3L220.0 518.3L221.0 518.3L222.0 518.3L223.0 518.3L224.0 518.3L225.0 518.3L226.0 518.3L227.0 518.3L228.0 518.3L229.0 518.3L230.0 518.3L231.0 518.3L232.0 518.3L233.0 518.3L234.0 518.3L235.0 518.3L236.0 518.3L237.0 518.3L238.0 518.4L239.0 518.4L240.0 518.4L241.0 518.4L242.0 518.4L243.0 518.4L244.0 518.4L245.0 518.4L246.0 518.4L247.0 518.4L248.0 518.4L249.0 518.4L250.0 518.4L251.0 518.4L252.0 518.4L253.0 518.4L254.0 518.4L255.0 518.4L256.0 518.4L257.0 518.4L258.0 518.4L258.8 518.4L259.4 513.7L260.4 514.0L261.4 514.4L262.4 514.7L263.4 514.9L264.4 515.2L265.4 515.4L266.4 515.7L267.4 515.9L268.4 516.0L269.4 516.2L270.4 516.4L271.4 516.5L272.4 516.7L273.4 516.8L274.4 516.9L275.4 517.0L276.4 517.1L277.4 517.2L278.4 517.3L279.4 517.4L280.4 517.5L281.4 517.5L282.4 517.6L283.4 517.6L284.4 517.7L285.4 517.7L286.4 517.8L287.4 517.8L288.4 517.9L289.4 517.9L290.4 517.9L291.4 518.0L292.4 518.0L293.4 518.0L294.4 518.1L295.4 518.1L296.4 518.1L297.4 518.1L298.4 518.1L299.4 518.2L300.4 518.2L301.4 518.2L302.4 518.2L302.6 518.2L303.2 488.4L304.2 490.6L305.2 492.7L306.2 494.6L307.2 496.4L308.2 498.1L309.2 499.6L310.2 501.0L311.2 502.3L312.2 503.5L313.2 504.6L314.2 505.7L315.2 506.6L316.2 507.5L317.2 508.3L318.2 509.1L319.2 509.8L320.2 510.4L321.2 511.0L322.2 511.6L323.2 512.1L324.2 512.5L325.2 513.0L326.2 513.4L327.2 513.8L328.2 514.1L329.2 514.4L330.2 514.7L331.2 515.0L332.2 515.2L333.2 515.5L334.2 515.7L335.2 515.9L336.2 516.1L337.2 516.3L338.2 516.4L339.2 516.6L340.2 516.7L341.2 516.8L342.2 516.9L343.2 517.0L344.2 517.1L345.2 517.2L346.2 517.3L347.2 517.4L348.2 517.5L349.2 517.5L350.2 517.6L351.2 517.7L352.2 517.7L353.2 517.8L354.2 517.8L355.2 517.8L356.2 517.9L357.2 517.9L358.2 518.0L359.2 518.0L360.2 518.0L361.2 518.0L362.2 518.1L363.2 518.1L364.2 518.1L365.2 518.1L366.2 518.1L367.2 518.2L368.2 518.2L369.2 518.2L370.2 518.2L371.2 518.2L372.2 518.2L373.2 518.2L374.2 518.2L375.2 518.3L376.2 518.3L377.2 518.3L378.2 518.3L379.2 518.3L380.2 518.3L381.2 518.3L382.2 518.3L383.2 518.3L384.2 518.3L385.2 518.3L386.2 518.3L386.5 518.3L387.1 506.3L388.1 507.2L389.1 508.0L390.1 508.8L391.1 509.5L392.1 510.2L393.1 510.8L394.1 511.4L395.1 511.9L396.1 512.4L397.1 512.8L398.1 513.3L399.1 513.6L400.1 514.0L401.1 514.3L402.1 514.6L403.1 514.9L404.1 515.2L405.1 515.4L406.1 515.6L407.1 515.8L408.1 516.0L409.1 516.2L410.1 516.4L411.1 516.5L412.1 516.6L413.1 516.8L414.1 516.9L415.1 517.0L416.1 517.1L417.1 517.2L418.1 517.3L419.1 517.4L420.1 517.4L421.1 517.5L422.1 517.6L423.1 517.6L424.1 517.7L425.1 517.7L426.1 517.8L427.1 517.8L428.1 517.9L429.1 517.9L430.1 517.9L431.1 518.0L432.1 518.0L433.1 518.0L434.1 518.1L435.1 518.1L436.1 518.1L437.1 518.1L438.1 518.1L439.1 518.2L440.1 518.2L441.1 518.2L442.1 518.2L443.1 518.2L444.1 518.2L445.1 518.2L446.1 518.2L447.1 518.2L448.1 518.3L449.1 518.3L450.1 518.3L451.1 518.3L452.1 518.3L453.1 518.3L454.1 518.3L455.1 518.3L456.1 518.3L456.7 508.4L457.7 509.2L458.7 509.8L459.7 510.5L460.0 510.7" stroke="#0000ff"/>
<path d="M43.6 515.2L44.6 515.5L45.6 515.8L46.5 516.1L47.1 504.2L48.1 505.3L49.1 506.4L50.1 507.4L51.1 508.3L52.1 509.1L53.1 509.9L54.1 510.6L55.1 511.3L56.1 511.9L57.1 512.5L58.1 513.0L59.1 513.5L60.1 513.9L61.1 514.3L62.1 514.7L63.1 515.1L64.1 515.4L65.1 515.7L66.1 516.0L67.1 516.3L68.1 516.5L69.1 516.7L70.1 516.9L71.1 517.1L72.1 517.3L73.1 517.5L74.1 517.6L75.1 517.7L76.1 517.9L77.1 518.0L78.1 518.1L79.1 518.2L80.1 518.3L81.1 518.4L82.1 518.5L83.1 518.5L84.1 518.6L85.1 518.7L86.1 518.7L87.1 518.8L88.1 518.8L89.1 518.9L90.1 518.9L91.1 519.0L92.1 519.0L93.1 519.0L94.1 519.1L95.1 519.1L96.1 519.1L97.1 519.1L98.1 519.2L99.1 519.2L100.1 519.2L101.1 519.2L102.1 519.2L103.1 519.3L104.1 519.3L105.1 519.3L106.1 519.3L107.1 519.3L108.1 519.3L109.1 519.3L110.1 519.3L111.1 519.4L112.1 519.4L113.1 519.4L114.1 519.4L115.1 519.4L115.7 485.7L116.7 488.2L117.7 490.6L118.7 492.8L119.7 494.8L120.7 496.6L121.7 498.3L122.7 499.9L123.7 501.4L124.7 502.8L125.7 504.0L126.7 505.2L127.7 506.2L128.7 507.2L129.7 508.2L130.7 509.0L131.7 509.8L132.7 510.5L133.7 511.2L134.7 511.8L135.7 512.4L136.7 512.9L137.7 513.4L138.7 513.9L139.7 514.3L140.7 514.7L141.7 515.0L142.7 515.4L143.7 515.7L144.7 516.0L145.7 516.2L146.7 516.5L147.7 516.7L148.7 516.9L149.7 517.1L150.7 517.3L151.7 517.4L152.7 517.6L153.7 517.7L154.7 517.9L155.7 518.0L156.7 518.1L157.7 518.2L158.7 518.3L159.7 518.4L160.7 518.5L161.7 518.5L162.7 518.6L163.7 518.7L164.7 518.7L165.7 518.8L166.7 518.8L167.7 518.9L168.7 518.9L169.7 519.0L170.7 519.0L171.7 519.0L172.7 519.1L173.7 519.1L174.7 519.1L175.7 519.1L176.7 519.2L177.7 519.2L178.7 519.2L179.7 519.2L180.7 519.2L181.7 519.3L182.7 519.3L183.7 519.3L184.7 519.3L185.7 519.3L186.7 519.3L187.7 519.3L188.7 519.3L189.7 519.3L190.7 519.4L191.7 519.4L192.7 519.4L193.7 519.4L194.7 519.4L195.7 519.4L196.7 519.4L197.7 519.4L198.7 519.4L199.7 519.4L200.7 519.4L201.7 519.4L202.7 519.4L203.7 519.4L204.7 519.4L205.7 519.4L206.7 519.4L207.7 519.4L208.7 519.4L209.7 519.4L210.7 519.4L211.7 519.4L212.7 519.4L213.7 519.4L214.7 519.4L215.7 519.4L216.7 519.4L217.7 519.4L218.7 519.4L219.7 519.4L220.7 519.4L221.7 519.4L222.7 519.4L223.7 519.4L224.7 519.4L225.7 519.4L226.7 519.4L227.7 519.4L228.7 519.4L229.7 519.4L230.7 519.4L231.7 519.4L232.7 519.4L233.7 519.5L234.7 519.5L235.7 519.5L236.7 519.5L237.7 519.5L238.7 519.5L239.7 519.5L240.7 519.5L241.7 519.5L242.7 519.5L243.7 519.5L244.7 519.5L245.7 519.5L246.7 519.5L247.2 519.5L247.8 514.5L248.8 514.8L249.8 515.2L250.8 515.5L251.8 515.8L252.8 516.1L253.8 516.3L254.8 516.6L255.8 516.8L256.8 517.0L257.8 517.2L258.8 517.3L259.8 517.5L260.8 517.7L261.8 517.8L262.8 517.9L263.8 518.0L264.8 518.1L265.8 518.2L266.8 518.3L267.8 518.4L268.8 518.5L269.8 518.6L270.8 518.6L271.8 518.7L272.8 518.7L273.8 518.8L273.8 518.8L274.4 465.7L275.4 469.7L276.4 473.4L277.4 476.9L278.4 480.1L279.4 483.1L280.4 485.8L281.4 488.3L282.4 490.7L283.4 492.8L284.4 494.8L285.4 496.7L286.4 498.4L287.4 500.0L288.4 501.4L289.4 502.8L290.4 504.0L291.4 505.2L292.4 506.3L293.4 507.3L294.4 508.2L295.4 509.0L296.4 509.8L297.4 510.5L298.4 511.2L299.4 511.8L300.4 512.4L301.4 512.9L302.4 513.4L303.4 513.9L304.4 514.3L305.4 514.7L306.4 515.0L307.4 515.4L308.4 515.7L309.4 516.0L310.4 516.2L311.4 516.5L312.4 516.7L313.4 516.9L314.4 517.1L315.4 517.3L316.4 517.4L317.4 517.6L318.4 517.7L319.4 517.9L320.4 518.0L321.4 518.1L322.4 518.2L323.4 518.3L324.4 518.4L325.4 518.5L326.4 518.5L327.4 518.6L328.4 518.7L329.4 518.7L330.4 518.8L331.4 518.8L332.4 518.9L333.4 518.9L334.4 519.0L335.4 519.0L336.4 519.0L337.4 519.1L338.4 519.1L339.4 519.1L340.4 519.1L341.4 519.2L342.4 519.2L343.4 519.2L344.4 519.2L345.4 519.2L346.4 519.3L347.4 519.3L348.4 519.3L349.4 519.3L350.4 519.3L351.1 519.3L351.7 487.0L352.7 489.5L353.7 491.7L354.7 493.8L355.7 495.7L356.7 497.5L357.7 499.2L358.7 500.7L359.7 502.1L360.7 503.4L361.7 504.6L362.7 505.7L363.7 506.8L364.7 507.7L365.7 508.6L366.7 509.4L367.7 510.2L368.7 510.9L369.7 511.5L370.7 512.1L371.7 512.7L372.7 513.2L373.7 513.6L374.7 514.1L375.7 514.5L376.7 514.9L377.7 515.2L378.7 515.5L379.7 515.8L380.7 516.1L381.7 516.3L382.7 516.6L383.7 516.8L384.7 517.0L385.7 517.2L386.7 517.3L387.7 517.5L388.7 517.7L389.7 517.8L390.7 517.9L391.7 518.0L392.7 518.1L393.7 518.2L394.7 518.3L395.7 518.4L396.7 518.5L397.7 518.6L398.7 518.6L399.7 518.7L400.7 518.7L401.7 518.8L402.7 518.9L403.7 518.9L404.7 518.9L404.9 518.9L405.5 505.8L406.5 506.8L407.5 507.7L408.5 508.6L409.5 509.4L410.5 510.2L411.5 510.9L412.5 511.5L413.5 512.1L414.5 512.7L415.5 513.2L416.5 513.7L417.5 514.1L418.5 514.5L419.5 514.9L420.5 515.2L421.5 515.5L422.5 515.8L423.5 516.1L424.5 516.4L425.5 516.6L426.5 516.8L427.5 517.0L428.5 517.2L429.5 517.4L430.5 517.5L431.5 517.7L432.5 517.8L433.5 517.9L434.5 518.0L435.5 518.1L436.5 518.2L437.5 518.3L438.5 518.4L439.5 518.5L440.5 518.6L441.5 518.6L442.5 518.7L443.5 518.8L444.5 518.8L445.5 518.9L446.5 518.9L446.6 518.9L447.2 509.2L448.2 509.9L449.2 510.7L450.2 511.3L451.2 511.9L452.2 512.5L453.2 513.0L454.2 513.5L455.2 513.9L456.2 514.4L457.2 514.7L458.2 515.1L459.2 515.4L460.0 515.7" stroke="#00ffff"/>
<path d="M43.6 514.3L44.6 514.7L45.6 515.1L46.6 515.4L47.6 515.7L48.6 515.9L49.6 516.2L50.6 516.4L51.6 516.6L52.6 516.8L53.6 517.0L54.6 517.2L55.6 517.3L56.6 517.5L57.6 517.6L58.6 517.8L59.6 517.9L60.6 518.0L61.6 518.1L62.6 518.2L63.6 518.2L64.6 518.3L65.6 518.4L66.6 518.5L67.6 518.5L68.6 518.6L69.6 518.6L70.6 518.7L71.6 518.7L72.6 518.8L73.6 518.8L74.6 518.8L75.6 518.9L76.6 518.9L77.6 518.9L78.6 519.0L79.6 519.0L80.6 519.0L81.6 519.0L82.4 519.0L83.0 514.4L84.0 514.8L85.0 515.1L86.0 515.5L87.0 515.7L88.0 516.0L89.0 516.3L90.0 516.5L91.0 516.7L92.0 516.9L93.0 517.1L94.0 517.2L95.0 517.4L96.0 517.5L97.0 517.7L98.0 517.8L99.0 517.9L100.0 518.0L101.0 518.1L102.0 518.2L103.0 518.3L104.0 518.3L105.0 518.4L106.0 518.5L107.0 518.5L108.0 518.6L109.0 518.6L110.0 518.7L111.0 518.7L112.0 518.8L113.0 518.8L114.0 518.9L115.0 518.9L116.0 518.9L117.0 518.9L118.0 519.0L119.0 519.0L119.2 519.0L119.8 516.0L120.8 516.3L121.8 516.5L122.8 516.7L123.8 516.9L124.8 517.1L125.8 517.2L126.8 517.4L127.8 517.5L128.8 517.7L129.8 517.8L130.8 517.9L131.8 518.0L132.8 518.1L133.8 518.2L134.8 518.3L135.8 518.3L136.8 518.4L137.8 518.5L138.8 518.5L139.8 518.6L140.8 518.6L141.8 518.7L142.8 518.7L143.8 518.8L144.8 518.8L145.8 518.9L146.8 518.9L147.8 518.9L148.8 518.9L149.8 519.0L150.8 519.0L151.8 519.0L152.8 519.0L153.8 519.1L154.8 519.1L155.8 519.1L156.8 519.1L157.8 519.1L158.8 519.1L159.8 519.1L160.8 519.2L161.8 519.2L162.8 519.2L163.8 519.2L164.8 519.2L165.8 519.2L166.4 519.2L167.0 516.9L168.0 517.0L169.0 517.2L170.0 517.4L171.0 517.5L172.0 517.6L173.0 517.8L174.0 517.9L175.0 518.0L176.0 518.1L177.0 518.2L178.0 518.3L179.0 518.3L180.0 518.4L181.0 518.5L182.0 518.5L183.0 518.6L184.0 518.6L185.0 518.7L186.0 518.7L187.0 518.8L188.0 518.8L189.0 518.8L190.0 518.9L191.0 518.9L192.0 518.9L193.0 519.0L194.0 519.0L195.0 519.0L196.0 519.0L197.0 519.1L198.0 519.1L199.0 519.1L200.0 519.1L201.0 519.1L202.0 519.1L203.0 519.1L204.0 519.1L205.0 519.2L206.0 519.2L207.0 519.2L207.9 519.2L208.5 511.0L209.5 511.7L210.5 512.2L211.5 512.8L212.5 513.3L213.5 513.7L214.5 514.1L215.5 514.5L216.5 514.9L217.5 515.2L218.5 515.5L219.5 515.8L220.5 516.1L221.5 516.3L222.5 516.5L223.5 516.7L224.5 516.9L225.5 517.1L226.5 517.3L227.5 517.4L228.5 517.6L229.5 517.7L230.5 517.8L231.5 517.9L232.5 518.0L233.5 518.1L233.9 518.2L234.5 482.3L235.5 485.1L236.5 487.6L237.5 490.0L238.5 492.2L239.5 494.2L240.5 496.1L241.5 497.9L242.5 499.5L243.5 501.0L244.5 502.3L245.5 503.6L246.5 504.8L247.5 505.9L248.5 506.9L249.5 507.8L250.5 508.7L251.5 509.5L252.5 510.2L253.5 510.9L254.5 511.5L255.5 512.1L256.5 512.6L257.5 513.1L258.5 513.6L259.5 514.0L260.5 514.4L261.5 514.8L262.5 515.1L263.5 515.4L264.5 515.7L265.5 516.0L266.5 516.2L267.5 516.5L268.5 516.7L269.5 516.9L270.5 517.1L271.5 517.2L272.5 517.4L273.5 517.5L274.5 517.7L275.5 517.8L275.7 517.8L276.3 459.6L277.3 464.1L278.3 468.2L279.3 472.1L280.3 475.6L281.3 478.9L282.3 481.9L283.3 484.7L284.3 487.3L285.3 489.7L286.3 492.0L287.3 494.0L288.3 495.9L289.3 497.7L290.3 499.3L291.3 500.8L292.3 502.2L293.3 503.5L294.3 504.7L295.3 505.8L296.3 506.8L297.3 507.7L298.3 508.6L299.3 509.4L300.3 510.1L301.3 510.8L302.3 511.5L303.3 512.0L304.3 512.6L305.3 513.1L306.3 513.6L307.3 514.0L308.3 514.4L309.3 514.8L310.3 515.1L311.3 515.4L312.3 515.7L313.3 516.0L314.3 516.2L315.3 516.4L316.3 516.7L317.3 516.9L317.5 516.9L318.1 511.0L319.1 511.7L320.1 512.2L321.1 512.8L322.1 513.3L323.1 513.7L324.1 514.1L325.1 514.5L326.1 514.9L327.1 515.2L328.1 515.5L329.1 515.8L330.1 516.1L331.1 516.3L332.1 516.5L333.1 516.7L334.1 516.9L335.1 517.1L336.1 517.3L337.1 517.4L338.1 517.6L339.1 517.7L340.1 517.8L341.1 517.9L342.1 518.0L343.1 518.1L344.1 518.2L345.1 518.3L346.1 518.4L347.1 518.4L347.6 518.5L348.2 460.9L349.2 465.3L350.2 469.4L351.2 473.1L352.2 476.6L353.2 479.8L354.2 482.8L355.2 485.5L356.2 488.0L357.2 490.4L358.2 492.6L359.2 494.6L360.2 496.4L361.2 498.1L362.2 499.7L363.2 501.2L364.2 502.6L365.2 503.8L366.2 505.0L367.2 506.1L368.2 507.0L369.2 508.0L370.2 508.8L371.2 509.6L372.2 510.3L373.2 511.0L374.2 511.6L375.2 512.2L376.2 512.7L377.2 513.2L378.2 513.7L379.2 514.1L380.2 514.5L381.2 514.9L382.2 515.2L383.2 515.5L384.2 515.8L385.2 516.0L386.2 516.3L387.2 516.5L388.2 516.7L389.2 516.9L390.2 517.1L391.2 517.3L392.2 517.4L393.2 517.5L394.2 517.7L395.2 517.8L396.2 517.9L397.2 518.0L398.2 518.1L399.2 518.2L400.2 518.3L401.2 518.4L402.2 518.4L403.2 518.5L404.2 518.5L405.2 518.6L406.2 518.7L407.2 518.7L408.2 518.7L409.2 518.8L410.2 518.8L411.2 518.9L412.2 518.9L413.2 518.9L414.2 518.9L415.2 519.0L416.2 519.0L417.2 519.0L418.2 519.0L419.2 519.1L420.2 519.1L421.2 519.1L422.2 519.1L423.2 519.1L424.2 519.1L425.2 519.1L426.2 519.2L427.2 519.2L428.2 519.2L429.2 519.2L430.2 519.2L431.2 519.2L432.2 519.2L433.2 519.2L434.2 519.2L435.2 519.2L436.2 519.2L437.2 519.2L438.2 519.2L439.2 519.2L440.2 519.2L441.2 519.2L442.2 519.2L443.2 519.2L444.2 519.3L444.8 478.1L445.8 481.2L446.8 484.0L447.8 486.7L448.8 489.1L449.8 491.4L450.8 493.5L451.8 495.4L452.8 497.2L453.8 498.9L454.8 500.4L455.8 501.8L456.8 503.1L457.8 504.4L458.8 505.5L459.8 506.5L460.0 506.8" stroke="#ff00ff"/>
<path d="M43.6 517.3L44.6 517.3L45.6 517.4L46.6 517.4L47.6 517.4L48.6 517.4L49.6 517.5L50.6 517.5L51.6 517.5L52.6 517.5L53.6 517.6L54.6 517.6L55.6 517.6L56.6 517.6L57.6 517.6L58.6 517.6L59.6 517.6L60.6 517.7L61.6 517.7L62.6 517.7L63.6 517.7L64.6 517.7L65.6 517.7L66.6 517.7L67.6 517.7L68.6 517.7L69.6 517.7L70.6 517.7L71.6 517.7L72.6 517.7L73.6 517.7L74.6 517.7L75.6 517.8L76.6 517.8L77.6 517.8L78.6 517.8L79.6 517.8L80.6 517.8L80.7 517.8L81.3 511.5L82.3 512.0L83.3 512.4L84.3 512.8L85.3 513.2L86.3 513.5L87.3 513.8L88.3 514.1L89.3 514.4L90.3 514.7L91.3 514.9L92.3 515.1L93.3 515.3L94.3 515.5L95.3 515.7L96.3 515.8L97.3 516.0L98.3 516.1L99.3 516.2L100.3 516.4L101.3 516.5L102.3 516.6L103.3 516.7L104.3 516.7L105.3 516.8L106.3 516.9L107.3 517.0L108.3 517.0L109.3 517.1L109.8 517.1L110.4 515.0L111.4 515.2L112.4 515.4L113.4 515.6L114.4 515.8L115.4 515.9L116.4 516.0L117.4 516.2L118.4 516.3L119.4 516.4L120.4 516.5L121.4 516.6L122.4 516.7L123.4 516.8L124.4 516.9L125.4 516.9L126.4 517.0L127.4 517.1L128.4 517.1L129.4 517.2L130.4 517.2L130.8 517.2L131.4 513.5L132.4 513.8L133.4 514.1L134.4 514.4L135.4 514.6L136.4 514.9L137.4 515.1L138.4 515.3L139.4 515.5L140.4 515.7L141.4 515.8L142.4 516.0L143.4 516.1L144.4 516.2L145.4 516.3L146.4 516.5L147.4 516.6L148.4 516.7L149.4 516.7L150.4 516.8L151.4 516.9L152.4 517.0L153.4 517.0L154.4 517.1L155.4 517.1L156.4 517.2L157.4 517.2L158.4 517.3L159.4 517.3L160.4 517.3L161.4 517.4L162.4 517.4L162.6 517.4L163.2 510.5L164.2 511.1L165.2 511.6L166.2 512.0L167.2 512.5L168.2 512.9L169.2 513.2L170.2 513.6L171.2 513.9L172.2 514.2L173.2 514.5L174.2 514.7L175.2 514.9L176.2 515.2L177.2 515.4L178.2 515.5L179.2 515.7L180.2 515.9L181.2 516.0L182.2 516.1L183.2 516.3L184.2 516.4L185.2 516.5L186.2 516.6L187.2 516.7L188.2 516.8L189.2 516.8L190.2 516.9L191.2 517.0L192.2 517.0L193.2 517.1L194.2 517.1L195.2 517.2L196.2 517.2L197.2 517.3L198.2 517.3L199.2 517.4L200.2 517.4L201.2 517.4L202.2 517.4L203.2 517.5L204.0 517.5L204.6 493.1L205.6 495.0L206.6 496.7L207.6 498.3L208.6 499.7L209.6 501.1L210.6 502.3L211.6 503.5L212.6 504.6L213.6 505.6L214.6 506.5L215.6 507.3L216.6 508.1L217.6 508.9L218.6 509.5L219.6 510.1L220.6 510.7L221.6 511.3L222.6 511.7L223.6 512.2L224.6 512.6L225.6 513.0L226.6 513.4L227.6 513.7L228.6 514.0L229.6 514.3L230.6 514.6L231.6 514.8L232.6 515.0L233.6 515.2L234.6 515.4L235.6 515.6L236.6 515.8L237.6 515.9L238.6 516.1L239.6 516.2L240.6 516.3L241.6 516.4L242.6 516.5L243.6 516.6L244.6 516.7L245.6 516.8L246.6 516.9L247.6 516.9L248.6 517.0L249.6 517.1L250.6 517.1L251.6 517.2L252.6 517.2L253.6 517.3L254.6 517.3L255.6 517.3L256.2 506.3L257.2 507.2L258.2 508.0L259.2 508.7L260.2 509.4L261.2 510.0L262.2 510.6L263.2 511.1L264.2 511.6L265.2 512.1L266.2 512.5L267.2 512.9L268.2 513.3L269.2 513.6L270.2 513.9L271.2 514.2L272.2 514.5L273.2 514.7L274.2 515.0L275.2 515.2L276.2 515.4L277.2 515.6L278.2 515.7L279.2 515.9L280.2 516.0L281.2 516.2L282.2 516.3L283.2 516.4L284.2 516.5L285.2 516.6L286.2 516.7L287.2 516.8L288.2 516.8L289.2 516.9L290.2 517.0L291.2 517.0L292.2 517.1L293.2 517.2L294.2 517.2L295.2 517.2L296.2 517.3L297.2 517.3L298.2 517.4L299.2 517.4L300.2 517.4L301.2 517.5L302.2 517.5L303.2 517.5L304.2 517.5L304.8 517.5L305.4 480.7L306.4 483.5L307.4 486.1L308.4 488.4L309.4 490.7L310.4 492.7L311.4 494.6L312.4 496.3L313.4 497.9L314.4 499.4L315.4 500.8L316.4 502.1L317.4 503.3L318.4 504.4L319.4 505.4L320.4 506.3L321.4 507.2L322.4 508.0L323.4 508.7L324.4 509.4L325.4 510.0L326.4 510.6L327.4 511.1L328.4 511.6L329.4 512.1L330.4 512.5L331.4 512.9L332.4 513.3L333.4 513.6L334.4 513.9L335.4 514.2L336.4 514.5L337.4 514.7L338.4 515.0L339.4 515.2L340.4 515.4L341.4 515.6L342.4 515.7L343.4 515.9L344.4 516.0L345.4 516.2L346.4 516.3L347.4 516.4L348.4 516.5L349.4 516.6L350.4 516.7L351.4 516.8L352.4 516.9L353.4 516.9L354.4 517.0L355.4 517.0L356.4 517.1L357.4 517.2L358.4 517.2L359.4 517.2L360.4 517.3L361.4 517.3L362.4 517.4L363.4 517.4L364.4 517.4L365.4 517.5L366.4 517.5L367.4 517.5L368.4 517.5L369.4 517.5L370.4 517.6L371.4 517.6L372.4 517.6L373.4 517.6L374.4 517.6L375.4 517.6L376.4 517.6L377.4 517.7L378.4 517.7L379.4 517.7L380.4 517.7L381.4 517.7L382.4 517.7L383.4 517.7L384.4 517.7L385.4 517.7L386.4 517.7L387.4 517.7L388.4 517.7L389.4 517.7L390.4 517.7L391.4 517.7L392.4 517.8L393.4 517.8L394.4 517.8L395.4 517.8L396.4 517.8L397.4 517.8L398.4 517.8L399.4 517.8L400.4 517.8L401.4 517.8L402.4 517.8L403.4 517.8L403.7 517.8L404.3 496.0L405.3 497.6L406.3 499.2L407.3 500.6L408.3 501.9L409.3 503.0L410.3 504.2L411.3 505.2L412.3 506.1L413.3 507.0L414.3 507.8L415.3 508.6L416.3 509.3L417.3 509.9L418.3 510.5L419.3 511.0L420.3 511.6L421.3 512.0L422.3 512.5L423.3 512.9L424.3 513.2L425.3 513.6L426.3 513.9L427.3 514.2L428.3 514.5L429.3 514.7L430.3 514.9L431.3 515.2L432.3 515.3L433.3 515.5L434.3 515.7L435.3 515.9L436.3 516.0L437.3 516.1L438.3 516.3L439.3 516.4L440.3 516.5L441.3 516.6L442.3 516.7L443.3 516.8L444.3 516.8L445.3 516.9L446.3 517.0L447.3 517.0L448.3 517.1L449.3 517.1L450.3 517.2L451.3 517.2L452.3 517.3L452.4 517.3L453.0 508.4L454.0 509.1L455.0 509.8L456.0 510.4L457.0 510.9L458.0 511.4L459.0 511.9L460.0 512.4L460.0 512.4" stroke="#000000"/>
<path d="M43.6 519.2L44.6 519.3L45.6 519.4L46.6 519.4L47.6 519.5L48.6 519.6L49.6 519.6L50.6 519.7L51.6 519.7L52.6 519.8L53.6 519.8L54.4 519.8L55.0 486.2L56.0 488.8L57.0 491.2L58.0 493.4L59.0 495.4L60.0 497.3L61.0 499.0L62.0 500.6L63.0 502.1L64.0 503.5L65.0 504.7L66.0 505.9L67.0 507.0L68.0 508.0L69.0 508.9L70.0 509.8L71.0 510.6L72.0 511.3L73.0 512.0L74.0 512.6L75.0 513.2L76.0 513.7L77.0 514.2L78.0 514.7L79.0 515.1L80.0 515.5L81.0 515.9L82.0 516.2L83.0 516.5L84.0 516.8L85.0 517.1L86.0 517.3L87.0 517.5L88.0 517.8L89.0 517.9L90.0 518.1L91.0 518.3L92.0 518.4L93.0 518.6L94.0 518.7L95.0 518.8L96.0 519.0L97.0 519.1L98.0 519.2L99.0 519.2L100.0 519.3L101.0 519.4L102.0 519.5L103.0 519.5L104.0 519.6L105.0 519.7L105.3 519.7L105.9 499.4L106.9 501.0L107.9 502.5L108.9 503.8L109.9 505.0L110.9 506.2L111.9 507.3L112.9 508.2L113.9 509.2L114.9 510.0L115.9 510.8L116.9 511.5L117.9 512.2L118.9 512.8L119.9 513.3L120.9 513.9L121.9 514.4L122.9 514.8L123.9 515.2L124.9 515.6L125.9 516.0L126.9 516.3L127.9 516.6L128.9 516.9L129.9 517.1L130.9 517.4L131.9 517.6L132.9 517.8L133.9 518.0L134.9 518.2L135.9 518.3L136.9 518.5L137.9 518.6L138.9 518.8L139.9 518.9L140.9 519.0L141.9 519.1L142.3 519.1L142.9 510.2L143.9 511.0L144.9 511.7L145.9 512.3L146.9 512.9L146.9 512.9L147.5 510.8L148.5 511.5L149.5 512.2L150.5 512.8L151.5 513.4L152.5 513.9L153.5 514.4L154.5 514.8L155.5 515.2L156.5 515.6L157.5 516.0L158.5 516.3L159.5 516.6L160.5 516.9L161.5 517.2L162.5 517.4L163.5 517.6L164.5 517.8L165.5 518.0L166.5 518.2L166.6 518.2L167.2 513.7L168.2 514.2L169.2 514.6L170.2 515.1L171.2 515.5L172.2 515.8L173.2 516.2L174.2 516.5L175.2 516.8L176.2 517.0L177.2 517.3L178.2 517.5L179.2 517.7L180.2 517.9L181.2 518.1L182.2 518.3L183.2 518.4L184.2 518.6L185.2 518.7L186.2 518.8L187.2 518.9L188.2 519.1L189.2 519.1L190.2 519.2L191.2 519.3L192.2 519.4L193.2 519.5L194.2 519.5L195.2 519.6L196.2 519.7L197.2 519.7L198.2 519.8L199.2 519.8L200.2 519.8L201.2 519.9L202.2 519.9L203.2 519.9L204.2 520.0L205.2 520.0L206.2 520.0L207.2 520.0L208.2 520.1L209.2 520.1L210.2 520.1L211.2 520.1L212.2 520.1L213.2 520.2L214.2 520.2L215.2 520.2L216.2 520.2L217.2 520.2L218.2 520.2L219.2 520.2L220.2 520.2L221.2 520.2L222.2 520.3L223.2 520.3L224.2 520.3L225.2 520.3L225.6 520.3L226.2 501.5L227.2 503.0L228.2 504.3L229.2 505.5L230.2 506.6L231.2 507.6L232.2 508.6L233.2 509.5L234.2 510.3L235.2 511.0L236.2 511.7L237.2 512.4L238.2 513.0L239.2 513.5L240.2 514.0L241.2 514.5L242.2 515.0L243.2 515.4L244.2 515.7L245.2 516.1L246.2 516.4L247.2 516.7L248.2 517.0L249.2 517.2L250.2 517.5L251.2 517.7L252.2 517.9L253.2 518.1L254.2 518.2L255.2 518.4L256.2 518.5L257.2 518.7L258.2 518.8L259.2 518.9L260.2 519.0L261.2 519.1L262.2 519.2L263.2 519.3L264.2 519.4L265.2 519.4L266.2 519.5L267.2 519.6L268.2 519.6L269.2 519.7L270.2 519.7L271.2 519.8L272.2 519.8L273.2 519.9L274.2 519.9L275.2 519.9L276.2 520.0L277.2 520.0L278.2 520.0L279.2 520.0L280.2 520.1L281.2 520.1L282.2 520.1L283.2 520.1L284.2 520.1L285.2 520.2L286.2 520.2L287.2 520.2L288.2 520.2L289.2 520.2L290.2 520.2L291.2 520.2L292.2 520.2L293.2 520.2L294.2 520.2L295.2 520.3L296.2 520.3L296.8 471.2L297.8 474.9L298.8 478.3L299.8 481.5L300.8 484.4L301.8 487.1L302.8 489.6L303.8 491.9L304.8 494.0L305.8 496.0L306.8 497.8L307.8 499.5L308.8 501.1L309.8 502.5L310.8 503.9L311.8 505.1L312.8 506.3L313.8 507.3L314.8 508.3L315.8 509.2L316.8 510.0L317.8 510.8L318.8 511.5L319.8 512.2L320.8 512.8L321.8 513.4L322.8 513.9L323.8 514.4L324.8 514.8L325.8 515.2L326.8 515.6L327.8 516.0L328.8 516.3L329.8 516.6L330.8 516.9L331.8 517.2L332.8 517.4L333.8 517.6L334.8 517.8L335.8 518.0L336.8 518.2L337.8 518.3L338.8 518.5L339.8 518.6L340.8 518.8L341.8 518.9L342.8 519.0L343.8 519.1L344.8 519.2L345.8 519.3L346.8 519.4L347.8 519.4L348.8 519.5L349.8 519.6L350.8 519.6L351.8 519.7L352.8 519.7L353.8 519.8L354.8 519.8L355.8 519.9L356.8 519.9L357.7 519.9L358.3 502.9L359.3 504.2L360.3 505.4L361.3 506.5L362.3 507.6L363.3 508.5L364.3 509.4L365.3 510.2L366.3 511.0L367.3 511.7L368.3 512.3L369.3 512.9L370.3 513.5L371.3 514.0L372.3 514.5L373.3 514.9L374.3 515.3L375.3 515.7L376.3 516.1L377.3 516.4L378.3 516.7L379.3 517.0L380.3 517.2L381.3 517.4L382.3 517.7L383.3 517.9L384.3 518.0L385.3 518.2L386.3 518.4L387.3 518.5L388.3 518.7L389.3 518.8L390.3 518.9L391.3 519.0L392.3 519.1L392.9 510.2L393.9 510.9L394.9 511.6L395.9 512.3L396.9 512.9L397.9 513.5L398.2 513.6L398.8 510.9L399.8 511.6L400.8 512.2L401.8 512.8L402.8 513.4L403.0 513.5L403.6 472.0L404.6 475.6L405.6 479.0L406.6 482.1L407.6 485.0L408.6 487.6L409.6 490.1L410.6 492.4L411.6 494.5L412.6 496.4L413.6 498.2L414.6 499.9L415.6 501.4L416.6 502.8L417.6 504.1L418.6 505.4L419.6 506.5L420.6 507.5L421.6 508.5L422.6 509.4L423.6 510.2L424.6 511.0L425.6 511.7L426.6 512.3L427.6 512.9L428.6 513.5L429.6 514.0L430.6 514.5L431.6 514.9L432.6 515.3L433.6 515.7L434.6 516.1L435.6 516.4L436.6 516.7L437.6 516.9L438.6 517.2L439.6 517.4L440.6 517.7L441.6 517.9L442.6 518.0L443.6 518.2L444.6 518.4L445.6 518.5L446.6 518.7L447.6 518.8L448.6 518.9L449.6 519.0L450.6 519.1L451.6 519.2L452.6 519.3L453.6 519.4L454.6 519.4L455.6 519.5L456.6 519.6L457.6 519.6L458.6 519.7L459.6 519.7L460.0 519.8" stroke="#ff0000"/>
<path d="M43.6 515.2L44.6 515.4L45.6 515.5L46.6 515.7L47.6 515.8L48.6 515.9L49.6 516.1L50.6 516.2L51.6 516.3L52.6 516.4L53.6 516.4L54.6 516.5L55.6 516.6L56.6 516.7L57.6 516.7L58.6 516.8L59.6 516.8L60.6 516.9L61.6 516.9L62.6 517.0L63.6 517.0L64.6 517.1L65.6 517.1L66.6 517.1L67.2 469.4L68.2 473.0L69.2 476.3L70.2 479.4L71.2 482.3L72.2 484.9L73.2 487.4L74.2 489.6L75.2 491.7L76.2 493.7L77.2 495.5L78.2 497.1L79.2 498.6L80.2 500.1L81.2 501.4L82.2 502.6L83.2 503.7L84.2 504.7L85.2 505.7L86.2 506.6L87.2 507.4L88.2 508.2L89.2 508.9L90.2 509.5L91.2 510.1L92.2 510.7L92.3 510.7L92.9 508.6L93.9 509.3L94.9 509.9L95.9 510.5L96.9 511.0L97.9 511.5L98.9 512.0L99.9 512.4L100.9 512.8L101.9 513.1L102.9 513.4L103.9 513.7L104.9 514.0L105.1 514.1L105.7 460.9L106.7 465.2L107.7 469.1L108.7 472.7L109.7 476.1L110.7 479.2L111.7 482.1L112.7 484.7L113.7 487.2L114.7 489.5L115.7 491.6L116.7 493.5L117.7 495.3L118.7 497.0L119.7 498.5L120.7 500.0L121.7 501.3L122.7 502.5L123.7 503.6L124.7 504.7L125.7 505.6L126.7 506.5L127.7 507.4L128.7 508.1L129.7 508.8L130.7 509.5L131.7 510.1L132.7 510.6L133.7 511.1L134.7 511.6L135.7 512.1L136.7 512.5L137.7 512.9L138.7 513.2L139.7 513.5L140.7 513.8L141.7 514.1L142.7 514.4L143.7 514.6L144.7 514.8L145.7 515.0L146.7 515.2L147.7 515.4L148.7 515.5L149.7 515.7L150.7 515.8L151.7 515.9L152.7 516.1L153.7 516.2L154.7 516.3L155.7 516.4L156.7 516.4L157.7 516.5L158.7 516.6L159.7 516.7L160.7 516.7L161.7 516.8L162.7 516.8L163.7 516.9L164.7 516.9L165.7 517.0L166.7 517.0L167.7 517.1L168.7 517.1L169.7 517.1L170.7 517.1L171.7 517.2L172.7 517.2L173.7 517.2L174.3 517.2L174.9 515.1L175.9 515.3L176.9 515.5L177.9 515.6L178.9 515.8L179.9 515.9L180.9 516.0L181.9 516.1L182.9 516.2L183.9 516.3L184.9 516.4L185.9 516.5L186.9 516.6L187.9 516.6L188.9 516.7L189.9 516.8L190.9 516.8L191.9 516.9L192.9 516.9L193.9 517.0L194.9 517.0L195.9 517.0L196.9 517.1L197.7 517.1L198.3 512.9L199.3 513.2L200.3 513.5L201.3 513.8L202.3 514.1L203.3 514.4L204.3 514.6L205.3 514.8L206.3 515.0L207.3 515.2L208.3 515.4L209.3 515.5L210.3 515.7L211.3 515.8L212.3 515.9L213.3 516.1L214.3 516.2L215.3 516.3L216.3 516.4L217.3 516.4L218.3 516.5L219.3 516.6L220.3 516.7L221.3 516.7L222.3 516.8L223.3 516.8L224.3 516.9L225.3 516.9L226.3 517.0L226.9 508.7L227.9 509.4L228.9 510.0L229.9 510.6L230.9 511.1L231.9 511.6L232.9 512.0L233.9 512.4L234.9 512.8L235.9 513.2L236.9 513.5L237.9 513.8L238.9 514.1L239.9 514.3L240.9 514.6L241.9 514.8L242.9 515.0L243.9 515.2L244.9 515.4L245.9 515.5L246.9 515.7L247.9 515.8L248.9 515.9L249.9 516.0L250.9 516.2L251.9 516.3L252.9 516.3L253.9 516.4L254.9 516.5L255.9 516.6L256.9 516.7L257.9 516.7L258.9 516.8L259.9 516.8L260.9 516.9L261.9 516.9L262.9 517.0L263.9 517.0L264.9 517.0L265.9 517.1L266.9 517.1L267.9 517.1L268.9 517.2L269.9 517.2L270.9 517.2L271.9 517.2L272.9 517.3L273.9 517.3L274.9 517.3L275.9 517.3L276.9 517.3L277.9 517.3L278.9 517.3L279.9 517.4L280.9 517.4L281.9 517.4L282.9 517.4L283.9 517.4L284.9 517.4L285.9 517.4L286.9 517.4L287.9 517.4L288.9 517.4L289.9 517.4L290.9 517.4L291.9 517.4L292.9 517.4L293.9 517.4L294.9 517.5L295.9 517.5L296.9 517.5L297.9 517.5L298.9 517.5L299.9 517.5L300.9 517.5L301.9 517.5L302.9 517.5L303.9 517.5L304.9 517.5L305.9 517.5L306.9 517.5L307.9 517.5L308.9 517.5L309.1 517.5L309.7 460.4L310.7 464.7L311.7 468.6L312.7 472.3L313.7 475.7L314.7 478.8L315.7 481.8L316.7 484.4L317.7 486.9L318.7 489.2L319.7 491.3L320.7 493.3L321.7 495.1L322.7 496.8L323.7 498.4L324.7 499.8L325.7 501.1L326.7 502.4L327.7 503.5L328.7 504.6L329.7 505.5L330.7 506.4L331.7 507.3L332.7 508.0L333.7 508.7L334.7 509.4L335.7 510.0L336.7 510.6L337.7 511.1L338.7 511.6L339.7 512.0L340.7 512.4L341.7 512.8L342.7 513.2L343.7 513.5L344.7 513.8L345.7 514.1L346.7 514.3L347.7 514.6L348.7 514.8L349.7 515.0L350.7 515.2L351.7 515.3L352.7 515.5L353.7 515.7L354.7 515.8L355.7 515.9L356.7 516.0L357.7 516.2L358.7 516.3L359.7 516.3L360.7 516.4L361.7 516.5L362.7 516.6L363.7 516.7L364.7 516.7L365.0 516.7L365.6 514.6L366.6 514.8L367.6 515.0L368.6 515.2L369.6 515.4L370.6 515.6L371.6 515.7L372.6 515.8L373.6 516.0L374.6 516.1L375.6 516.2L376.6 516.3L377.6 516.4L378.6 516.5L379.6 516.5L380.6 516.6L381.6 516.7L382.6 516.7L383.6 516.8L384.6 516.8L385.6 516.9L386.6 516.9L387.6 517.0L388.6 517.0L389.6 517.1L390.6 517.1L391.6 517.1L392.6 517.1L393.6 517.2L394.6 517.2L395.6 517.2L396.6 517.2L397.6 517.3L398.6 517.3L399.6 517.3L400.6 517.3L401.6 517.3L402.6 517.3L403.6 517.3L404.6 517.4L405.6 517.4L406.6 517.4L407.6 517.4L408.6 517.4L409.6 517.4L410.6 517.4L411.6 517.4L412.6 517.4L413.6 517.4L414.6 517.4L415.6 517.4L416.6 517.4L417.6 517.4L418.6 517.5L419.6 517.5L420.6 517.5L421.4 517.5L422.0 512.7L423.0 513.0L424.0 513.4L425.0 513.7L426.0 514.0L427.0 514.2L428.0 514.5L429.0 514.7L430.0 514.9L431.0 515.1L432.0 515.3L433.0 515.5L434.0 515.6L435.0 515.8L436.0 515.9L437.0 516.0L438.0 516.1L439.0 516.2L440.0 516.3L441.0 516.4L442.0 516.5L443.0 516.6L444.0 516.6L445.0 516.7L446.0 516.8L447.0 516.8L448.0 516.9L449.0 516.9L450.0 517.0L451.0 517.0L451.3 517.0L451.9 507.5L452.9 508.2L453.9 508.9L454.9 509.6L455.9 510.2L456.9 510.7L457.9 511.2L458.9 511.7L459.9 512.1L460.0 512.2" stroke="#00ff00"/>
<path d="M43.6 517.1L44.6 517.2L45.6 517.3L46.6 517.4L47.6 517.5L48.6 517.6L49.6 517.7L50.2 517.7L50.8 514.8L51.8 515.1L52.8 515.4L53.8 515.6L54.8 515.8L55.8 516.0L56.8 516.2L57.8 516.4L58.8 516.6L59.8 516.7L60.8 516.9L61.8 517.0L62.8 517.1L63.8 517.3L64.8 517.4L65.8 517.5L66.8 517.6L67.8 517.6L68.8 517.7L69.8 517.8L70.8 517.8L71.8 517.9L72.8 518.0L73.8 518.0L74.8 518.1L75.8 518.1L76.8 518.2L77.8 518.2L78.8 518.2L79.8 518.3L80.8 518.3L81.8 518.3L82.8 518.3L83.8 518.4L84.8 518.4L85.8 518.4L86.8 518.4L87.8 518.4L88.8 518.5L89.8 518.5L90.8 518.5L91.8 518.5L92.8 518.5L93.8 518.5L94.8 518.5L95.8 518.5L96.8 518.6L97.8 518.6L98.8 518.6L99.8 518.6L100.8 518.6L100.9 518.6L101.5 513.7L102.5 514.1L103.5 514.4L104.5 514.7L105.5 515.0L106.5 515.3L107.4 515.5L108.0 513.4L109.0 513.8L110.0 514.2L111.0 514.5L112.0 514.8L113.0 515.1L114.0 515.4L115.0 515.6L116.0 515.9L116.3 515.9L116.9 473.3L117.9 476.7L118.9 479.9L119.9 482.8L120.9 485.5L121.9 488.0L122.9 490.3L123.9 492.4L124.9 494.4L125.9 496.2L126.9 497.9L127.9 499.5L128.9 500.9L129.9 502.2L130.9 503.5L131.9 504.6L132.9 505.7L133.9 506.6L134.9 507.5L135.9 508.4L136.9 509.2L137.9 509.9L138.9 510.5L139.9 511.1L140.9 511.7L141.9 512.2L142.9 512.7L143.9 513.2L144.9 513.6L145.9 514.0L146.9 514.3L147.9 514.6L148.9 514.9L149.9 515.2L150.9 515.5L151.9 515.7L152.9 515.9L153.9 516.1L154.9 516.3L155.9 516.5L156.9 516.7L157.9 516.8L158.9 517.0L159.9 517.1L160.9 517.2L161.9 517.3L162.9 517.4L163.9 517.5L164.9 517.6L165.9 517.7L166.9 517.7L167.9 517.8L168.9 517.9L169.9 517.9L170.9 518.0L171.9 518.0L172.9 518.1L173.9 518.1L174.9 518.2L175.9 518.2L176.9 518.2L177.9 518.3L178.9 518.3L179.9 518.3L180.9 518.4L181.9 518.4L182.9 518.4L183.9 518.4L184.9 518.4L185.9 518.5L186.9 518.5L187.9 518.5L188.9 518.5L189.9 518.5L190.9 518.5L191.9 518.5L192.9 518.5L193.9 518.5L194.9 518.6L195.9 518.6L196.9 518.6L197.9 518.6L198.9 518.6L199.9 518.6L200.9 518.6L201.9 518.6L202.9 518.6L203.9 518.6L204.9 518.6L205.9 518.6L206.9 518.6L207.9 518.6L208.9 518.6L209.9 518.6L210.9 518.6L211.9 518.6L212.9 518.6L213.9 518.6L214.9 518.6L215.9 518.6L216.9 518.6L217.9 518.6L218.9 518.6L219.9 518.6L220.9 518.6L221.9 518.6L222.9 518.6L223.9 518.6L224.9 518.6L225.9 518.6L226.9 518.7L227.9 518.7L228.9 518.7L229.9 518.7L230.9 518.7L231.9 518.7L232.0 518.7L232.6 465.7L233.6 469.6L234.6 473.3L235.6 476.7L236.6 479.9L237.6 482.8L238.6 485.5L239.6 488.0L240.6 490.3L241.6 492.4L242.6 494.4L243.6 496.2L244.6 497.9L245.6 499.5L246.6 500.9L247.6 502.2L248.6 503.5L249.6 504.6L250.6 505.7L251.6 506.6L252.6 507.5L253.6 508.4L254.6 509.2L255.6 509.9L256.6 510.5L257.6 511.1L258.6 511.7L259.6 512.2L260.6 512.7L261.6 513.2L262.6 513.6L263.6 514.0L264.6 514.3L265.6 514.6L266.6 514.9L267.6 515.2L268.6 515.5L269.6 515.7L270.6 515.9L271.6 516.1L272.6 516.3L273.6 516.5L274.6 516.7L275.6 516.8L276.6 517.0L277.6 517.1L278.6 517.2L279.6 517.3L280.6 517.4L281.6 517.5L282.6 517.6L283.6 517.7L284.6 517.7L285.6 517.8L286.6 517.9L287.6 517.9L288.6 518.0L289.6 518.0L290.6 518.1L291.1 518.1L291.7 514.5L292.7 514.9L293.7 515.1L294.7 515.4L295.7 515.6L296.7 515.9L297.7 516.1L298.7 516.3L299.7 516.5L300.7 516.6L301.7 516.8L302.7 516.9L303.7 517.0L304.7 517.2L305.7 517.3L306.7 517.4L307.7 517.5L308.7 517.6L309.7 517.7L310.7 517.7L311.7 517.8L312.7 517.9L313.7 517.9L314.7 518.0L315.7 518.0L316.7 518.1L317.7 518.1L318.7 518.2L319.7 518.2L320.7 518.2L321.7 518.3L322.7 518.3L323.7 518.3L324.7 518.3L325.7 518.4L326.7 518.4L327.7 518.4L328.7 518.4L329.7 518.4L330.7 518.5L331.7 518.5L332.7 518.5L333.7 518.5L334.7 518.5L335.7 518.5L336.7 518.5L337.7 518.5L338.7 518.6L339.6 518.6L340.2 492.6L341.2 494.5L342.2 496.3L343.2 498.0L344.2 499.6L345.2 501.0L346.2 502.3L347.2 503.6L348.2 504.7L349.2 505.7L350.2 506.7L351.2 507.6L352.2 508.4L353.2 509.2L354.2 509.9L355.2 510.6L356.2 511.2L357.2 511.7L358.2 512.3L359.2 512.7L360.2 513.2L361.2 513.6L362.2 514.0L363.2 514.3L364.2 514.7L365.2 515.0L366.2 515.2L367.2 515.5L368.2 515.7L369.2 516.0L370.2 516.2L371.2 516.3L372.2 516.5L373.2 516.7L374.2 516.8L375.2 517.0L376.2 517.1L377.2 517.2L378.2 517.3L379.2 517.4L380.2 517.5L381.2 517.6L382.2 517.7L383.2 517.8L384.2 517.8L385.2 517.9L386.2 517.9L387.2 518.0L388.2 518.0L389.2 518.1L390.2 518.1L391.2 518.2L392.2 518.2L393.2 518.2L394.2 518.3L395.2 518.3L396.2 518.3L397.2 518.4L398.2 518.4L399.2 518.4L400.2 518.4L401.2 518.4L402.2 518.5L403.2 518.5L404.2 518.5L405.2 518.5L406.2 518.5L407.2 518.5L408.2 518.5L409.2 518.5L410.2 518.5L411.2 518.6L412.2 518.6L413.2 518.6L414.2 518.6L415.2 518.6L416.2 518.6L417.2 518.6L418.2 518.6L419.2 518.6L420.2 518.6L421.2 518.6L422.2 518.6L423.2 518.6L424.2 518.6L425.2 518.6L426.2 518.6L427.2 518.6L428.2 518.6L429.2 518.6L430.2 518.6L431.2 518.6L432.2 518.6L433.2 518.6L434.2 518.6L435.2 518.6L436.2 518.6L437.2 518.6L438.2 518.6L439.2 518.6L440.2 518.6L441.2 518.6L441.7 518.6L442.3 512.5L443.3 513.0L444.3 513.4L445.3 513.8L446.3 514.2L447.3 514.5L448.3 514.8L449.3 515.1L450.3 515.4L451.3 515.6L452.3 515.9L453.3 516.1L454.3 516.3L455.3 516.4L456.3 516.6L456.7 516.7L457.3 513.7L458.3 514.1L459.3 514.4L460.0 514.6" stroke="#0000ff"/>
<path d="M43.6 517.0L44.6 517.2L45.6 517.3L46.6 517.5L47.6 517.6L48.6 517.7L49.6 517.8L50.6 517.9L51.6 518.0L52.6 518.1L53.6 518.1L54.6 518.2L55.6 518.3L56.6 518.3L57.6 518.4L58.6 518.4L59.6 518.5L60.6 518.5L61.6 518.6L62.6 518.6L63.6 518.6L64.6 518.7L65.6 518.7L66.6 518.7L67.6 518.8L68.6 518.8L69.6 518.8L70.6 518.8L71.6 518.8L72.6 518.9L73.6 518.9L74.6 518.9L75.6 518.9L76.6 518.9L77.6 518.9L78.6 518.9L79.6 518.9L80.6 519.0L81.6 519.0L82.6 519.0L83.6 519.0L84.6 519.0L85.6 519.0L86.6 519.0L87.6 519.0L88.6 519.0L89.6 519.0L90.6 519.0L91.6 519.0L92.6 519.0L93.6 519.0L94.6 519.0L95.6 519.0L96.6 519.0L97.6 519.0L98.6 519.0L99.6 519.0L100.6 519.0L101.6 519.0L102.6 519.0L103.6 519.0L104.6 519.1L105.6 519.1L106.6 519.1L107.6 519.1L108.6 519.1L108.7 519.1L109.3 516.9L110.3 517.1L111.3 517.3L112.3 517.4L113.3 517.5L114.3 517.6L115.3 517.7L116.3 517.8L117.3 517.9L118.3 518.0L119.3 518.1L120.3 518.2L121.3 518.2L122.3 518.3L123.3 518.4L124.3 518.4L125.3 518.5L126.3 518.5L127.3 518.5L128.3 518.6L129.3 518.6L130.3 518.7L131.3 518.7L132.3 518.7L133.3 518.7L134.3 518.8L135.3 518.8L136.3 518.8L137.3 518.8L138.3 518.8L139.3 518.9L140.3 518.9L141.3 518.9L142.3 518.9L143.3 518.9L144.3 518.9L145.3 518.9L146.3 519.0L147.3 519.0L148.3 519.0L149.3 519.0L150.3 519.0L151.3 519.0L152.3 519.0L153.3 519.0L154.3 519.0L155.3 519.0L156.3 519.0L157.3 519.0L158.3 519.0L159.3 519.0L160.3 519.0L161.3 519.0L162.3 519.0L163.3 519.0L164.3 519.0L165.3 519.0L166.3 519.0L167.3 519.0L168.3 519.0L169.3 519.0L170.3 519.1L171.3 519.1L172.3 519.1L173.3 519.1L174.3 519.1L175.3 519.1L176.3 519.1L177.3 519.1L178.3 519.1L179.3 519.1L180.3 519.1L181.0 519.1L181.6 484.9L182.6 487.5L183.6 489.9L184.6 492.1L185.6 494.1L186.6 496.0L187.6 497.7L188.6 499.3L189.6 500.8L190.6 502.2L191.6 503.4L192.6 504.6L193.6 505.7L194.6 506.7L195.6 507.6L196.6 508.5L197.6 509.3L198.6 510.0L199.6 510.7L200.6 511.3L201.6 511.9L202.6 512.4L203.6 512.9L204.6 513.4L205.6 513.8L206.6 514.2L207.6 514.6L208.6 514.9L209.6 515.2L210.6 515.5L211.6 515.8L212.6 516.0L213.6 516.3L214.6 516.5L215.6 516.7L216.6 516.9L217.6 517.0L218.6 517.2L219.6 517.3L220.6 517.4L221.6 517.6L222.6 517.7L223.6 517.8L224.6 517.9L225.6 518.0L226.6 518.1L227.6 518.1L228.6 518.2L229.6 518.3L230.6 518.3L231.6 518.4L232.6 518.4L233.6 518.5L234.6 518.5L235.6 518.6L236.6 518.6L237.6 518.6L238.6 518.7L239.6 518.7L240.6 518.7L241.6 518.8L242.6 518.8L243.6 518.8L244.6 518.8L245.6 518.8L246.6 518.9L247.6 518.9L248.6 518.9L249.6 518.9L250.6 518.9L251.6 518.9L252.6 518.9L253.6 518.9L254.6 519.0L255.6 519.0L256.6 519.0L257.6 519.0L258.6 519.0L259.6 519.0L260.6 519.0L261.6 519.0L262.6 519.0L263.0 519.0L263.6 493.1L264.6 495.1L265.6 496.9L266.6 498.5L267.6 500.1L268.6 501.5L269.6 502.8L270.6 504.0L271.6 505.2L272.6 506.2L273.6 507.2L274.6 508.1L275.6 508.9L276.6 509.7L277.6 510.4L278.6 511.0L279.6 511.6L280.6 512.2L281.6 512.7L282.0 512.9L282.6 508.5L283.6 509.3L284.6 510.0L285.6 510.7L286.6 511.3L287.6 511.9L288.6 512.5L288.7 512.5L289.3 471.2L290.3 474.8L291.3 478.1L292.3 481.2L293.3 484.0L294.3 486.7L295.3 489.1L296.3 491.4L297.3 493.4L298.3 495.4L299.3 497.2L300.3 498.8L301.3 500.3L302.3 501.7L303.3 503.0L304.3 504.2L305.3 505.4L306.3 506.4L307.3 507.3L308.3 508.2L309.3 509.0L310.3 509.8L311.3 510.5L312.3 511.1L313.3 511.7L314.3 512.3L315.3 512.8L316.3 513.3L317.3 513.7L318.3 514.1L319.3 514.5L320.3 514.8L321.3 515.1L322.3 515.4L323.3 515.7L324.3 516.0L325.3 516.2L326.3 516.4L327.3 516.6L328.3 516.8L329.3 517.0L330.3 517.1L331.3 517.3L332.3 517.4L333.3 517.5L334.3 517.6L335.3 517.8L336.3 517.9L337.3 517.9L338.3 518.0L339.3 518.1L340.3 518.2L341.3 518.2L342.3 518.3L343.3 518.4L344.3 518.4L345.3 518.5L346.3 518.5L347.3 518.6L348.3 518.6L349.3 518.6L350.3 518.7L351.3 518.7L352.3 518.7L353.3 518.7L354.3 518.8L355.3 518.8L356.3 518.8L357.3 518.8L358.3 518.9L359.3 518.9L360.3 518.9L361.3 518.9L362.1 518.9L362.7 511.0L363.7 511.6L364.7 512.2L365.7 512.7L366.7 513.2L367.7 513.6L368.7 514.0L369.7 514.4L370.7 514.8L371.7 515.1L372.7 515.4L373.7 515.7L374.7 515.9L375.7 516.2L376.7 516.4L377.7 516.6L378.7 516.8L379.7 516.9L380.7 517.1L381.7 517.2L382.7 517.4L383.7 517.5L384.7 517.6L385.7 517.7L386.7 517.8L387.7 517.9L388.7 518.0L389.7 518.1L390.7 518.2L390.9 518.2L391.5 495.2L392.5 497.0L393.5 498.7L394.5 500.2L395.5 501.6L396.5 502.9L397.5 504.1L398.5 505.3L399.5 506.3L400.5 507.3L401.5 508.1L402.5 509.0L403.5 509.7L404.5 510.4L405.5 511.1L406.5 511.7L407.5 512.2L408.5 512.7L409.5 513.2L410.5 513.7L411.5 514.1L412.1 514.3L412.7 459.6L413.7 464.1L414.7 468.2L415.7 472.0L416.7 475.6L417.7 478.8L418.7 481.8L419.7 484.6L420.7 487.2L421.7 489.6L422.7 491.8L423.7 493.9L424.7 495.8L425.7 497.5L426.7 499.1L427.7 500.6L428.7 502.0L429.7 503.3L430.7 504.5L431.7 505.6L432.7 506.6L433.7 507.5L434.7 508.4L435.7 509.2L436.7 509.9L437.7 510.6L438.7 511.3L439.7 511.9L440.7 512.4L441.7 512.9L442.7 513.4L443.7 513.8L444.7 514.2L445.7 514.6L446.7 514.9L447.7 515.2L448.7 515.5L449.7 515.8L450.7 516.0L451.7 516.2L452.7 516.5L453.7 516.7L454.7 516.8L455.7 517.0L456.7 517.2L457.7 517.3L458.7 517.4L459.7 517.6L460.0 517.6" stroke="#00ffff"/>
<path d="M43.6 516.5L44.6 516.7L45.6 517.0L46.6 517.2L47.6 517.3L48.6 517.5L49.6 517.7L50.6 517.8L51.6 518.0L52.6 518.1L53.6 518.2L54.6 518.3L55.6 518.4L56.6 518.5L57.6 518.6L58.6 518.6L59.6 518.7L60.6 518.8L61.6 518.8L62.6 518.9L63.6 519.0L64.6 519.0L65.6 519.1L66.6 519.1L67.6 519.1L68.6 519.2L69.6 519.2L70.6 519.2L71.6 519.3L71.9 519.3L72.5 515.2L73.5 515.6L74.5 515.9L75.5 516.1L76.5 516.4L77.5 516.6L78.5 516.9L79.5 517.1L80.5 517.3L81.5 517.4L82.5 517.6L83.5 517.8L84.5 517.9L85.5 518.0L86.5 518.1L87.5 518.2L88.5 518.4L89.5 518.4L90.5 518.5L91.5 518.6L92.5 518.7L93.5 518.8L94.5 518.8L95.5 518.9L96.5 518.9L97.5 519.0L98.5 519.0L99.5 519.1L99.8 519.1L100.4 513.7L101.4 514.1L102.4 514.5L103.4 514.9L104.4 515.3L105.4 515.6L106.4 515.9L107.4 516.2L108.4 516.4L109.4 516.7L110.4 516.9L111.4 517.1L112.4 517.3L113.4 517.5L114.4 517.6L115.4 517.8L116.4 517.9L117.4 518.0L118.4 518.2L119.4 518.3L120.4 518.4L121.4 518.5L122.4 518.5L123.4 518.6L124.4 518.7L125.4 518.8L126.4 518.8L127.4 518.9L128.4 518.9L129.4 519.0L130.4 519.0L131.4 519.1L132.4 519.1L133.4 519.2L134.4 519.2L135.4 519.2L136.4 519.2L137.4 519.3L138.4 519.3L139.4 519.3L140.4 519.3L141.4 519.4L142.4 519.4L143.4 519.4L144.4 519.4L145.4 519.4L146.4 519.4L147.4 519.5L148.4 519.5L149.3 519.5L149.9 513.7L150.9 514.1L151.9 514.5L152.9 514.9L153.9 515.3L154.9 515.6L155.9 515.9L156.9 516.2L157.9 516.4L158.9 516.7L159.9 516.9L160.9 517.1L161.9 517.3L162.9 517.5L163.9 517.6L164.9 517.8L165.9 517.9L166.9 518.0L167.9 518.2L168.9 518.3L169.9 518.4L170.9 518.5L171.9 518.5L172.9 518.6L173.9 518.7L174.9 518.8L175.9 518.8L176.9 518.9L177.9 518.9L178.9 519.0L179.9 519.0L180.9 519.1L181.9 519.1L182.9 519.2L183.9 519.2L184.9 519.2L185.9 519.2L186.9 519.3L187.9 519.3L188.9 519.3L189.9 519.3L190.9 519.4L191.9 519.4L192.9 519.4L193.9 519.4L194.9 519.4L195.7 519.4L196.3 500.8L197.3 502.2L198.3 503.5L199.3 504.7L200.3 505.8L201.3 506.8L202.3 507.8L203.3 508.7L204.3 509.5L205.3 510.3L206.3 511.0L207.3 511.6L208.3 512.2L209.3 512.8L210.3 513.3L211.3 513.8L212.3 514.2L213.3 514.6L214.3 515.0L215.3 515.3L216.3 515.7L217.3 516.0L218.3 516.2L219.3 516.5L220.3 516.7L221.3 516.9L222.3 517.1L223.3 517.3L224.3 517.5L225.3 517.6L226.3 517.8L227.3 517.9L228.3 518.1L229.3 518.2L230.3 518.3L231.1 518.4L231.7 508.4L232.7 509.2L233.7 510.0L234.7 510.7L235.7 511.4L236.7 512.0L237.7 512.6L238.7 513.1L239.7 513.6L240.7 514.1L241.7 514.5L242.7 514.9L243.7 515.2L244.7 515.5L245.7 515.9L246.7 516.1L247.7 516.4L248.7 516.6L249.7 516.9L250.7 517.1L251.7 517.3L252.7 517.4L253.7 517.6L254.7 517.7L255.7 517.9L256.7 518.0L257.7 518.1L258.7 518.2L259.7 518.3L260.7 518.4L261.7 518.5L262.7 518.6L263.7 518.7L264.7 518.8L265.7 518.8L266.7 518.9L267.7 518.9L268.7 519.0L269.7 519.0L270.7 519.1L271.7 519.1L272.7 519.1L273.7 519.2L274.7 519.2L275.6 519.2L276.2 512.9L277.2 513.4L278.2 513.9L279.2 514.3L280.2 514.7L281.2 515.1L282.2 515.4L283.2 515.7L284.2 516.0L285.2 516.3L286.2 516.5L287.2 516.8L288.2 517.0L289.2 517.2L290.2 517.4L291.2 517.5L292.2 517.7L293.2 517.8L294.2 518.0L295.2 518.1L296.2 518.2L297.2 518.3L298.2 518.4L299.2 518.5L299.7 518.5L300.3 493.9L301.3 495.8L302.3 497.6L303.3 499.3L304.3 500.8L305.3 502.2L306.3 503.5L307.3 504.7L308.3 505.8L309.3 506.9L310.3 507.8L311.3 508.7L312.3 509.5L313.3 510.3L314.3 511.0L315.3 511.6L316.3 512.2L317.3 512.8L318.3 513.3L319.3 513.8L320.3 514.2L321.3 514.6L322.3 515.0L323.3 515.3L324.3 515.7L325.3 516.0L326.3 516.2L327.3 516.5L328.3 516.7L329.3 516.9L330.3 517.1L331.3 517.3L332.3 517.5L333.3 517.7L334.3 517.8L335.3 517.9L336.3 518.1L337.3 518.2L337.9 518.2L338.5 471.2L339.5 474.8L340.5 478.2L341.5 481.3L342.5 484.2L343.5 486.9L344.5 489.3L345.5 491.6L346.5 493.7L347.5 495.6L348.5 497.4L349.5 499.1L350.5 500.6L351.5 502.1L352.5 503.4L353.5 504.6L354.5 505.7L355.5 506.8L356.5 507.7L357.5 508.6L358.5 509.5L359.5 510.2L360.5 510.9L361.5 511.6L362.5 512.2L363.5 512.7L364.5 513.3L365.5 513.7L366.5 514.2L367.5 514.6L368.5 515.0L369.5 515.3L370.5 515.6L371.5 515.9L372.5 516.2L373.5 516.5L374.5 516.7L375.5 516.9L376.5 517.1L377.5 517.3L378.5 517.5L379.5 517.6L380.5 517.8L381.5 517.9L382.5 518.0L383.5 518.2L384.5 518.3L385.5 518.4L386.5 518.5L387.5 518.6L388.5 518.6L389.5 518.7L390.5 518.8L391.5 518.8L392.5 518.9L393.5 518.9L394.5 519.0L395.0 519.0L395.6 513.6L396.6 514.0L397.6 514.4L398.6 514.8L399.6 515.2L400.6 515.5L401.6 515.8L402.6 516.1L403.6 516.4L404.6 516.6L405.6 516.8L406.6 517.0L407.6 517.2L408.6 517.4L409.6 517.6L410.6 517.7L411.6 517.9L412.6 518.0L413.6 518.1L414.6 518.2L415.6 518.3L416.6 518.4L417.6 518.5L418.6 518.6L419.6 518.7L420.6 518.7L421.6 518.8L422.6 518.9L423.6 518.9L424.6 519.0L425.6 519.0L426.6 519.1L427.6 519.1L428.6 519.1L429.6 519.2L430.6 519.2L431.6 519.2L432.6 519.3L433.6 519.3L434.6 519.3L435.6 519.3L436.6 519.4L437.6 519.4L438.6 519.4L439.6 519.4L440.6 519.4L441.6 519.4L442.6 519.5L443.6 519.5L444.6 519.5L445.6 519.5L446.6 519.5L447.6 519.5L448.6 519.5L449.6 519.5L450.6 519.5L451.6 519.5L452.6 519.5L453.6 519.5L454.6 519.5L455.6 519.5L456.6 519.6L457.6 519.6L458.6 519.6L459.6 519.6L460.0 519.6" stroke="#ff00ff"/>
<path d="M43.60 521.20H459.00" stroke="#00ff00" stroke-width="1.0"/>
</g>
<text x="6.5" y="15.7" font-family="Liberation Serif, serif" font-weight="bold" font-size="14.5" style="font-family:'Liberation Serif',serif">A</text>
<text x="6.5" y="123.7" font-family="Liberation Serif, serif" font-weight="bold" font-size="14.5" style="font-family:'Liberation Serif',serif">B</text>
<text x="6.5" y="233.5" font-family="Liberation Serif, serif" font-weight="bold" font-size="14.5" style="font-family:'Liberation Serif',serif">C</text>
<text x="6.5" y="340.7" font-family="Liberation Serif, serif" font-weight="bold" font-size="14.5" style="font-family:'Liberation Serif',serif">D</text>
<text x="6.5" y="441.7" font-family="Liberation Serif, serif" font-weight="bold" font-size="14.5" style="font-family:'Liberation Serif',serif">E</text>
<text transform="translate(247.95,117.90) scale(0.8,1)" text-anchor="middle" font-size="9.8" >Time (s)</text>
<text transform="translate(246.35,224.60) scale(0.8,1)" text-anchor="middle" font-size="9.8" >Time (s)</text>
<text transform="translate(250.25,330.20) scale(0.8,1)" text-anchor="middle" font-size="9.8" >Time (s)</text>
<text transform="translate(248.45,438.40) scale(0.8,1)" text-anchor="middle" font-size="9.8" >Time (s)</text>
<text transform="translate(251.30,542.90) scale(0.8,1)" text-anchor="middle" font-size="9.8" >Time (s)</text>
<text transform="translate(16.90,87.50) rotate(-90) scale(1,0.78)" font-size="9.2" textLength="16.20" lengthAdjust="spacingAndGlyphs">[Ca</text>
<text transform="translate(14.60,71.10) rotate(-90) scale(1,0.78)" font-size="9.6" textLength="8.70" lengthAdjust="spacingAndGlyphs">2+</text>
<text transform="translate(16.90,62.00) rotate(-90) scale(1,0.78)" font-size="9.2" textLength="3.40" lengthAdjust="spacingAndGlyphs">]</text>
<text transform="translate(21.80,58.00) rotate(-90) scale(1,0.78)" font-size="9.2" textLength="10.20" lengthAdjust="spacingAndGlyphs">ds</text>
<text transform="translate(17.40,44.90) rotate(-90) scale(1,0.78)" font-size="9.0" textLength="18.70" lengthAdjust="spacingAndGlyphs">(µM)</text>
<text transform="translate(18.60,194.90) rotate(-90) scale(1,0.78)" font-size="9.2" textLength="14.20" lengthAdjust="spacingAndGlyphs">[Ca</text>
<text transform="translate(14.90,180.50) rotate(-90) scale(1,0.78)" font-size="9.6" textLength="8.80" lengthAdjust="spacingAndGlyphs">2+</text>
<text transform="translate(18.60,171.30) rotate(-90) scale(1,0.78)" font-size="9.2" textLength="3.40" lengthAdjust="spacingAndGlyphs">]</text>
<text transform="translate(23.90,167.30) rotate(-90) scale(1,0.78)" font-size="9.2" textLength="10.80" lengthAdjust="spacingAndGlyphs">ds</text>
<text transform="translate(18.70,154.20) rotate(-90) scale(1,0.78)" font-size="9.0" textLength="18.70" lengthAdjust="spacingAndGlyphs">(µM)</text>
<text transform="translate(17.40,301.60) rotate(-90) scale(1,0.78)" font-size="9.2" textLength="14.90" lengthAdjust="spacingAndGlyphs">[Ca</text>
<text transform="translate(14.60,286.50) rotate(-90) scale(1,0.78)" font-size="9.6" textLength="9.40" lengthAdjust="spacingAndGlyphs">2+</text>
<text transform="translate(17.40,276.70) rotate(-90) scale(1,0.78)" font-size="9.2" textLength="3.40" lengthAdjust="spacingAndGlyphs">]</text>
<text transform="translate(21.00,272.70) rotate(-90) scale(1,0.78)" font-size="9.2" textLength="10.80" lengthAdjust="spacingAndGlyphs">jsr</text>
<text transform="translate(17.40,259.60) rotate(-90) scale(1,0.78)" font-size="9.0" textLength="16.70" lengthAdjust="spacingAndGlyphs">(µM)</text>
<text transform="translate(24.40,397.00) rotate(-90) scale(1,0.78)" font-size="9.4" textLength="36.40" lengthAdjust="spacingAndGlyphs">No(RyR)</text>
<text transform="translate(27.00,526.20) rotate(-90) scale(1,0.78)" font-size="9.2" textLength="26.60" lengthAdjust="spacingAndGlyphs">[CaCM</text>
<text transform="translate(23.30,499.40) rotate(-90) scale(1,0.78)" font-size="9.6" textLength="10.80" lengthAdjust="spacingAndGlyphs">2+</text>
<text transform="translate(27.00,488.20) rotate(-90) scale(1,0.78)" font-size="9.2" textLength="3.30" lengthAdjust="spacingAndGlyphs">]</text>
<text transform="translate(30.80,484.50) rotate(-90) scale(1,0.78)" font-size="9.2" textLength="10.90" lengthAdjust="spacingAndGlyphs">ds</text>
<text transform="translate(26.70,471.80) rotate(-90) scale(1,0.78)" font-size="9.0" textLength="19.80" lengthAdjust="spacingAndGlyphs">(µM)</text>
</svg></body></html>
